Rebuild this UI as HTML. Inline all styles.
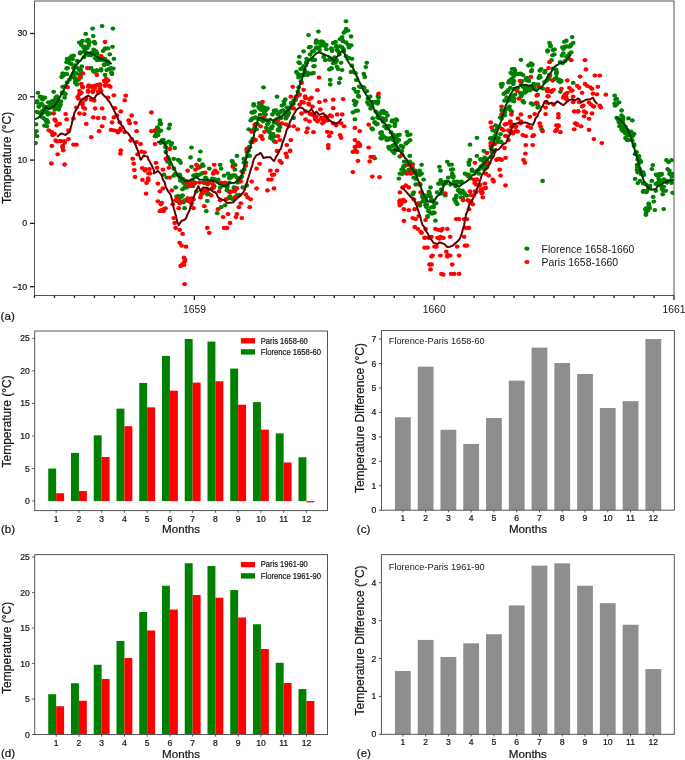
<!DOCTYPE html>
<html><head><meta charset="utf-8"><style>
html,body{margin:0;padding:0;background:#fff;}
svg{display:block;will-change:transform;font-family:"Liberation Sans", sans-serif;}
text{stroke:#161616;stroke-width:0.22px;}
text.ns{stroke:none;}
</style></head><body>
<svg width="685" height="760" viewBox="0 0 685 760">
<rect width="685" height="760" fill="#fff"/>
<defs><clipPath id="cpa"><rect x="34.5" y="1" width="639.5" height="294.5"/></clipPath></defs>
<g clip-path="url(#cpa)"><g fill="#008000">
<ellipse cx="102.1" cy="26.1" rx="2.4" ry="2.15"/>
<ellipse cx="92.6" cy="28.6" rx="2.4" ry="2.15"/>
<ellipse cx="112.9" cy="28.6" rx="2.4" ry="2.15"/>
<ellipse cx="85.7" cy="33.9" rx="2.4" ry="2.15"/>
<ellipse cx="93.2" cy="36.1" rx="2.4" ry="2.15"/>
<ellipse cx="82.4" cy="40.9" rx="2.4" ry="2.15"/>
<ellipse cx="86.9" cy="41.0" rx="2.4" ry="2.15"/>
<ellipse cx="89.3" cy="42.4" rx="2.4" ry="2.15"/>
<ellipse cx="94.2" cy="42.0" rx="2.4" ry="2.15"/>
<ellipse cx="81.4" cy="45.0" rx="2.4" ry="2.15"/>
<ellipse cx="83.7" cy="47.4" rx="2.4" ry="2.15"/>
<ellipse cx="87.3" cy="48.0" rx="2.4" ry="2.15"/>
<ellipse cx="80.4" cy="52.3" rx="2.4" ry="2.15"/>
<ellipse cx="85.3" cy="49.3" rx="2.4" ry="2.15"/>
<ellipse cx="103.1" cy="50.9" rx="2.4" ry="2.15"/>
<ellipse cx="108.0" cy="48.4" rx="2.4" ry="2.15"/>
<ellipse cx="112.5" cy="46.8" rx="2.4" ry="2.15"/>
<ellipse cx="71.5" cy="56.2" rx="2.4" ry="2.15"/>
<ellipse cx="68.5" cy="59.2" rx="2.4" ry="2.15"/>
<ellipse cx="72.5" cy="59.2" rx="2.4" ry="2.15"/>
<ellipse cx="88.3" cy="54.3" rx="2.4" ry="2.15"/>
<ellipse cx="91.2" cy="55.3" rx="2.4" ry="2.15"/>
<ellipse cx="93.2" cy="52.9" rx="2.4" ry="2.15"/>
<ellipse cx="97.2" cy="53.7" rx="2.4" ry="2.15"/>
<ellipse cx="99.1" cy="57.2" rx="2.4" ry="2.15"/>
<ellipse cx="101.1" cy="60.2" rx="2.4" ry="2.15"/>
<ellipse cx="95.2" cy="58.2" rx="2.4" ry="2.15"/>
<ellipse cx="113.9" cy="58.8" rx="2.4" ry="2.15"/>
<ellipse cx="105.0" cy="59.2" rx="2.4" ry="2.15"/>
<ellipse cx="107.0" cy="61.2" rx="2.4" ry="2.15"/>
<ellipse cx="66.6" cy="62.2" rx="2.4" ry="2.15"/>
<ellipse cx="69.5" cy="63.2" rx="2.4" ry="2.15"/>
<ellipse cx="67.6" cy="68.1" rx="2.4" ry="2.15"/>
<ellipse cx="77.4" cy="68.1" rx="2.4" ry="2.15"/>
<ellipse cx="80.4" cy="70.1" rx="2.4" ry="2.15"/>
<ellipse cx="76.4" cy="73.4" rx="2.4" ry="2.15"/>
<ellipse cx="79.4" cy="74.6" rx="2.4" ry="2.15"/>
<ellipse cx="91.2" cy="68.1" rx="2.4" ry="2.15"/>
<ellipse cx="93.2" cy="71.0" rx="2.4" ry="2.15"/>
<ellipse cx="97.2" cy="70.7" rx="2.4" ry="2.15"/>
<ellipse cx="101.1" cy="69.1" rx="2.4" ry="2.15"/>
<ellipse cx="104.1" cy="65.1" rx="2.4" ry="2.15"/>
<ellipse cx="108.0" cy="64.1" rx="2.4" ry="2.15"/>
<ellipse cx="109.0" cy="69.1" rx="2.4" ry="2.15"/>
<ellipse cx="111.0" cy="68.1" rx="2.4" ry="2.15"/>
<ellipse cx="112.0" cy="74.0" rx="2.4" ry="2.15"/>
<ellipse cx="105.0" cy="75.0" rx="2.4" ry="2.15"/>
<ellipse cx="62.6" cy="73.4" rx="2.4" ry="2.15"/>
<ellipse cx="65.6" cy="74.0" rx="2.4" ry="2.15"/>
<ellipse cx="61.6" cy="77.0" rx="2.4" ry="2.15"/>
<ellipse cx="73.5" cy="75.0" rx="2.4" ry="2.15"/>
<ellipse cx="74.5" cy="78.0" rx="2.4" ry="2.15"/>
<ellipse cx="76.4" cy="80.9" rx="2.4" ry="2.15"/>
<ellipse cx="78.4" cy="79.9" rx="2.4" ry="2.15"/>
<ellipse cx="75.4" cy="82.9" rx="2.4" ry="2.15"/>
<ellipse cx="62.6" cy="86.8" rx="2.4" ry="2.15"/>
<ellipse cx="63.6" cy="92.8" rx="2.4" ry="2.15"/>
<ellipse cx="64.6" cy="97.7" rx="2.4" ry="2.15"/>
<ellipse cx="53.7" cy="91.8" rx="2.4" ry="2.15"/>
<ellipse cx="37.9" cy="92.8" rx="2.4" ry="2.15"/>
<ellipse cx="39.9" cy="96.7" rx="2.4" ry="2.15"/>
<ellipse cx="41.9" cy="98.7" rx="2.4" ry="2.15"/>
<ellipse cx="44.9" cy="97.7" rx="2.4" ry="2.15"/>
<ellipse cx="37.0" cy="102.6" rx="2.4" ry="2.15"/>
<ellipse cx="38.9" cy="106.6" rx="2.4" ry="2.15"/>
<ellipse cx="41.9" cy="104.6" rx="2.4" ry="2.15"/>
<ellipse cx="44.9" cy="106.6" rx="2.4" ry="2.15"/>
<ellipse cx="48.8" cy="106.6" rx="2.4" ry="2.15"/>
<ellipse cx="50.8" cy="103.6" rx="2.4" ry="2.15"/>
<ellipse cx="53.7" cy="100.7" rx="2.4" ry="2.15"/>
<ellipse cx="55.7" cy="97.7" rx="2.4" ry="2.15"/>
<ellipse cx="52.7" cy="102.6" rx="2.4" ry="2.15"/>
<ellipse cx="57.7" cy="102.6" rx="2.4" ry="2.15"/>
<ellipse cx="59.7" cy="106.6" rx="2.4" ry="2.15"/>
<ellipse cx="58.7" cy="109.5" rx="2.4" ry="2.15"/>
<ellipse cx="54.7" cy="109.5" rx="2.4" ry="2.15"/>
<ellipse cx="45.8" cy="111.5" rx="2.4" ry="2.15"/>
<ellipse cx="47.8" cy="114.5" rx="2.4" ry="2.15"/>
<ellipse cx="49.8" cy="113.5" rx="2.4" ry="2.15"/>
<ellipse cx="43.9" cy="118.4" rx="2.4" ry="2.15"/>
<ellipse cx="45.8" cy="120.4" rx="2.4" ry="2.15"/>
<ellipse cx="47.8" cy="122.4" rx="2.4" ry="2.15"/>
<ellipse cx="46.8" cy="126.3" rx="2.4" ry="2.15"/>
<ellipse cx="41.9" cy="113.5" rx="2.4" ry="2.15"/>
<ellipse cx="36.0" cy="124.3" rx="2.4" ry="2.15"/>
<ellipse cx="36.4" cy="131.2" rx="2.4" ry="2.15"/>
<ellipse cx="37.0" cy="136.2" rx="2.4" ry="2.15"/>
<ellipse cx="35.6" cy="143.1" rx="2.4" ry="2.15"/>
<ellipse cx="263.5" cy="87.4" rx="2.4" ry="2.15"/>
<ellipse cx="253.7" cy="105.6" rx="2.4" ry="2.15"/>
<ellipse cx="258.6" cy="106.6" rx="2.4" ry="2.15"/>
<ellipse cx="261.6" cy="105.6" rx="2.4" ry="2.15"/>
<ellipse cx="264.5" cy="107.6" rx="2.4" ry="2.15"/>
<ellipse cx="267.5" cy="108.5" rx="2.4" ry="2.15"/>
<ellipse cx="260.6" cy="109.5" rx="2.4" ry="2.15"/>
<ellipse cx="265.5" cy="110.5" rx="2.4" ry="2.15"/>
<ellipse cx="251.7" cy="112.5" rx="2.4" ry="2.15"/>
<ellipse cx="254.7" cy="111.5" rx="2.4" ry="2.15"/>
<ellipse cx="252.7" cy="118.4" rx="2.4" ry="2.15"/>
<ellipse cx="250.7" cy="120.4" rx="2.4" ry="2.15"/>
<ellipse cx="265.5" cy="114.5" rx="2.4" ry="2.15"/>
<ellipse cx="257.6" cy="118.4" rx="2.4" ry="2.15"/>
<ellipse cx="260.6" cy="119.4" rx="2.4" ry="2.15"/>
<ellipse cx="268.5" cy="122.4" rx="2.4" ry="2.15"/>
<ellipse cx="272.4" cy="126.3" rx="2.4" ry="2.15"/>
<ellipse cx="270.4" cy="128.3" rx="2.4" ry="2.15"/>
<ellipse cx="267.5" cy="130.3" rx="2.4" ry="2.15"/>
<ellipse cx="248.7" cy="129.3" rx="2.4" ry="2.15"/>
<ellipse cx="252.7" cy="130.3" rx="2.4" ry="2.15"/>
<ellipse cx="256.6" cy="129.3" rx="2.4" ry="2.15"/>
<ellipse cx="269.5" cy="132.2" rx="2.4" ry="2.15"/>
<ellipse cx="270.4" cy="138.1" rx="2.4" ry="2.15"/>
<ellipse cx="272.4" cy="139.1" rx="2.4" ry="2.15"/>
<ellipse cx="159.9" cy="120.4" rx="2.4" ry="2.15"/>
<ellipse cx="159.9" cy="123.9" rx="2.4" ry="2.15"/>
<ellipse cx="169.8" cy="124.7" rx="2.4" ry="2.15"/>
<ellipse cx="168.8" cy="128.3" rx="2.4" ry="2.15"/>
<ellipse cx="157.9" cy="128.3" rx="2.4" ry="2.15"/>
<ellipse cx="160.9" cy="130.6" rx="2.4" ry="2.15"/>
<ellipse cx="156.0" cy="132.2" rx="2.4" ry="2.15"/>
<ellipse cx="157.9" cy="135.2" rx="2.4" ry="2.15"/>
<ellipse cx="156.0" cy="136.2" rx="2.4" ry="2.15"/>
<ellipse cx="161.9" cy="140.5" rx="2.4" ry="2.15"/>
<ellipse cx="168.8" cy="141.7" rx="2.4" ry="2.15"/>
<ellipse cx="171.8" cy="143.1" rx="2.4" ry="2.15"/>
<ellipse cx="174.7" cy="148.0" rx="2.4" ry="2.15"/>
<ellipse cx="191.5" cy="147.6" rx="2.4" ry="2.15"/>
<ellipse cx="272.4" cy="114.5" rx="2.4" ry="2.15"/>
<ellipse cx="250.7" cy="142.1" rx="2.4" ry="2.15"/>
<ellipse cx="165.8" cy="152.0" rx="2.4" ry="2.15"/>
<ellipse cx="173.7" cy="158.9" rx="2.4" ry="2.15"/>
<ellipse cx="179.7" cy="160.9" rx="2.4" ry="2.15"/>
<ellipse cx="180.6" cy="162.8" rx="2.4" ry="2.15"/>
<ellipse cx="190.5" cy="157.5" rx="2.4" ry="2.15"/>
<ellipse cx="199.4" cy="159.9" rx="2.4" ry="2.15"/>
<ellipse cx="200.4" cy="151.6" rx="2.4" ry="2.15"/>
<ellipse cx="191.5" cy="166.8" rx="2.4" ry="2.15"/>
<ellipse cx="197.4" cy="165.8" rx="2.4" ry="2.15"/>
<ellipse cx="203.3" cy="165.8" rx="2.4" ry="2.15"/>
<ellipse cx="209.3" cy="168.7" rx="2.4" ry="2.15"/>
<ellipse cx="220.1" cy="164.8" rx="2.4" ry="2.15"/>
<ellipse cx="221.1" cy="168.7" rx="2.4" ry="2.15"/>
<ellipse cx="232.0" cy="160.9" rx="2.4" ry="2.15"/>
<ellipse cx="236.9" cy="155.9" rx="2.4" ry="2.15"/>
<ellipse cx="232.9" cy="165.8" rx="2.4" ry="2.15"/>
<ellipse cx="234.9" cy="169.7" rx="2.4" ry="2.15"/>
<ellipse cx="243.8" cy="158.9" rx="2.4" ry="2.15"/>
<ellipse cx="246.8" cy="152.0" rx="2.4" ry="2.15"/>
<ellipse cx="247.7" cy="154.9" rx="2.4" ry="2.15"/>
<ellipse cx="173.7" cy="175.7" rx="2.4" ry="2.15"/>
<ellipse cx="179.7" cy="174.7" rx="2.4" ry="2.15"/>
<ellipse cx="181.6" cy="179.6" rx="2.4" ry="2.15"/>
<ellipse cx="185.6" cy="184.5" rx="2.4" ry="2.15"/>
<ellipse cx="186.6" cy="187.5" rx="2.4" ry="2.15"/>
<ellipse cx="193.5" cy="175.7" rx="2.4" ry="2.15"/>
<ellipse cx="196.4" cy="174.7" rx="2.4" ry="2.15"/>
<ellipse cx="201.4" cy="173.7" rx="2.4" ry="2.15"/>
<ellipse cx="206.3" cy="178.6" rx="2.4" ry="2.15"/>
<ellipse cx="212.2" cy="178.6" rx="2.4" ry="2.15"/>
<ellipse cx="218.1" cy="179.6" rx="2.4" ry="2.15"/>
<ellipse cx="224.1" cy="175.7" rx="2.4" ry="2.15"/>
<ellipse cx="228.0" cy="173.7" rx="2.4" ry="2.15"/>
<ellipse cx="231.0" cy="177.6" rx="2.4" ry="2.15"/>
<ellipse cx="236.9" cy="177.6" rx="2.4" ry="2.15"/>
<ellipse cx="241.8" cy="176.6" rx="2.4" ry="2.15"/>
<ellipse cx="163.9" cy="174.7" rx="2.4" ry="2.15"/>
<ellipse cx="166.8" cy="177.6" rx="2.4" ry="2.15"/>
<ellipse cx="175.7" cy="187.5" rx="2.4" ry="2.15"/>
<ellipse cx="184.6" cy="187.5" rx="2.4" ry="2.15"/>
<ellipse cx="191.5" cy="184.5" rx="2.4" ry="2.15"/>
<ellipse cx="196.4" cy="191.4" rx="2.4" ry="2.15"/>
<ellipse cx="203.3" cy="192.4" rx="2.4" ry="2.15"/>
<ellipse cx="207.3" cy="194.4" rx="2.4" ry="2.15"/>
<ellipse cx="214.2" cy="186.5" rx="2.4" ry="2.15"/>
<ellipse cx="223.1" cy="185.5" rx="2.4" ry="2.15"/>
<ellipse cx="227.0" cy="187.5" rx="2.4" ry="2.15"/>
<ellipse cx="229.0" cy="191.4" rx="2.4" ry="2.15"/>
<ellipse cx="233.9" cy="187.5" rx="2.4" ry="2.15"/>
<ellipse cx="176.7" cy="196.4" rx="2.4" ry="2.15"/>
<ellipse cx="182.6" cy="195.4" rx="2.4" ry="2.15"/>
<ellipse cx="177.7" cy="201.3" rx="2.4" ry="2.15"/>
<ellipse cx="183.6" cy="202.3" rx="2.4" ry="2.15"/>
<ellipse cx="184.6" cy="208.2" rx="2.4" ry="2.15"/>
<ellipse cx="206.3" cy="211.2" rx="2.4" ry="2.15"/>
<ellipse cx="207.3" cy="200.9" rx="2.4" ry="2.15"/>
<ellipse cx="217.2" cy="213.2" rx="2.4" ry="2.15"/>
<ellipse cx="221.1" cy="207.2" rx="2.4" ry="2.15"/>
<ellipse cx="225.0" cy="205.3" rx="2.4" ry="2.15"/>
<ellipse cx="230.0" cy="196.4" rx="2.4" ry="2.15"/>
<ellipse cx="232.9" cy="199.3" rx="2.4" ry="2.15"/>
<ellipse cx="236.9" cy="195.4" rx="2.4" ry="2.15"/>
<ellipse cx="242.8" cy="187.5" rx="2.4" ry="2.15"/>
<ellipse cx="246.8" cy="185.5" rx="2.4" ry="2.15"/>
<ellipse cx="346.0" cy="21.3" rx="2.4" ry="2.15"/>
<ellipse cx="318.4" cy="31.6" rx="2.4" ry="2.15"/>
<ellipse cx="348.0" cy="30.6" rx="2.4" ry="2.15"/>
<ellipse cx="345.0" cy="31.6" rx="2.4" ry="2.15"/>
<ellipse cx="351.0" cy="36.5" rx="2.4" ry="2.15"/>
<ellipse cx="308.5" cy="35.1" rx="2.4" ry="2.15"/>
<ellipse cx="342.1" cy="37.1" rx="2.4" ry="2.15"/>
<ellipse cx="316.4" cy="40.5" rx="2.4" ry="2.15"/>
<ellipse cx="319.4" cy="42.4" rx="2.4" ry="2.15"/>
<ellipse cx="323.3" cy="42.4" rx="2.4" ry="2.15"/>
<ellipse cx="326.3" cy="45.0" rx="2.4" ry="2.15"/>
<ellipse cx="321.4" cy="45.4" rx="2.4" ry="2.15"/>
<ellipse cx="333.2" cy="43.0" rx="2.4" ry="2.15"/>
<ellipse cx="336.2" cy="46.4" rx="2.4" ry="2.15"/>
<ellipse cx="343.1" cy="41.4" rx="2.4" ry="2.15"/>
<ellipse cx="346.0" cy="42.4" rx="2.4" ry="2.15"/>
<ellipse cx="349.0" cy="47.4" rx="2.4" ry="2.15"/>
<ellipse cx="310.5" cy="46.8" rx="2.4" ry="2.15"/>
<ellipse cx="316.4" cy="47.4" rx="2.4" ry="2.15"/>
<ellipse cx="331.2" cy="48.4" rx="2.4" ry="2.15"/>
<ellipse cx="303.6" cy="51.3" rx="2.4" ry="2.15"/>
<ellipse cx="313.5" cy="51.3" rx="2.4" ry="2.15"/>
<ellipse cx="338.1" cy="51.3" rx="2.4" ry="2.15"/>
<ellipse cx="342.1" cy="47.4" rx="2.4" ry="2.15"/>
<ellipse cx="299.3" cy="56.8" rx="2.4" ry="2.15"/>
<ellipse cx="306.6" cy="58.8" rx="2.4" ry="2.15"/>
<ellipse cx="312.5" cy="60.2" rx="2.4" ry="2.15"/>
<ellipse cx="325.3" cy="60.2" rx="2.4" ry="2.15"/>
<ellipse cx="329.3" cy="59.2" rx="2.4" ry="2.15"/>
<ellipse cx="333.2" cy="63.2" rx="2.4" ry="2.15"/>
<ellipse cx="341.1" cy="62.8" rx="2.4" ry="2.15"/>
<ellipse cx="352.0" cy="58.8" rx="2.4" ry="2.15"/>
<ellipse cx="366.8" cy="62.8" rx="2.4" ry="2.15"/>
<ellipse cx="365.8" cy="67.1" rx="2.4" ry="2.15"/>
<ellipse cx="299.7" cy="63.2" rx="2.4" ry="2.15"/>
<ellipse cx="303.6" cy="66.1" rx="2.4" ry="2.15"/>
<ellipse cx="300.6" cy="69.1" rx="2.4" ry="2.15"/>
<ellipse cx="314.5" cy="66.1" rx="2.4" ry="2.15"/>
<ellipse cx="331.2" cy="68.1" rx="2.4" ry="2.15"/>
<ellipse cx="329.3" cy="69.5" rx="2.4" ry="2.15"/>
<ellipse cx="338.1" cy="69.1" rx="2.4" ry="2.15"/>
<ellipse cx="342.1" cy="70.1" rx="2.4" ry="2.15"/>
<ellipse cx="297.7" cy="74.0" rx="2.4" ry="2.15"/>
<ellipse cx="307.6" cy="75.0" rx="2.4" ry="2.15"/>
<ellipse cx="313.5" cy="73.0" rx="2.4" ry="2.15"/>
<ellipse cx="363.8" cy="74.0" rx="2.4" ry="2.15"/>
<ellipse cx="364.8" cy="77.0" rx="2.4" ry="2.15"/>
<ellipse cx="330.2" cy="79.9" rx="2.4" ry="2.15"/>
<ellipse cx="340.1" cy="78.5" rx="2.4" ry="2.15"/>
<ellipse cx="330.2" cy="84.5" rx="2.4" ry="2.15"/>
<ellipse cx="339.1" cy="82.9" rx="2.4" ry="2.15"/>
<ellipse cx="299.7" cy="76.0" rx="2.4" ry="2.15"/>
<ellipse cx="304.6" cy="73.0" rx="2.4" ry="2.15"/>
<ellipse cx="351.0" cy="72.0" rx="2.4" ry="2.15"/>
<ellipse cx="353.9" cy="88.8" rx="2.4" ry="2.15"/>
<ellipse cx="357.9" cy="91.8" rx="2.4" ry="2.15"/>
<ellipse cx="360.8" cy="86.8" rx="2.4" ry="2.15"/>
<ellipse cx="366.8" cy="91.2" rx="2.4" ry="2.15"/>
<ellipse cx="277.0" cy="96.7" rx="2.4" ry="2.15"/>
<ellipse cx="283.9" cy="101.6" rx="2.4" ry="2.15"/>
<ellipse cx="281.9" cy="105.6" rx="2.4" ry="2.15"/>
<ellipse cx="286.8" cy="107.6" rx="2.4" ry="2.15"/>
<ellipse cx="291.8" cy="104.6" rx="2.4" ry="2.15"/>
<ellipse cx="293.7" cy="100.7" rx="2.4" ry="2.15"/>
<ellipse cx="276.0" cy="110.5" rx="2.4" ry="2.15"/>
<ellipse cx="280.9" cy="111.5" rx="2.4" ry="2.15"/>
<ellipse cx="277.9" cy="114.5" rx="2.4" ry="2.15"/>
<ellipse cx="284.9" cy="114.1" rx="2.4" ry="2.15"/>
<ellipse cx="288.8" cy="112.9" rx="2.4" ry="2.15"/>
<ellipse cx="275.0" cy="120.4" rx="2.4" ry="2.15"/>
<ellipse cx="277.9" cy="123.9" rx="2.4" ry="2.15"/>
<ellipse cx="285.8" cy="118.4" rx="2.4" ry="2.15"/>
<ellipse cx="293.7" cy="118.0" rx="2.4" ry="2.15"/>
<ellipse cx="279.9" cy="127.3" rx="2.4" ry="2.15"/>
<ellipse cx="277.9" cy="129.9" rx="2.4" ry="2.15"/>
<ellipse cx="274.0" cy="136.2" rx="2.4" ry="2.15"/>
<ellipse cx="353.9" cy="100.7" rx="2.4" ry="2.15"/>
<ellipse cx="354.9" cy="104.6" rx="2.4" ry="2.15"/>
<ellipse cx="352.9" cy="112.5" rx="2.4" ry="2.15"/>
<ellipse cx="355.9" cy="110.9" rx="2.4" ry="2.15"/>
<ellipse cx="358.9" cy="96.7" rx="2.4" ry="2.15"/>
<ellipse cx="354.9" cy="119.4" rx="2.4" ry="2.15"/>
<ellipse cx="368.7" cy="104.6" rx="2.4" ry="2.15"/>
<ellipse cx="374.7" cy="102.6" rx="2.4" ry="2.15"/>
<ellipse cx="377.6" cy="103.6" rx="2.4" ry="2.15"/>
<ellipse cx="378.6" cy="97.7" rx="2.4" ry="2.15"/>
<ellipse cx="370.7" cy="108.5" rx="2.4" ry="2.15"/>
<ellipse cx="379.6" cy="114.5" rx="2.4" ry="2.15"/>
<ellipse cx="381.6" cy="111.5" rx="2.4" ry="2.15"/>
<ellipse cx="384.5" cy="112.5" rx="2.4" ry="2.15"/>
<ellipse cx="387.5" cy="115.5" rx="2.4" ry="2.15"/>
<ellipse cx="372.7" cy="118.4" rx="2.4" ry="2.15"/>
<ellipse cx="374.7" cy="122.4" rx="2.4" ry="2.15"/>
<ellipse cx="376.6" cy="124.3" rx="2.4" ry="2.15"/>
<ellipse cx="371.7" cy="128.3" rx="2.4" ry="2.15"/>
<ellipse cx="382.5" cy="118.4" rx="2.4" ry="2.15"/>
<ellipse cx="385.5" cy="120.4" rx="2.4" ry="2.15"/>
<ellipse cx="389.5" cy="126.3" rx="2.4" ry="2.15"/>
<ellipse cx="384.5" cy="126.3" rx="2.4" ry="2.15"/>
<ellipse cx="381.6" cy="132.2" rx="2.4" ry="2.15"/>
<ellipse cx="383.5" cy="136.2" rx="2.4" ry="2.15"/>
<ellipse cx="386.5" cy="138.1" rx="2.4" ry="2.15"/>
<ellipse cx="390.4" cy="138.1" rx="2.4" ry="2.15"/>
<ellipse cx="392.4" cy="146.0" rx="2.4" ry="2.15"/>
<ellipse cx="388.5" cy="147.0" rx="2.4" ry="2.15"/>
<ellipse cx="392.4" cy="120.4" rx="2.4" ry="2.15"/>
<ellipse cx="380.6" cy="138.1" rx="2.4" ry="2.15"/>
<ellipse cx="374.7" cy="158.3" rx="2.4" ry="2.15"/>
<ellipse cx="392.4" cy="151.0" rx="2.4" ry="2.15"/>
<ellipse cx="512.0" cy="69.1" rx="2.4" ry="2.15"/>
<ellipse cx="512.4" cy="74.0" rx="2.4" ry="2.15"/>
<ellipse cx="502.5" cy="83.9" rx="2.4" ry="2.15"/>
<ellipse cx="508.5" cy="82.5" rx="2.4" ry="2.15"/>
<ellipse cx="512.4" cy="82.9" rx="2.4" ry="2.15"/>
<ellipse cx="501.6" cy="86.8" rx="2.4" ry="2.15"/>
<ellipse cx="507.5" cy="91.8" rx="2.4" ry="2.15"/>
<ellipse cx="505.5" cy="92.8" rx="2.4" ry="2.15"/>
<ellipse cx="510.4" cy="87.8" rx="2.4" ry="2.15"/>
<ellipse cx="504.5" cy="100.7" rx="2.4" ry="2.15"/>
<ellipse cx="512.4" cy="100.7" rx="2.4" ry="2.15"/>
<ellipse cx="509.5" cy="106.6" rx="2.4" ry="2.15"/>
<ellipse cx="501.6" cy="110.1" rx="2.4" ry="2.15"/>
<ellipse cx="504.5" cy="110.5" rx="2.4" ry="2.15"/>
<ellipse cx="510.4" cy="110.1" rx="2.4" ry="2.15"/>
<ellipse cx="396.0" cy="119.4" rx="2.4" ry="2.15"/>
<ellipse cx="395.0" cy="123.9" rx="2.4" ry="2.15"/>
<ellipse cx="406.8" cy="131.8" rx="2.4" ry="2.15"/>
<ellipse cx="407.8" cy="135.2" rx="2.4" ry="2.15"/>
<ellipse cx="397.9" cy="135.2" rx="2.4" ry="2.15"/>
<ellipse cx="398.9" cy="140.1" rx="2.4" ry="2.15"/>
<ellipse cx="397.0" cy="142.1" rx="2.4" ry="2.15"/>
<ellipse cx="407.8" cy="142.1" rx="2.4" ry="2.15"/>
<ellipse cx="405.8" cy="143.7" rx="2.4" ry="2.15"/>
<ellipse cx="402.9" cy="147.0" rx="2.4" ry="2.15"/>
<ellipse cx="476.9" cy="137.8" rx="2.4" ry="2.15"/>
<ellipse cx="470.0" cy="144.7" rx="2.4" ry="2.15"/>
<ellipse cx="495.6" cy="125.3" rx="2.4" ry="2.15"/>
<ellipse cx="492.7" cy="130.3" rx="2.4" ry="2.15"/>
<ellipse cx="500.6" cy="134.2" rx="2.4" ry="2.15"/>
<ellipse cx="498.6" cy="138.1" rx="2.4" ry="2.15"/>
<ellipse cx="490.7" cy="138.1" rx="2.4" ry="2.15"/>
<ellipse cx="492.7" cy="140.1" rx="2.4" ry="2.15"/>
<ellipse cx="497.6" cy="142.1" rx="2.4" ry="2.15"/>
<ellipse cx="500.6" cy="141.7" rx="2.4" ry="2.15"/>
<ellipse cx="394.0" cy="138.1" rx="2.4" ry="2.15"/>
<ellipse cx="394.0" cy="151.0" rx="2.4" ry="2.15"/>
<ellipse cx="401.9" cy="151.0" rx="2.4" ry="2.15"/>
<ellipse cx="409.8" cy="155.9" rx="2.4" ry="2.15"/>
<ellipse cx="421.6" cy="164.8" rx="2.4" ry="2.15"/>
<ellipse cx="404.9" cy="165.8" rx="2.4" ry="2.15"/>
<ellipse cx="402.9" cy="168.7" rx="2.4" ry="2.15"/>
<ellipse cx="403.9" cy="170.7" rx="2.4" ry="2.15"/>
<ellipse cx="399.9" cy="173.7" rx="2.4" ry="2.15"/>
<ellipse cx="398.9" cy="178.6" rx="2.4" ry="2.15"/>
<ellipse cx="408.8" cy="169.7" rx="2.4" ry="2.15"/>
<ellipse cx="411.8" cy="169.7" rx="2.4" ry="2.15"/>
<ellipse cx="415.7" cy="171.7" rx="2.4" ry="2.15"/>
<ellipse cx="419.7" cy="170.7" rx="2.4" ry="2.15"/>
<ellipse cx="421.6" cy="173.7" rx="2.4" ry="2.15"/>
<ellipse cx="423.6" cy="179.6" rx="2.4" ry="2.15"/>
<ellipse cx="413.7" cy="177.6" rx="2.4" ry="2.15"/>
<ellipse cx="415.7" cy="184.5" rx="2.4" ry="2.15"/>
<ellipse cx="412.7" cy="194.4" rx="2.4" ry="2.15"/>
<ellipse cx="413.7" cy="192.4" rx="2.4" ry="2.15"/>
<ellipse cx="419.7" cy="203.3" rx="2.4" ry="2.15"/>
<ellipse cx="422.6" cy="197.4" rx="2.4" ry="2.15"/>
<ellipse cx="424.6" cy="201.3" rx="2.4" ry="2.15"/>
<ellipse cx="425.6" cy="205.3" rx="2.4" ry="2.15"/>
<ellipse cx="428.5" cy="211.2" rx="2.4" ry="2.15"/>
<ellipse cx="426.6" cy="207.2" rx="2.4" ry="2.15"/>
<ellipse cx="433.5" cy="207.2" rx="2.4" ry="2.15"/>
<ellipse cx="434.5" cy="212.8" rx="2.4" ry="2.15"/>
<ellipse cx="430.5" cy="212.8" rx="2.4" ry="2.15"/>
<ellipse cx="427.6" cy="216.1" rx="2.4" ry="2.15"/>
<ellipse cx="435.4" cy="220.7" rx="2.4" ry="2.15"/>
<ellipse cx="430.5" cy="187.5" rx="2.4" ry="2.15"/>
<ellipse cx="429.5" cy="193.4" rx="2.4" ry="2.15"/>
<ellipse cx="430.5" cy="196.4" rx="2.4" ry="2.15"/>
<ellipse cx="431.5" cy="199.3" rx="2.4" ry="2.15"/>
<ellipse cx="434.5" cy="203.3" rx="2.4" ry="2.15"/>
<ellipse cx="439.4" cy="166.8" rx="2.4" ry="2.15"/>
<ellipse cx="440.4" cy="170.7" rx="2.4" ry="2.15"/>
<ellipse cx="447.3" cy="161.8" rx="2.4" ry="2.15"/>
<ellipse cx="449.3" cy="164.8" rx="2.4" ry="2.15"/>
<ellipse cx="451.2" cy="169.7" rx="2.4" ry="2.15"/>
<ellipse cx="452.2" cy="173.7" rx="2.4" ry="2.15"/>
<ellipse cx="453.2" cy="177.6" rx="2.4" ry="2.15"/>
<ellipse cx="438.4" cy="183.6" rx="2.4" ry="2.15"/>
<ellipse cx="441.4" cy="182.6" rx="2.4" ry="2.15"/>
<ellipse cx="443.3" cy="184.5" rx="2.4" ry="2.15"/>
<ellipse cx="446.3" cy="181.6" rx="2.4" ry="2.15"/>
<ellipse cx="441.4" cy="189.5" rx="2.4" ry="2.15"/>
<ellipse cx="445.3" cy="195.4" rx="2.4" ry="2.15"/>
<ellipse cx="454.2" cy="181.6" rx="2.4" ry="2.15"/>
<ellipse cx="457.2" cy="181.6" rx="2.4" ry="2.15"/>
<ellipse cx="461.1" cy="181.6" rx="2.4" ry="2.15"/>
<ellipse cx="458.1" cy="190.5" rx="2.4" ry="2.15"/>
<ellipse cx="460.1" cy="192.4" rx="2.4" ry="2.15"/>
<ellipse cx="462.1" cy="191.4" rx="2.4" ry="2.15"/>
<ellipse cx="465.0" cy="194.4" rx="2.4" ry="2.15"/>
<ellipse cx="461.1" cy="197.4" rx="2.4" ry="2.15"/>
<ellipse cx="455.2" cy="200.3" rx="2.4" ry="2.15"/>
<ellipse cx="456.2" cy="202.3" rx="2.4" ry="2.15"/>
<ellipse cx="456.2" cy="197.4" rx="2.4" ry="2.15"/>
<ellipse cx="467.0" cy="174.7" rx="2.4" ry="2.15"/>
<ellipse cx="465.0" cy="173.7" rx="2.4" ry="2.15"/>
<ellipse cx="469.0" cy="164.8" rx="2.4" ry="2.15"/>
<ellipse cx="472.0" cy="169.7" rx="2.4" ry="2.15"/>
<ellipse cx="470.0" cy="159.9" rx="2.4" ry="2.15"/>
<ellipse cx="476.9" cy="155.9" rx="2.4" ry="2.15"/>
<ellipse cx="480.8" cy="159.9" rx="2.4" ry="2.15"/>
<ellipse cx="483.8" cy="161.8" rx="2.4" ry="2.15"/>
<ellipse cx="486.8" cy="158.9" rx="2.4" ry="2.15"/>
<ellipse cx="480.8" cy="166.8" rx="2.4" ry="2.15"/>
<ellipse cx="483.8" cy="168.7" rx="2.4" ry="2.15"/>
<ellipse cx="486.8" cy="166.8" rx="2.4" ry="2.15"/>
<ellipse cx="478.9" cy="173.7" rx="2.4" ry="2.15"/>
<ellipse cx="483.8" cy="151.0" rx="2.4" ry="2.15"/>
<ellipse cx="491.7" cy="152.0" rx="2.4" ry="2.15"/>
<ellipse cx="572.2" cy="37.1" rx="2.4" ry="2.15"/>
<ellipse cx="549.5" cy="43.0" rx="2.4" ry="2.15"/>
<ellipse cx="564.3" cy="41.8" rx="2.4" ry="2.15"/>
<ellipse cx="573.2" cy="43.0" rx="2.4" ry="2.15"/>
<ellipse cx="550.5" cy="46.4" rx="2.4" ry="2.15"/>
<ellipse cx="547.6" cy="50.3" rx="2.4" ry="2.15"/>
<ellipse cx="554.5" cy="49.3" rx="2.4" ry="2.15"/>
<ellipse cx="562.4" cy="47.4" rx="2.4" ry="2.15"/>
<ellipse cx="566.3" cy="46.4" rx="2.4" ry="2.15"/>
<ellipse cx="570.2" cy="46.4" rx="2.4" ry="2.15"/>
<ellipse cx="571.2" cy="52.3" rx="2.4" ry="2.15"/>
<ellipse cx="552.5" cy="55.3" rx="2.4" ry="2.15"/>
<ellipse cx="563.3" cy="53.3" rx="2.4" ry="2.15"/>
<ellipse cx="567.3" cy="56.2" rx="2.4" ry="2.15"/>
<ellipse cx="551.5" cy="60.2" rx="2.4" ry="2.15"/>
<ellipse cx="520.9" cy="59.8" rx="2.4" ry="2.15"/>
<ellipse cx="530.8" cy="63.5" rx="2.4" ry="2.15"/>
<ellipse cx="531.8" cy="65.5" rx="2.4" ry="2.15"/>
<ellipse cx="562.4" cy="63.2" rx="2.4" ry="2.15"/>
<ellipse cx="531.8" cy="70.1" rx="2.4" ry="2.15"/>
<ellipse cx="539.7" cy="70.7" rx="2.4" ry="2.15"/>
<ellipse cx="544.6" cy="72.6" rx="2.4" ry="2.15"/>
<ellipse cx="517.9" cy="74.0" rx="2.4" ry="2.15"/>
<ellipse cx="520.9" cy="74.0" rx="2.4" ry="2.15"/>
<ellipse cx="514.0" cy="76.0" rx="2.4" ry="2.15"/>
<ellipse cx="538.7" cy="78.0" rx="2.4" ry="2.15"/>
<ellipse cx="556.4" cy="74.0" rx="2.4" ry="2.15"/>
<ellipse cx="556.4" cy="78.0" rx="2.4" ry="2.15"/>
<ellipse cx="559.4" cy="79.9" rx="2.4" ry="2.15"/>
<ellipse cx="561.4" cy="80.9" rx="2.4" ry="2.15"/>
<ellipse cx="525.8" cy="78.9" rx="2.4" ry="2.15"/>
<ellipse cx="528.8" cy="80.9" rx="2.4" ry="2.15"/>
<ellipse cx="533.7" cy="85.8" rx="2.4" ry="2.15"/>
<ellipse cx="522.9" cy="86.8" rx="2.4" ry="2.15"/>
<ellipse cx="524.9" cy="90.8" rx="2.4" ry="2.15"/>
<ellipse cx="526.8" cy="90.8" rx="2.4" ry="2.15"/>
<ellipse cx="528.8" cy="88.8" rx="2.4" ry="2.15"/>
<ellipse cx="519.9" cy="92.8" rx="2.4" ry="2.15"/>
<ellipse cx="521.9" cy="94.7" rx="2.4" ry="2.15"/>
<ellipse cx="515.0" cy="94.7" rx="2.4" ry="2.15"/>
<ellipse cx="514.0" cy="98.7" rx="2.4" ry="2.15"/>
<ellipse cx="522.9" cy="101.6" rx="2.4" ry="2.15"/>
<ellipse cx="523.9" cy="102.6" rx="2.4" ry="2.15"/>
<ellipse cx="532.7" cy="104.6" rx="2.4" ry="2.15"/>
<ellipse cx="535.7" cy="103.6" rx="2.4" ry="2.15"/>
<ellipse cx="537.7" cy="107.6" rx="2.4" ry="2.15"/>
<ellipse cx="560.4" cy="91.8" rx="2.4" ry="2.15"/>
<ellipse cx="573.2" cy="82.9" rx="2.4" ry="2.15"/>
<ellipse cx="537.7" cy="94.7" rx="2.4" ry="2.15"/>
<ellipse cx="614.7" cy="95.7" rx="2.4" ry="2.15"/>
<ellipse cx="615.6" cy="99.7" rx="2.4" ry="2.15"/>
<ellipse cx="614.7" cy="103.6" rx="2.4" ry="2.15"/>
<ellipse cx="616.6" cy="104.6" rx="2.4" ry="2.15"/>
<ellipse cx="621.6" cy="110.5" rx="2.4" ry="2.15"/>
<ellipse cx="621.6" cy="115.5" rx="2.4" ry="2.15"/>
<ellipse cx="617.6" cy="118.4" rx="2.4" ry="2.15"/>
<ellipse cx="618.6" cy="120.4" rx="2.4" ry="2.15"/>
<ellipse cx="622.5" cy="122.4" rx="2.4" ry="2.15"/>
<ellipse cx="619.6" cy="126.3" rx="2.4" ry="2.15"/>
<ellipse cx="621.6" cy="129.3" rx="2.4" ry="2.15"/>
<ellipse cx="628.5" cy="118.4" rx="2.4" ry="2.15"/>
<ellipse cx="632.4" cy="120.4" rx="2.4" ry="2.15"/>
<ellipse cx="624.5" cy="130.3" rx="2.4" ry="2.15"/>
<ellipse cx="627.5" cy="134.2" rx="2.4" ry="2.15"/>
<ellipse cx="630.4" cy="132.2" rx="2.4" ry="2.15"/>
<ellipse cx="625.5" cy="138.1" rx="2.4" ry="2.15"/>
<ellipse cx="628.5" cy="140.1" rx="2.4" ry="2.15"/>
<ellipse cx="632.4" cy="136.2" rx="2.4" ry="2.15"/>
<ellipse cx="541.6" cy="129.3" rx="2.4" ry="2.15"/>
<ellipse cx="515.0" cy="71.0" rx="2.4" ry="2.15"/>
<ellipse cx="514.0" cy="80.9" rx="2.4" ry="2.15"/>
<ellipse cx="539.7" cy="76.0" rx="2.4" ry="2.15"/>
<ellipse cx="542.6" cy="181.0" rx="2.4" ry="2.15"/>
<ellipse cx="634.1" cy="144.4" rx="2.4" ry="2.15"/>
<ellipse cx="639.0" cy="156.2" rx="2.4" ry="2.15"/>
<ellipse cx="640.0" cy="160.2" rx="2.4" ry="2.15"/>
<ellipse cx="637.0" cy="165.1" rx="2.4" ry="2.15"/>
<ellipse cx="637.0" cy="170.1" rx="2.4" ry="2.15"/>
<ellipse cx="641.0" cy="174.0" rx="2.4" ry="2.15"/>
<ellipse cx="643.9" cy="175.0" rx="2.4" ry="2.15"/>
<ellipse cx="635.1" cy="178.9" rx="2.4" ry="2.15"/>
<ellipse cx="640.0" cy="180.9" rx="2.4" ry="2.15"/>
<ellipse cx="643.0" cy="191.8" rx="2.4" ry="2.15"/>
<ellipse cx="645.9" cy="191.8" rx="2.4" ry="2.15"/>
<ellipse cx="649.9" cy="187.8" rx="2.4" ry="2.15"/>
<ellipse cx="652.8" cy="165.1" rx="2.4" ry="2.15"/>
<ellipse cx="651.8" cy="169.1" rx="2.4" ry="2.15"/>
<ellipse cx="651.8" cy="180.9" rx="2.4" ry="2.15"/>
<ellipse cx="656.8" cy="175.0" rx="2.4" ry="2.15"/>
<ellipse cx="659.7" cy="174.0" rx="2.4" ry="2.15"/>
<ellipse cx="661.7" cy="174.0" rx="2.4" ry="2.15"/>
<ellipse cx="658.7" cy="178.9" rx="2.4" ry="2.15"/>
<ellipse cx="657.8" cy="182.9" rx="2.4" ry="2.15"/>
<ellipse cx="661.7" cy="182.9" rx="2.4" ry="2.15"/>
<ellipse cx="663.7" cy="186.8" rx="2.4" ry="2.15"/>
<ellipse cx="667.6" cy="169.1" rx="2.4" ry="2.15"/>
<ellipse cx="668.6" cy="162.2" rx="2.4" ry="2.15"/>
<ellipse cx="671.6" cy="160.2" rx="2.4" ry="2.15"/>
<ellipse cx="669.6" cy="174.0" rx="2.4" ry="2.15"/>
<ellipse cx="672.6" cy="174.0" rx="2.4" ry="2.15"/>
<ellipse cx="671.6" cy="182.9" rx="2.4" ry="2.15"/>
<ellipse cx="672.6" cy="192.8" rx="2.4" ry="2.15"/>
<ellipse cx="665.7" cy="190.8" rx="2.4" ry="2.15"/>
<ellipse cx="662.7" cy="194.3" rx="2.4" ry="2.15"/>
<ellipse cx="653.8" cy="201.6" rx="2.4" ry="2.15"/>
<ellipse cx="648.9" cy="205.6" rx="2.4" ry="2.15"/>
<ellipse cx="645.9" cy="208.5" rx="2.4" ry="2.15"/>
<ellipse cx="647.9" cy="210.5" rx="2.4" ry="2.15"/>
<ellipse cx="654.8" cy="210.1" rx="2.4" ry="2.15"/>
<ellipse cx="663.7" cy="209.1" rx="2.4" ry="2.15"/>
<ellipse cx="645.9" cy="214.9" rx="2.4" ry="2.15"/>
<ellipse cx="646.9" cy="190.8" rx="2.4" ry="2.15"/>
<ellipse cx="655.8" cy="190.8" rx="2.4" ry="2.15"/>
<ellipse cx="666.6" cy="180.9" rx="2.4" ry="2.15"/>
<ellipse cx="80.5" cy="42.6" rx="2.4" ry="2.15"/>
<ellipse cx="88.2" cy="39.8" rx="2.4" ry="2.15"/>
<ellipse cx="89.2" cy="42.2" rx="2.4" ry="2.15"/>
<ellipse cx="95.0" cy="43.5" rx="2.4" ry="2.15"/>
<ellipse cx="79.3" cy="42.6" rx="2.4" ry="2.15"/>
<ellipse cx="85.4" cy="47.0" rx="2.4" ry="2.15"/>
<ellipse cx="88.6" cy="45.5" rx="2.4" ry="2.15"/>
<ellipse cx="80.1" cy="53.4" rx="2.4" ry="2.15"/>
<ellipse cx="84.0" cy="51.6" rx="2.4" ry="2.15"/>
<ellipse cx="105.1" cy="48.6" rx="2.4" ry="2.15"/>
<ellipse cx="105.6" cy="48.6" rx="2.4" ry="2.15"/>
<ellipse cx="73.7" cy="55.7" rx="2.4" ry="2.15"/>
<ellipse cx="67.1" cy="58.8" rx="2.4" ry="2.15"/>
<ellipse cx="70.1" cy="57.8" rx="2.4" ry="2.15"/>
<ellipse cx="88.0" cy="54.3" rx="2.4" ry="2.15"/>
<ellipse cx="89.9" cy="53.9" rx="2.4" ry="2.15"/>
<ellipse cx="91.8" cy="52.7" rx="2.4" ry="2.15"/>
<ellipse cx="96.1" cy="51.3" rx="2.4" ry="2.15"/>
<ellipse cx="100.8" cy="57.5" rx="2.4" ry="2.15"/>
<ellipse cx="101.8" cy="58.6" rx="2.4" ry="2.15"/>
<ellipse cx="97.6" cy="60.0" rx="2.4" ry="2.15"/>
<ellipse cx="103.2" cy="58.4" rx="2.4" ry="2.15"/>
<ellipse cx="108.1" cy="62.2" rx="2.4" ry="2.15"/>
<ellipse cx="68.7" cy="61.8" rx="2.4" ry="2.15"/>
<ellipse cx="71.2" cy="64.0" rx="2.4" ry="2.15"/>
<ellipse cx="66.6" cy="68.5" rx="2.4" ry="2.15"/>
<ellipse cx="79.3" cy="69.8" rx="2.4" ry="2.15"/>
<ellipse cx="80.4" cy="70.5" rx="2.4" ry="2.15"/>
<ellipse cx="74.1" cy="72.1" rx="2.4" ry="2.15"/>
<ellipse cx="80.9" cy="74.2" rx="2.4" ry="2.15"/>
<ellipse cx="89.6" cy="68.3" rx="2.4" ry="2.15"/>
<ellipse cx="94.2" cy="71.9" rx="2.4" ry="2.15"/>
<ellipse cx="96.5" cy="70.3" rx="2.4" ry="2.15"/>
<ellipse cx="101.1" cy="70.5" rx="2.4" ry="2.15"/>
<ellipse cx="104.2" cy="64.6" rx="2.4" ry="2.15"/>
<ellipse cx="108.0" cy="61.8" rx="2.4" ry="2.15"/>
<ellipse cx="106.7" cy="70.1" rx="2.4" ry="2.15"/>
<ellipse cx="113.4" cy="68.6" rx="2.4" ry="2.15"/>
<ellipse cx="111.4" cy="72.4" rx="2.4" ry="2.15"/>
<ellipse cx="62.6" cy="75.8" rx="2.4" ry="2.15"/>
<ellipse cx="66.9" cy="74.2" rx="2.4" ry="2.15"/>
<ellipse cx="63.4" cy="75.6" rx="2.4" ry="2.15"/>
<ellipse cx="73.5" cy="77.3" rx="2.4" ry="2.15"/>
<ellipse cx="74.8" cy="77.8" rx="2.4" ry="2.15"/>
<ellipse cx="75.3" cy="81.2" rx="2.4" ry="2.15"/>
<ellipse cx="80.7" cy="77.5" rx="2.4" ry="2.15"/>
<ellipse cx="76.9" cy="84.5" rx="2.4" ry="2.15"/>
<ellipse cx="65.5" cy="94.0" rx="2.4" ry="2.15"/>
<ellipse cx="41.5" cy="96.8" rx="2.4" ry="2.15"/>
<ellipse cx="42.2" cy="98.3" rx="2.4" ry="2.15"/>
<ellipse cx="42.6" cy="99.5" rx="2.4" ry="2.15"/>
<ellipse cx="37.3" cy="101.1" rx="2.4" ry="2.15"/>
<ellipse cx="39.0" cy="106.5" rx="2.4" ry="2.15"/>
<ellipse cx="41.2" cy="103.8" rx="2.4" ry="2.15"/>
<ellipse cx="45.0" cy="107.2" rx="2.4" ry="2.15"/>
<ellipse cx="49.4" cy="106.4" rx="2.4" ry="2.15"/>
<ellipse cx="48.4" cy="102.3" rx="2.4" ry="2.15"/>
<ellipse cx="52.1" cy="101.1" rx="2.4" ry="2.15"/>
<ellipse cx="57.5" cy="99.2" rx="2.4" ry="2.15"/>
<ellipse cx="54.2" cy="104.2" rx="2.4" ry="2.15"/>
<ellipse cx="56.5" cy="104.3" rx="2.4" ry="2.15"/>
<ellipse cx="60.5" cy="104.5" rx="2.4" ry="2.15"/>
<ellipse cx="56.3" cy="107.1" rx="2.4" ry="2.15"/>
<ellipse cx="56.0" cy="108.3" rx="2.4" ry="2.15"/>
<ellipse cx="43.9" cy="112.1" rx="2.4" ry="2.15"/>
<ellipse cx="47.0" cy="112.3" rx="2.4" ry="2.15"/>
<ellipse cx="48.1" cy="113.6" rx="2.4" ry="2.15"/>
<ellipse cx="42.2" cy="117.3" rx="2.4" ry="2.15"/>
<ellipse cx="46.9" cy="120.2" rx="2.4" ry="2.15"/>
<ellipse cx="46.9" cy="122.2" rx="2.4" ry="2.15"/>
<ellipse cx="44.4" cy="125.7" rx="2.4" ry="2.15"/>
<ellipse cx="41.5" cy="111.9" rx="2.4" ry="2.15"/>
<ellipse cx="34.4" cy="133.2" rx="2.4" ry="2.15"/>
<ellipse cx="253.7" cy="104.1" rx="2.4" ry="2.15"/>
<ellipse cx="259.1" cy="108.2" rx="2.4" ry="2.15"/>
<ellipse cx="259.2" cy="103.2" rx="2.4" ry="2.15"/>
<ellipse cx="262.8" cy="108.7" rx="2.4" ry="2.15"/>
<ellipse cx="265.8" cy="109.6" rx="2.4" ry="2.15"/>
<ellipse cx="261.5" cy="109.8" rx="2.4" ry="2.15"/>
<ellipse cx="264.1" cy="112.9" rx="2.4" ry="2.15"/>
<ellipse cx="253.2" cy="112.6" rx="2.4" ry="2.15"/>
<ellipse cx="253.3" cy="112.2" rx="2.4" ry="2.15"/>
<ellipse cx="252.2" cy="118.8" rx="2.4" ry="2.15"/>
<ellipse cx="264.6" cy="115.1" rx="2.4" ry="2.15"/>
<ellipse cx="255.4" cy="117.4" rx="2.4" ry="2.15"/>
<ellipse cx="262.9" cy="121.3" rx="2.4" ry="2.15"/>
<ellipse cx="267.5" cy="124.2" rx="2.4" ry="2.15"/>
<ellipse cx="271.5" cy="128.5" rx="2.4" ry="2.15"/>
<ellipse cx="271.7" cy="127.9" rx="2.4" ry="2.15"/>
<ellipse cx="266.2" cy="127.8" rx="2.4" ry="2.15"/>
<ellipse cx="254.6" cy="127.9" rx="2.4" ry="2.15"/>
<ellipse cx="271.1" cy="134.5" rx="2.4" ry="2.15"/>
<ellipse cx="270.8" cy="136.5" rx="2.4" ry="2.15"/>
<ellipse cx="274.3" cy="141.5" rx="2.4" ry="2.15"/>
<ellipse cx="160.9" cy="124.0" rx="2.4" ry="2.15"/>
<ellipse cx="157.3" cy="127.5" rx="2.4" ry="2.15"/>
<ellipse cx="159.4" cy="131.5" rx="2.4" ry="2.15"/>
<ellipse cx="155.6" cy="130.7" rx="2.4" ry="2.15"/>
<ellipse cx="156.0" cy="136.0" rx="2.4" ry="2.15"/>
<ellipse cx="155.0" cy="136.2" rx="2.4" ry="2.15"/>
<ellipse cx="170.9" cy="144.9" rx="2.4" ry="2.15"/>
<ellipse cx="274.4" cy="112.1" rx="2.4" ry="2.15"/>
<ellipse cx="178.2" cy="160.0" rx="2.4" ry="2.15"/>
<ellipse cx="199.9" cy="167.2" rx="2.4" ry="2.15"/>
<ellipse cx="202.5" cy="164.4" rx="2.4" ry="2.15"/>
<ellipse cx="232.8" cy="162.5" rx="2.4" ry="2.15"/>
<ellipse cx="235.1" cy="165.0" rx="2.4" ry="2.15"/>
<ellipse cx="249.7" cy="155.9" rx="2.4" ry="2.15"/>
<ellipse cx="179.6" cy="177.1" rx="2.4" ry="2.15"/>
<ellipse cx="180.3" cy="180.7" rx="2.4" ry="2.15"/>
<ellipse cx="183.5" cy="182.9" rx="2.4" ry="2.15"/>
<ellipse cx="188.6" cy="186.1" rx="2.4" ry="2.15"/>
<ellipse cx="197.7" cy="175.2" rx="2.4" ry="2.15"/>
<ellipse cx="203.1" cy="173.0" rx="2.4" ry="2.15"/>
<ellipse cx="205.5" cy="177.6" rx="2.4" ry="2.15"/>
<ellipse cx="214.1" cy="179.1" rx="2.4" ry="2.15"/>
<ellipse cx="230.3" cy="175.6" rx="2.4" ry="2.15"/>
<ellipse cx="229.1" cy="177.9" rx="2.4" ry="2.15"/>
<ellipse cx="234.9" cy="175.3" rx="2.4" ry="2.15"/>
<ellipse cx="182.5" cy="189.3" rx="2.4" ry="2.15"/>
<ellipse cx="192.9" cy="186.2" rx="2.4" ry="2.15"/>
<ellipse cx="202.5" cy="193.0" rx="2.4" ry="2.15"/>
<ellipse cx="208.7" cy="193.8" rx="2.4" ry="2.15"/>
<ellipse cx="227.4" cy="186.1" rx="2.4" ry="2.15"/>
<ellipse cx="226.9" cy="190.3" rx="2.4" ry="2.15"/>
<ellipse cx="235.9" cy="187.8" rx="2.4" ry="2.15"/>
<ellipse cx="178.8" cy="196.2" rx="2.4" ry="2.15"/>
<ellipse cx="181.5" cy="196.8" rx="2.4" ry="2.15"/>
<ellipse cx="179.3" cy="198.9" rx="2.4" ry="2.15"/>
<ellipse cx="184.5" cy="200.3" rx="2.4" ry="2.15"/>
<ellipse cx="228.1" cy="198.3" rx="2.4" ry="2.15"/>
<ellipse cx="230.6" cy="198.0" rx="2.4" ry="2.15"/>
<ellipse cx="239.3" cy="195.0" rx="2.4" ry="2.15"/>
<ellipse cx="346.1" cy="28.9" rx="2.4" ry="2.15"/>
<ellipse cx="343.8" cy="32.8" rx="2.4" ry="2.15"/>
<ellipse cx="340.1" cy="39.2" rx="2.4" ry="2.15"/>
<ellipse cx="315.8" cy="42.8" rx="2.4" ry="2.15"/>
<ellipse cx="321.4" cy="41.4" rx="2.4" ry="2.15"/>
<ellipse cx="322.1" cy="42.3" rx="2.4" ry="2.15"/>
<ellipse cx="324.3" cy="45.8" rx="2.4" ry="2.15"/>
<ellipse cx="319.1" cy="42.9" rx="2.4" ry="2.15"/>
<ellipse cx="335.6" cy="42.0" rx="2.4" ry="2.15"/>
<ellipse cx="336.6" cy="46.1" rx="2.4" ry="2.15"/>
<ellipse cx="342.1" cy="39.3" rx="2.4" ry="2.15"/>
<ellipse cx="348.1" cy="44.8" rx="2.4" ry="2.15"/>
<ellipse cx="351.3" cy="45.4" rx="2.4" ry="2.15"/>
<ellipse cx="309.1" cy="47.4" rx="2.4" ry="2.15"/>
<ellipse cx="318.8" cy="47.6" rx="2.4" ry="2.15"/>
<ellipse cx="332.2" cy="49.2" rx="2.4" ry="2.15"/>
<ellipse cx="312.3" cy="51.5" rx="2.4" ry="2.15"/>
<ellipse cx="337.2" cy="50.0" rx="2.4" ry="2.15"/>
<ellipse cx="340.0" cy="46.3" rx="2.4" ry="2.15"/>
<ellipse cx="314.9" cy="59.9" rx="2.4" ry="2.15"/>
<ellipse cx="330.0" cy="59.9" rx="2.4" ry="2.15"/>
<ellipse cx="335.4" cy="62.6" rx="2.4" ry="2.15"/>
<ellipse cx="298.7" cy="62.3" rx="2.4" ry="2.15"/>
<ellipse cx="302.7" cy="67.8" rx="2.4" ry="2.15"/>
<ellipse cx="302.6" cy="68.1" rx="2.4" ry="2.15"/>
<ellipse cx="313.6" cy="66.3" rx="2.4" ry="2.15"/>
<ellipse cx="331.6" cy="68.6" rx="2.4" ry="2.15"/>
<ellipse cx="336.9" cy="66.7" rx="2.4" ry="2.15"/>
<ellipse cx="296.4" cy="71.9" rx="2.4" ry="2.15"/>
<ellipse cx="307.8" cy="72.8" rx="2.4" ry="2.15"/>
<ellipse cx="311.3" cy="73.7" rx="2.4" ry="2.15"/>
<ellipse cx="298.6" cy="77.4" rx="2.4" ry="2.15"/>
<ellipse cx="304.6" cy="74.8" rx="2.4" ry="2.15"/>
<ellipse cx="356.1" cy="91.8" rx="2.4" ry="2.15"/>
<ellipse cx="285.3" cy="99.5" rx="2.4" ry="2.15"/>
<ellipse cx="284.1" cy="104.0" rx="2.4" ry="2.15"/>
<ellipse cx="288.2" cy="110.0" rx="2.4" ry="2.15"/>
<ellipse cx="293.4" cy="103.7" rx="2.4" ry="2.15"/>
<ellipse cx="274.0" cy="110.6" rx="2.4" ry="2.15"/>
<ellipse cx="283.0" cy="110.5" rx="2.4" ry="2.15"/>
<ellipse cx="279.9" cy="112.7" rx="2.4" ry="2.15"/>
<ellipse cx="286.9" cy="111.7" rx="2.4" ry="2.15"/>
<ellipse cx="287.9" cy="114.9" rx="2.4" ry="2.15"/>
<ellipse cx="276.5" cy="122.4" rx="2.4" ry="2.15"/>
<ellipse cx="279.7" cy="125.2" rx="2.4" ry="2.15"/>
<ellipse cx="286.8" cy="116.8" rx="2.4" ry="2.15"/>
<ellipse cx="279.6" cy="125.6" rx="2.4" ry="2.15"/>
<ellipse cx="279.0" cy="130.7" rx="2.4" ry="2.15"/>
<ellipse cx="272.8" cy="134.0" rx="2.4" ry="2.15"/>
<ellipse cx="356.2" cy="102.2" rx="2.4" ry="2.15"/>
<ellipse cx="355.2" cy="104.8" rx="2.4" ry="2.15"/>
<ellipse cx="357.7" cy="110.7" rx="2.4" ry="2.15"/>
<ellipse cx="358.3" cy="95.9" rx="2.4" ry="2.15"/>
<ellipse cx="367.5" cy="102.2" rx="2.4" ry="2.15"/>
<ellipse cx="375.4" cy="102.2" rx="2.4" ry="2.15"/>
<ellipse cx="378.0" cy="101.4" rx="2.4" ry="2.15"/>
<ellipse cx="377.9" cy="95.9" rx="2.4" ry="2.15"/>
<ellipse cx="377.7" cy="113.3" rx="2.4" ry="2.15"/>
<ellipse cx="383.2" cy="111.0" rx="2.4" ry="2.15"/>
<ellipse cx="384.0" cy="113.1" rx="2.4" ry="2.15"/>
<ellipse cx="386.1" cy="113.0" rx="2.4" ry="2.15"/>
<ellipse cx="374.8" cy="122.4" rx="2.4" ry="2.15"/>
<ellipse cx="377.4" cy="124.0" rx="2.4" ry="2.15"/>
<ellipse cx="372.6" cy="129.4" rx="2.4" ry="2.15"/>
<ellipse cx="381.2" cy="118.4" rx="2.4" ry="2.15"/>
<ellipse cx="385.4" cy="119.0" rx="2.4" ry="2.15"/>
<ellipse cx="389.0" cy="126.6" rx="2.4" ry="2.15"/>
<ellipse cx="386.6" cy="128.4" rx="2.4" ry="2.15"/>
<ellipse cx="380.4" cy="133.0" rx="2.4" ry="2.15"/>
<ellipse cx="381.3" cy="134.0" rx="2.4" ry="2.15"/>
<ellipse cx="386.6" cy="140.0" rx="2.4" ry="2.15"/>
<ellipse cx="388.7" cy="139.5" rx="2.4" ry="2.15"/>
<ellipse cx="394.3" cy="145.1" rx="2.4" ry="2.15"/>
<ellipse cx="389.4" cy="148.8" rx="2.4" ry="2.15"/>
<ellipse cx="391.8" cy="121.4" rx="2.4" ry="2.15"/>
<ellipse cx="381.8" cy="138.6" rx="2.4" ry="2.15"/>
<ellipse cx="394.2" cy="153.0" rx="2.4" ry="2.15"/>
<ellipse cx="514.3" cy="69.4" rx="2.4" ry="2.15"/>
<ellipse cx="510.8" cy="72.8" rx="2.4" ry="2.15"/>
<ellipse cx="501.1" cy="84.2" rx="2.4" ry="2.15"/>
<ellipse cx="509.8" cy="80.3" rx="2.4" ry="2.15"/>
<ellipse cx="513.3" cy="84.0" rx="2.4" ry="2.15"/>
<ellipse cx="506.7" cy="91.8" rx="2.4" ry="2.15"/>
<ellipse cx="503.8" cy="93.9" rx="2.4" ry="2.15"/>
<ellipse cx="508.1" cy="90.2" rx="2.4" ry="2.15"/>
<ellipse cx="514.0" cy="101.3" rx="2.4" ry="2.15"/>
<ellipse cx="508.3" cy="108.6" rx="2.4" ry="2.15"/>
<ellipse cx="506.8" cy="108.7" rx="2.4" ry="2.15"/>
<ellipse cx="511.8" cy="111.8" rx="2.4" ry="2.15"/>
<ellipse cx="396.8" cy="120.4" rx="2.4" ry="2.15"/>
<ellipse cx="394.7" cy="126.1" rx="2.4" ry="2.15"/>
<ellipse cx="410.2" cy="134.6" rx="2.4" ry="2.15"/>
<ellipse cx="399.5" cy="134.9" rx="2.4" ry="2.15"/>
<ellipse cx="397.3" cy="139.2" rx="2.4" ry="2.15"/>
<ellipse cx="395.1" cy="144.1" rx="2.4" ry="2.15"/>
<ellipse cx="410.1" cy="140.2" rx="2.4" ry="2.15"/>
<ellipse cx="406.3" cy="143.2" rx="2.4" ry="2.15"/>
<ellipse cx="401.0" cy="146.0" rx="2.4" ry="2.15"/>
<ellipse cx="497.3" cy="139.4" rx="2.4" ry="2.15"/>
<ellipse cx="490.2" cy="138.6" rx="2.4" ry="2.15"/>
<ellipse cx="497.3" cy="139.7" rx="2.4" ry="2.15"/>
<ellipse cx="501.2" cy="142.2" rx="2.4" ry="2.15"/>
<ellipse cx="395.7" cy="136.7" rx="2.4" ry="2.15"/>
<ellipse cx="392.9" cy="151.2" rx="2.4" ry="2.15"/>
<ellipse cx="403.7" cy="166.2" rx="2.4" ry="2.15"/>
<ellipse cx="401.6" cy="169.7" rx="2.4" ry="2.15"/>
<ellipse cx="405.3" cy="172.3" rx="2.4" ry="2.15"/>
<ellipse cx="402.3" cy="173.9" rx="2.4" ry="2.15"/>
<ellipse cx="408.8" cy="171.5" rx="2.4" ry="2.15"/>
<ellipse cx="413.1" cy="170.1" rx="2.4" ry="2.15"/>
<ellipse cx="415.1" cy="170.6" rx="2.4" ry="2.15"/>
<ellipse cx="417.7" cy="172.3" rx="2.4" ry="2.15"/>
<ellipse cx="419.7" cy="174.9" rx="2.4" ry="2.15"/>
<ellipse cx="419.9" cy="205.6" rx="2.4" ry="2.15"/>
<ellipse cx="423.9" cy="199.7" rx="2.4" ry="2.15"/>
<ellipse cx="422.8" cy="201.3" rx="2.4" ry="2.15"/>
<ellipse cx="425.9" cy="204.3" rx="2.4" ry="2.15"/>
<ellipse cx="428.6" cy="210.5" rx="2.4" ry="2.15"/>
<ellipse cx="426.7" cy="204.7" rx="2.4" ry="2.15"/>
<ellipse cx="433.2" cy="207.0" rx="2.4" ry="2.15"/>
<ellipse cx="433.5" cy="212.3" rx="2.4" ry="2.15"/>
<ellipse cx="431.9" cy="213.7" rx="2.4" ry="2.15"/>
<ellipse cx="427.5" cy="216.9" rx="2.4" ry="2.15"/>
<ellipse cx="428.9" cy="191.9" rx="2.4" ry="2.15"/>
<ellipse cx="428.0" cy="195.3" rx="2.4" ry="2.15"/>
<ellipse cx="432.0" cy="201.2" rx="2.4" ry="2.15"/>
<ellipse cx="436.1" cy="203.3" rx="2.4" ry="2.15"/>
<ellipse cx="451.7" cy="164.6" rx="2.4" ry="2.15"/>
<ellipse cx="452.9" cy="169.3" rx="2.4" ry="2.15"/>
<ellipse cx="453.4" cy="176.1" rx="2.4" ry="2.15"/>
<ellipse cx="452.2" cy="176.0" rx="2.4" ry="2.15"/>
<ellipse cx="439.0" cy="183.7" rx="2.4" ry="2.15"/>
<ellipse cx="440.7" cy="180.1" rx="2.4" ry="2.15"/>
<ellipse cx="442.8" cy="184.2" rx="2.4" ry="2.15"/>
<ellipse cx="445.8" cy="183.4" rx="2.4" ry="2.15"/>
<ellipse cx="441.8" cy="190.6" rx="2.4" ry="2.15"/>
<ellipse cx="456.2" cy="182.8" rx="2.4" ry="2.15"/>
<ellipse cx="457.1" cy="182.8" rx="2.4" ry="2.15"/>
<ellipse cx="461.8" cy="182.3" rx="2.4" ry="2.15"/>
<ellipse cx="458.8" cy="190.0" rx="2.4" ry="2.15"/>
<ellipse cx="460.8" cy="193.1" rx="2.4" ry="2.15"/>
<ellipse cx="464.3" cy="192.9" rx="2.4" ry="2.15"/>
<ellipse cx="466.8" cy="195.7" rx="2.4" ry="2.15"/>
<ellipse cx="462.7" cy="197.9" rx="2.4" ry="2.15"/>
<ellipse cx="454.4" cy="199.1" rx="2.4" ry="2.15"/>
<ellipse cx="457.2" cy="204.2" rx="2.4" ry="2.15"/>
<ellipse cx="456.4" cy="195.6" rx="2.4" ry="2.15"/>
<ellipse cx="468.7" cy="174.6" rx="2.4" ry="2.15"/>
<ellipse cx="468.8" cy="162.5" rx="2.4" ry="2.15"/>
<ellipse cx="472.0" cy="171.0" rx="2.4" ry="2.15"/>
<ellipse cx="480.4" cy="159.1" rx="2.4" ry="2.15"/>
<ellipse cx="484.6" cy="159.4" rx="2.4" ry="2.15"/>
<ellipse cx="486.8" cy="161.1" rx="2.4" ry="2.15"/>
<ellipse cx="481.8" cy="166.3" rx="2.4" ry="2.15"/>
<ellipse cx="484.7" cy="169.3" rx="2.4" ry="2.15"/>
<ellipse cx="485.3" cy="165.3" rx="2.4" ry="2.15"/>
<ellipse cx="566.3" cy="40.7" rx="2.4" ry="2.15"/>
<ellipse cx="571.1" cy="44.7" rx="2.4" ry="2.15"/>
<ellipse cx="550.6" cy="45.7" rx="2.4" ry="2.15"/>
<ellipse cx="547.6" cy="51.5" rx="2.4" ry="2.15"/>
<ellipse cx="552.8" cy="50.1" rx="2.4" ry="2.15"/>
<ellipse cx="563.4" cy="48.9" rx="2.4" ry="2.15"/>
<ellipse cx="565.1" cy="46.9" rx="2.4" ry="2.15"/>
<ellipse cx="568.9" cy="46.7" rx="2.4" ry="2.15"/>
<ellipse cx="569.6" cy="53.7" rx="2.4" ry="2.15"/>
<ellipse cx="554.3" cy="54.4" rx="2.4" ry="2.15"/>
<ellipse cx="562.0" cy="55.6" rx="2.4" ry="2.15"/>
<ellipse cx="568.3" cy="58.0" rx="2.4" ry="2.15"/>
<ellipse cx="528.4" cy="65.5" rx="2.4" ry="2.15"/>
<ellipse cx="532.4" cy="64.6" rx="2.4" ry="2.15"/>
<ellipse cx="531.4" cy="71.4" rx="2.4" ry="2.15"/>
<ellipse cx="541.1" cy="69.1" rx="2.4" ry="2.15"/>
<ellipse cx="545.2" cy="71.0" rx="2.4" ry="2.15"/>
<ellipse cx="520.3" cy="73.7" rx="2.4" ry="2.15"/>
<ellipse cx="523.0" cy="75.1" rx="2.4" ry="2.15"/>
<ellipse cx="514.5" cy="74.8" rx="2.4" ry="2.15"/>
<ellipse cx="556.6" cy="72.2" rx="2.4" ry="2.15"/>
<ellipse cx="554.6" cy="79.0" rx="2.4" ry="2.15"/>
<ellipse cx="558.7" cy="81.2" rx="2.4" ry="2.15"/>
<ellipse cx="560.1" cy="82.0" rx="2.4" ry="2.15"/>
<ellipse cx="526.9" cy="78.0" rx="2.4" ry="2.15"/>
<ellipse cx="526.8" cy="80.4" rx="2.4" ry="2.15"/>
<ellipse cx="533.7" cy="83.8" rx="2.4" ry="2.15"/>
<ellipse cx="521.3" cy="84.6" rx="2.4" ry="2.15"/>
<ellipse cx="525.3" cy="92.7" rx="2.4" ry="2.15"/>
<ellipse cx="525.4" cy="88.5" rx="2.4" ry="2.15"/>
<ellipse cx="529.8" cy="90.4" rx="2.4" ry="2.15"/>
<ellipse cx="522.2" cy="93.3" rx="2.4" ry="2.15"/>
<ellipse cx="521.1" cy="96.4" rx="2.4" ry="2.15"/>
<ellipse cx="513.1" cy="95.7" rx="2.4" ry="2.15"/>
<ellipse cx="512.0" cy="98.2" rx="2.4" ry="2.15"/>
<ellipse cx="522.9" cy="101.0" rx="2.4" ry="2.15"/>
<ellipse cx="531.1" cy="103.3" rx="2.4" ry="2.15"/>
<ellipse cx="537.3" cy="103.4" rx="2.4" ry="2.15"/>
<ellipse cx="538.1" cy="106.1" rx="2.4" ry="2.15"/>
<ellipse cx="616.7" cy="98.8" rx="2.4" ry="2.15"/>
<ellipse cx="615.1" cy="105.7" rx="2.4" ry="2.15"/>
<ellipse cx="619.1" cy="102.3" rx="2.4" ry="2.15"/>
<ellipse cx="623.0" cy="117.2" rx="2.4" ry="2.15"/>
<ellipse cx="616.7" cy="117.8" rx="2.4" ry="2.15"/>
<ellipse cx="619.0" cy="122.5" rx="2.4" ry="2.15"/>
<ellipse cx="622.0" cy="124.3" rx="2.4" ry="2.15"/>
<ellipse cx="620.9" cy="124.6" rx="2.4" ry="2.15"/>
<ellipse cx="623.6" cy="126.8" rx="2.4" ry="2.15"/>
<ellipse cx="622.7" cy="131.1" rx="2.4" ry="2.15"/>
<ellipse cx="625.3" cy="133.6" rx="2.4" ry="2.15"/>
<ellipse cx="628.6" cy="132.0" rx="2.4" ry="2.15"/>
<ellipse cx="627.2" cy="140.2" rx="2.4" ry="2.15"/>
<ellipse cx="626.1" cy="137.9" rx="2.4" ry="2.15"/>
<ellipse cx="634.1" cy="133.9" rx="2.4" ry="2.15"/>
<ellipse cx="513.9" cy="69.1" rx="2.4" ry="2.15"/>
<ellipse cx="512.0" cy="78.6" rx="2.4" ry="2.15"/>
<ellipse cx="540.3" cy="77.2" rx="2.4" ry="2.15"/>
<ellipse cx="640.9" cy="161.9" rx="2.4" ry="2.15"/>
<ellipse cx="637.8" cy="164.6" rx="2.4" ry="2.15"/>
<ellipse cx="637.7" cy="172.4" rx="2.4" ry="2.15"/>
<ellipse cx="641.7" cy="172.7" rx="2.4" ry="2.15"/>
<ellipse cx="637.8" cy="183.1" rx="2.4" ry="2.15"/>
<ellipse cx="643.4" cy="191.0" rx="2.4" ry="2.15"/>
<ellipse cx="646.4" cy="192.1" rx="2.4" ry="2.15"/>
<ellipse cx="650.0" cy="185.6" rx="2.4" ry="2.15"/>
<ellipse cx="656.0" cy="174.6" rx="2.4" ry="2.15"/>
<ellipse cx="658.2" cy="175.9" rx="2.4" ry="2.15"/>
<ellipse cx="661.3" cy="174.8" rx="2.4" ry="2.15"/>
<ellipse cx="659.8" cy="180.2" rx="2.4" ry="2.15"/>
<ellipse cx="658.9" cy="184.2" rx="2.4" ry="2.15"/>
<ellipse cx="660.5" cy="185.3" rx="2.4" ry="2.15"/>
<ellipse cx="661.9" cy="188.9" rx="2.4" ry="2.15"/>
<ellipse cx="669.4" cy="170.8" rx="2.4" ry="2.15"/>
<ellipse cx="666.4" cy="160.1" rx="2.4" ry="2.15"/>
<ellipse cx="671.2" cy="173.9" rx="2.4" ry="2.15"/>
<ellipse cx="671.9" cy="176.4" rx="2.4" ry="2.15"/>
<ellipse cx="663.4" cy="190.9" rx="2.4" ry="2.15"/>
<ellipse cx="648.6" cy="203.7" rx="2.4" ry="2.15"/>
<ellipse cx="645.4" cy="209.6" rx="2.4" ry="2.15"/>
<ellipse cx="649.8" cy="208.1" rx="2.4" ry="2.15"/>
<ellipse cx="646.0" cy="212.8" rx="2.4" ry="2.15"/>
<ellipse cx="648.4" cy="188.7" rx="2.4" ry="2.15"/>
<ellipse cx="664.3" cy="180.3" rx="2.4" ry="2.15"/>
<ellipse cx="36.9" cy="112.0" rx="2.4" ry="2.15"/>
<ellipse cx="39.9" cy="113.2" rx="2.4" ry="2.15"/>
<ellipse cx="42.5" cy="111.0" rx="2.4" ry="2.15"/>
<ellipse cx="44.7" cy="108.2" rx="2.4" ry="2.15"/>
<ellipse cx="48.7" cy="108.3" rx="2.4" ry="2.15"/>
<ellipse cx="52.4" cy="105.7" rx="2.4" ry="2.15"/>
<ellipse cx="54.6" cy="105.7" rx="2.4" ry="2.15"/>
<ellipse cx="56.8" cy="96.4" rx="2.4" ry="2.15"/>
<ellipse cx="60.8" cy="101.3" rx="2.4" ry="2.15"/>
<ellipse cx="62.2" cy="92.5" rx="2.4" ry="2.15"/>
<ellipse cx="63.4" cy="93.5" rx="2.4" ry="2.15"/>
<ellipse cx="65.0" cy="86.5" rx="2.4" ry="2.15"/>
<ellipse cx="67.1" cy="82.5" rx="2.4" ry="2.15"/>
<ellipse cx="69.5" cy="79.6" rx="2.4" ry="2.15"/>
<ellipse cx="71.3" cy="77.0" rx="2.4" ry="2.15"/>
<ellipse cx="73.5" cy="68.0" rx="2.4" ry="2.15"/>
<ellipse cx="75.0" cy="65.4" rx="2.4" ry="2.15"/>
<ellipse cx="77.3" cy="61.0" rx="2.4" ry="2.15"/>
<ellipse cx="81.8" cy="66.5" rx="2.4" ry="2.15"/>
<ellipse cx="84.0" cy="57.2" rx="2.4" ry="2.15"/>
<ellipse cx="85.7" cy="53.9" rx="2.4" ry="2.15"/>
<ellipse cx="88.4" cy="55.0" rx="2.4" ry="2.15"/>
<ellipse cx="93.7" cy="49.6" rx="2.4" ry="2.15"/>
<ellipse cx="96.9" cy="59.9" rx="2.4" ry="2.15"/>
<ellipse cx="102.0" cy="58.8" rx="2.4" ry="2.15"/>
<ellipse cx="104.5" cy="60.6" rx="2.4" ry="2.15"/>
<ellipse cx="109.8" cy="54.3" rx="2.4" ry="2.15"/>
<ellipse cx="160.7" cy="142.9" rx="2.4" ry="2.15"/>
<ellipse cx="163.3" cy="139.8" rx="2.4" ry="2.15"/>
<ellipse cx="165.9" cy="142.9" rx="2.4" ry="2.15"/>
<ellipse cx="165.4" cy="147.0" rx="2.4" ry="2.15"/>
<ellipse cx="167.5" cy="161.7" rx="2.4" ry="2.15"/>
<ellipse cx="168.5" cy="158.9" rx="2.4" ry="2.15"/>
<ellipse cx="170.4" cy="164.2" rx="2.4" ry="2.15"/>
<ellipse cx="173.8" cy="168.5" rx="2.4" ry="2.15"/>
<ellipse cx="175.1" cy="174.2" rx="2.4" ry="2.15"/>
<ellipse cx="176.6" cy="174.5" rx="2.4" ry="2.15"/>
<ellipse cx="180.3" cy="176.4" rx="2.4" ry="2.15"/>
<ellipse cx="182.8" cy="178.8" rx="2.4" ry="2.15"/>
<ellipse cx="187.1" cy="182.1" rx="2.4" ry="2.15"/>
<ellipse cx="192.4" cy="180.4" rx="2.4" ry="2.15"/>
<ellipse cx="196.2" cy="175.5" rx="2.4" ry="2.15"/>
<ellipse cx="198.8" cy="175.0" rx="2.4" ry="2.15"/>
<ellipse cx="204.9" cy="183.2" rx="2.4" ry="2.15"/>
<ellipse cx="208.5" cy="182.2" rx="2.4" ry="2.15"/>
<ellipse cx="212.7" cy="180.9" rx="2.4" ry="2.15"/>
<ellipse cx="217.7" cy="181.9" rx="2.4" ry="2.15"/>
<ellipse cx="220.2" cy="187.7" rx="2.4" ry="2.15"/>
<ellipse cx="224.2" cy="183.9" rx="2.4" ry="2.15"/>
<ellipse cx="229.2" cy="182.7" rx="2.4" ry="2.15"/>
<ellipse cx="233.3" cy="175.3" rx="2.4" ry="2.15"/>
<ellipse cx="237.8" cy="182.5" rx="2.4" ry="2.15"/>
<ellipse cx="240.8" cy="177.9" rx="2.4" ry="2.15"/>
<ellipse cx="241.7" cy="171.3" rx="2.4" ry="2.15"/>
<ellipse cx="244.3" cy="169.7" rx="2.4" ry="2.15"/>
<ellipse cx="243.9" cy="162.7" rx="2.4" ry="2.15"/>
<ellipse cx="246.0" cy="162.7" rx="2.4" ry="2.15"/>
<ellipse cx="247.5" cy="156.2" rx="2.4" ry="2.15"/>
<ellipse cx="248.5" cy="150.5" rx="2.4" ry="2.15"/>
<ellipse cx="248.9" cy="147.1" rx="2.4" ry="2.15"/>
<ellipse cx="249.9" cy="147.2" rx="2.4" ry="2.15"/>
<ellipse cx="252.4" cy="140.6" rx="2.4" ry="2.15"/>
<ellipse cx="252.8" cy="139.0" rx="2.4" ry="2.15"/>
<ellipse cx="254.0" cy="129.6" rx="2.4" ry="2.15"/>
<ellipse cx="254.7" cy="129.1" rx="2.4" ry="2.15"/>
<ellipse cx="255.8" cy="124.2" rx="2.4" ry="2.15"/>
<ellipse cx="257.5" cy="123.9" rx="2.4" ry="2.15"/>
<ellipse cx="260.1" cy="114.9" rx="2.4" ry="2.15"/>
<ellipse cx="265.4" cy="119.6" rx="2.4" ry="2.15"/>
<ellipse cx="268.5" cy="120.7" rx="2.4" ry="2.15"/>
<ellipse cx="273.9" cy="122.5" rx="2.4" ry="2.15"/>
<ellipse cx="276.7" cy="119.3" rx="2.4" ry="2.15"/>
<ellipse cx="281.1" cy="118.0" rx="2.4" ry="2.15"/>
<ellipse cx="285.6" cy="115.3" rx="2.4" ry="2.15"/>
<ellipse cx="289.2" cy="107.6" rx="2.4" ry="2.15"/>
<ellipse cx="291.1" cy="103.0" rx="2.4" ry="2.15"/>
<ellipse cx="292.5" cy="104.0" rx="2.4" ry="2.15"/>
<ellipse cx="295.7" cy="99.8" rx="2.4" ry="2.15"/>
<ellipse cx="296.7" cy="96.3" rx="2.4" ry="2.15"/>
<ellipse cx="297.9" cy="91.6" rx="2.4" ry="2.15"/>
<ellipse cx="298.7" cy="87.5" rx="2.4" ry="2.15"/>
<ellipse cx="301.0" cy="81.3" rx="2.4" ry="2.15"/>
<ellipse cx="300.7" cy="75.2" rx="2.4" ry="2.15"/>
<ellipse cx="303.7" cy="74.6" rx="2.4" ry="2.15"/>
<ellipse cx="304.6" cy="70.5" rx="2.4" ry="2.15"/>
<ellipse cx="306.1" cy="63.0" rx="2.4" ry="2.15"/>
<ellipse cx="306.8" cy="61.6" rx="2.4" ry="2.15"/>
<ellipse cx="310.1" cy="54.5" rx="2.4" ry="2.15"/>
<ellipse cx="312.3" cy="58.7" rx="2.4" ry="2.15"/>
<ellipse cx="315.8" cy="48.6" rx="2.4" ry="2.15"/>
<ellipse cx="319.6" cy="50.0" rx="2.4" ry="2.15"/>
<ellipse cx="323.6" cy="56.9" rx="2.4" ry="2.15"/>
<ellipse cx="326.4" cy="49.2" rx="2.4" ry="2.15"/>
<ellipse cx="332.0" cy="50.9" rx="2.4" ry="2.15"/>
<ellipse cx="334.6" cy="57.4" rx="2.4" ry="2.15"/>
<ellipse cx="336.7" cy="60.4" rx="2.4" ry="2.15"/>
<ellipse cx="339.3" cy="54.4" rx="2.4" ry="2.15"/>
<ellipse cx="343.6" cy="49.3" rx="2.4" ry="2.15"/>
<ellipse cx="343.8" cy="51.5" rx="2.4" ry="2.15"/>
<ellipse cx="346.0" cy="56.2" rx="2.4" ry="2.15"/>
<ellipse cx="348.9" cy="58.0" rx="2.4" ry="2.15"/>
<ellipse cx="351.8" cy="65.7" rx="2.4" ry="2.15"/>
<ellipse cx="352.9" cy="71.6" rx="2.4" ry="2.15"/>
<ellipse cx="355.5" cy="73.2" rx="2.4" ry="2.15"/>
<ellipse cx="356.3" cy="80.1" rx="2.4" ry="2.15"/>
<ellipse cx="359.2" cy="86.6" rx="2.4" ry="2.15"/>
<ellipse cx="360.7" cy="86.9" rx="2.4" ry="2.15"/>
<ellipse cx="363.1" cy="87.1" rx="2.4" ry="2.15"/>
<ellipse cx="364.2" cy="87.8" rx="2.4" ry="2.15"/>
<ellipse cx="367.9" cy="98.4" rx="2.4" ry="2.15"/>
<ellipse cx="370.2" cy="96.7" rx="2.4" ry="2.15"/>
<ellipse cx="371.7" cy="106.2" rx="2.4" ry="2.15"/>
<ellipse cx="372.8" cy="101.8" rx="2.4" ry="2.15"/>
<ellipse cx="375.8" cy="111.6" rx="2.4" ry="2.15"/>
<ellipse cx="377.5" cy="117.7" rx="2.4" ry="2.15"/>
<ellipse cx="379.3" cy="118.1" rx="2.4" ry="2.15"/>
<ellipse cx="383.0" cy="121.6" rx="2.4" ry="2.15"/>
<ellipse cx="385.9" cy="127.2" rx="2.4" ry="2.15"/>
<ellipse cx="388.6" cy="126.0" rx="2.4" ry="2.15"/>
<ellipse cx="391.1" cy="132.3" rx="2.4" ry="2.15"/>
<ellipse cx="393.4" cy="135.0" rx="2.4" ry="2.15"/>
<ellipse cx="393.1" cy="140.0" rx="2.4" ry="2.15"/>
<ellipse cx="396.5" cy="148.6" rx="2.4" ry="2.15"/>
<ellipse cx="398.1" cy="149.2" rx="2.4" ry="2.15"/>
<ellipse cx="396.1" cy="150.1" rx="2.4" ry="2.15"/>
<ellipse cx="395.2" cy="149.8" rx="2.4" ry="2.15"/>
<ellipse cx="399.8" cy="156.6" rx="2.4" ry="2.15"/>
<ellipse cx="402.0" cy="155.1" rx="2.4" ry="2.15"/>
<ellipse cx="404.3" cy="161.7" rx="2.4" ry="2.15"/>
<ellipse cx="407.1" cy="162.2" rx="2.4" ry="2.15"/>
<ellipse cx="409.8" cy="161.7" rx="2.4" ry="2.15"/>
<ellipse cx="412.7" cy="164.2" rx="2.4" ry="2.15"/>
<ellipse cx="414.8" cy="173.1" rx="2.4" ry="2.15"/>
<ellipse cx="415.8" cy="178.9" rx="2.4" ry="2.15"/>
<ellipse cx="417.0" cy="174.9" rx="2.4" ry="2.15"/>
<ellipse cx="418.8" cy="184.4" rx="2.4" ry="2.15"/>
<ellipse cx="420.4" cy="184.9" rx="2.4" ry="2.15"/>
<ellipse cx="422.5" cy="195.3" rx="2.4" ry="2.15"/>
<ellipse cx="424.4" cy="195.5" rx="2.4" ry="2.15"/>
<ellipse cx="427.4" cy="196.3" rx="2.4" ry="2.15"/>
<ellipse cx="431.3" cy="207.3" rx="2.4" ry="2.15"/>
<ellipse cx="434.9" cy="203.7" rx="2.4" ry="2.15"/>
<ellipse cx="437.2" cy="192.4" rx="2.4" ry="2.15"/>
<ellipse cx="441.4" cy="193.6" rx="2.4" ry="2.15"/>
<ellipse cx="442.5" cy="182.9" rx="2.4" ry="2.15"/>
<ellipse cx="445.1" cy="182.0" rx="2.4" ry="2.15"/>
<ellipse cx="448.2" cy="177.7" rx="2.4" ry="2.15"/>
<ellipse cx="450.6" cy="184.5" rx="2.4" ry="2.15"/>
<ellipse cx="455.6" cy="186.3" rx="2.4" ry="2.15"/>
<ellipse cx="459.6" cy="182.6" rx="2.4" ry="2.15"/>
<ellipse cx="462.5" cy="190.7" rx="2.4" ry="2.15"/>
<ellipse cx="468.0" cy="176.1" rx="2.4" ry="2.15"/>
<ellipse cx="470.5" cy="178.3" rx="2.4" ry="2.15"/>
<ellipse cx="474.7" cy="171.8" rx="2.4" ry="2.15"/>
<ellipse cx="477.6" cy="170.5" rx="2.4" ry="2.15"/>
<ellipse cx="479.5" cy="169.0" rx="2.4" ry="2.15"/>
<ellipse cx="482.7" cy="165.2" rx="2.4" ry="2.15"/>
<ellipse cx="484.6" cy="157.7" rx="2.4" ry="2.15"/>
<ellipse cx="489.1" cy="163.1" rx="2.4" ry="2.15"/>
<ellipse cx="490.8" cy="157.0" rx="2.4" ry="2.15"/>
<ellipse cx="494.3" cy="151.4" rx="2.4" ry="2.15"/>
<ellipse cx="491.2" cy="148.4" rx="2.4" ry="2.15"/>
<ellipse cx="491.8" cy="146.1" rx="2.4" ry="2.15"/>
<ellipse cx="493.7" cy="137.4" rx="2.4" ry="2.15"/>
<ellipse cx="495.7" cy="131.8" rx="2.4" ry="2.15"/>
<ellipse cx="495.4" cy="135.5" rx="2.4" ry="2.15"/>
<ellipse cx="497.0" cy="128.8" rx="2.4" ry="2.15"/>
<ellipse cx="499.2" cy="126.9" rx="2.4" ry="2.15"/>
<ellipse cx="500.2" cy="117.6" rx="2.4" ry="2.15"/>
<ellipse cx="501.6" cy="118.6" rx="2.4" ry="2.15"/>
<ellipse cx="502.5" cy="111.2" rx="2.4" ry="2.15"/>
<ellipse cx="504.8" cy="115.4" rx="2.4" ry="2.15"/>
<ellipse cx="504.6" cy="112.2" rx="2.4" ry="2.15"/>
<ellipse cx="506.7" cy="97.3" rx="2.4" ry="2.15"/>
<ellipse cx="508.2" cy="100.8" rx="2.4" ry="2.15"/>
<ellipse cx="510.0" cy="99.3" rx="2.4" ry="2.15"/>
<ellipse cx="512.3" cy="99.6" rx="2.4" ry="2.15"/>
<ellipse cx="514.0" cy="89.2" rx="2.4" ry="2.15"/>
<ellipse cx="517.7" cy="88.1" rx="2.4" ry="2.15"/>
<ellipse cx="521.9" cy="81.2" rx="2.4" ry="2.15"/>
<ellipse cx="526.2" cy="87.3" rx="2.4" ry="2.15"/>
<ellipse cx="529.6" cy="87.0" rx="2.4" ry="2.15"/>
<ellipse cx="533.5" cy="88.9" rx="2.4" ry="2.15"/>
<ellipse cx="534.7" cy="89.0" rx="2.4" ry="2.15"/>
<ellipse cx="537.9" cy="84.3" rx="2.4" ry="2.15"/>
<ellipse cx="542.9" cy="88.6" rx="2.4" ry="2.15"/>
<ellipse cx="544.5" cy="82.1" rx="2.4" ry="2.15"/>
<ellipse cx="546.6" cy="80.7" rx="2.4" ry="2.15"/>
<ellipse cx="549.1" cy="78.8" rx="2.4" ry="2.15"/>
<ellipse cx="550.1" cy="75.8" rx="2.4" ry="2.15"/>
<ellipse cx="552.9" cy="68.7" rx="2.4" ry="2.15"/>
<ellipse cx="556.1" cy="69.7" rx="2.4" ry="2.15"/>
<ellipse cx="560.1" cy="62.1" rx="2.4" ry="2.15"/>
<ellipse cx="564.8" cy="61.2" rx="2.4" ry="2.15"/>
<ellipse cx="566.5" cy="56.9" rx="2.4" ry="2.15"/>
<ellipse cx="619.2" cy="119.6" rx="2.4" ry="2.15"/>
<ellipse cx="623.0" cy="119.8" rx="2.4" ry="2.15"/>
<ellipse cx="625.3" cy="126.9" rx="2.4" ry="2.15"/>
<ellipse cx="627.7" cy="130.7" rx="2.4" ry="2.15"/>
<ellipse cx="629.7" cy="135.3" rx="2.4" ry="2.15"/>
<ellipse cx="631.1" cy="131.7" rx="2.4" ry="2.15"/>
<ellipse cx="632.3" cy="140.4" rx="2.4" ry="2.15"/>
<ellipse cx="634.0" cy="145.9" rx="2.4" ry="2.15"/>
<ellipse cx="635.1" cy="154.2" rx="2.4" ry="2.15"/>
<ellipse cx="636.5" cy="152.2" rx="2.4" ry="2.15"/>
<ellipse cx="637.7" cy="159.6" rx="2.4" ry="2.15"/>
<ellipse cx="637.5" cy="167.5" rx="2.4" ry="2.15"/>
<ellipse cx="638.3" cy="165.1" rx="2.4" ry="2.15"/>
<ellipse cx="639.5" cy="168.7" rx="2.4" ry="2.15"/>
<ellipse cx="640.2" cy="170.7" rx="2.4" ry="2.15"/>
<ellipse cx="643.1" cy="172.3" rx="2.4" ry="2.15"/>
<ellipse cx="643.2" cy="183.4" rx="2.4" ry="2.15"/>
<ellipse cx="646.0" cy="184.6" rx="2.4" ry="2.15"/>
<ellipse cx="648.3" cy="188.0" rx="2.4" ry="2.15"/>
<ellipse cx="653.2" cy="197.0" rx="2.4" ry="2.15"/>
<ellipse cx="655.8" cy="183.9" rx="2.4" ry="2.15"/>
<ellipse cx="659.7" cy="185.0" rx="2.4" ry="2.15"/>
<ellipse cx="664.0" cy="179.3" rx="2.4" ry="2.15"/>
<ellipse cx="667.0" cy="182.6" rx="2.4" ry="2.15"/>
<ellipse cx="670.6" cy="180.5" rx="2.4" ry="2.15"/>
</g><g fill="#ff0000">
<ellipse cx="105.0" cy="42.0" rx="2.4" ry="2.15"/>
<ellipse cx="101.1" cy="56.2" rx="2.4" ry="2.15"/>
<ellipse cx="87.3" cy="68.1" rx="2.4" ry="2.15"/>
<ellipse cx="96.8" cy="75.0" rx="2.4" ry="2.15"/>
<ellipse cx="82.9" cy="73.4" rx="2.4" ry="2.15"/>
<ellipse cx="79.8" cy="77.4" rx="2.4" ry="2.15"/>
<ellipse cx="104.1" cy="80.9" rx="2.4" ry="2.15"/>
<ellipse cx="108.0" cy="80.5" rx="2.4" ry="2.15"/>
<ellipse cx="109.0" cy="85.8" rx="2.4" ry="2.15"/>
<ellipse cx="105.0" cy="85.8" rx="2.4" ry="2.15"/>
<ellipse cx="81.4" cy="83.9" rx="2.4" ry="2.15"/>
<ellipse cx="82.4" cy="86.8" rx="2.4" ry="2.15"/>
<ellipse cx="88.3" cy="86.8" rx="2.4" ry="2.15"/>
<ellipse cx="91.2" cy="86.8" rx="2.4" ry="2.15"/>
<ellipse cx="94.2" cy="85.8" rx="2.4" ry="2.15"/>
<ellipse cx="97.2" cy="84.9" rx="2.4" ry="2.15"/>
<ellipse cx="100.1" cy="85.3" rx="2.4" ry="2.15"/>
<ellipse cx="67.6" cy="87.2" rx="2.4" ry="2.15"/>
<ellipse cx="79.4" cy="94.3" rx="2.4" ry="2.15"/>
<ellipse cx="81.4" cy="92.8" rx="2.4" ry="2.15"/>
<ellipse cx="88.3" cy="91.8" rx="2.4" ry="2.15"/>
<ellipse cx="93.2" cy="90.4" rx="2.4" ry="2.15"/>
<ellipse cx="98.1" cy="91.8" rx="2.4" ry="2.15"/>
<ellipse cx="101.1" cy="90.8" rx="2.4" ry="2.15"/>
<ellipse cx="113.9" cy="95.3" rx="2.4" ry="2.15"/>
<ellipse cx="125.8" cy="95.7" rx="2.4" ry="2.15"/>
<ellipse cx="124.8" cy="100.3" rx="2.4" ry="2.15"/>
<ellipse cx="78.4" cy="98.7" rx="2.4" ry="2.15"/>
<ellipse cx="82.4" cy="102.6" rx="2.4" ry="2.15"/>
<ellipse cx="85.3" cy="99.7" rx="2.4" ry="2.15"/>
<ellipse cx="91.2" cy="99.7" rx="2.4" ry="2.15"/>
<ellipse cx="94.2" cy="100.7" rx="2.4" ry="2.15"/>
<ellipse cx="108.0" cy="97.7" rx="2.4" ry="2.15"/>
<ellipse cx="76.4" cy="107.6" rx="2.4" ry="2.15"/>
<ellipse cx="83.3" cy="107.6" rx="2.4" ry="2.15"/>
<ellipse cx="95.2" cy="108.5" rx="2.4" ry="2.15"/>
<ellipse cx="102.1" cy="108.5" rx="2.4" ry="2.15"/>
<ellipse cx="114.9" cy="108.2" rx="2.4" ry="2.15"/>
<ellipse cx="65.6" cy="114.1" rx="2.4" ry="2.15"/>
<ellipse cx="53.7" cy="113.5" rx="2.4" ry="2.15"/>
<ellipse cx="79.4" cy="113.5" rx="2.4" ry="2.15"/>
<ellipse cx="84.3" cy="114.1" rx="2.4" ry="2.15"/>
<ellipse cx="93.2" cy="117.4" rx="2.4" ry="2.15"/>
<ellipse cx="98.1" cy="118.0" rx="2.4" ry="2.15"/>
<ellipse cx="104.1" cy="118.0" rx="2.4" ry="2.15"/>
<ellipse cx="113.9" cy="117.4" rx="2.4" ry="2.15"/>
<ellipse cx="116.9" cy="115.5" rx="2.4" ry="2.15"/>
<ellipse cx="120.8" cy="111.5" rx="2.4" ry="2.15"/>
<ellipse cx="131.7" cy="115.5" rx="2.4" ry="2.15"/>
<ellipse cx="151.4" cy="112.5" rx="2.4" ry="2.15"/>
<ellipse cx="54.7" cy="119.4" rx="2.4" ry="2.15"/>
<ellipse cx="66.6" cy="119.4" rx="2.4" ry="2.15"/>
<ellipse cx="73.5" cy="118.4" rx="2.4" ry="2.15"/>
<ellipse cx="112.0" cy="122.4" rx="2.4" ry="2.15"/>
<ellipse cx="119.8" cy="122.4" rx="2.4" ry="2.15"/>
<ellipse cx="128.7" cy="120.4" rx="2.4" ry="2.15"/>
<ellipse cx="129.7" cy="123.3" rx="2.4" ry="2.15"/>
<ellipse cx="135.6" cy="122.8" rx="2.4" ry="2.15"/>
<ellipse cx="56.7" cy="125.3" rx="2.4" ry="2.15"/>
<ellipse cx="59.7" cy="123.9" rx="2.4" ry="2.15"/>
<ellipse cx="86.3" cy="123.9" rx="2.4" ry="2.15"/>
<ellipse cx="102.1" cy="126.3" rx="2.4" ry="2.15"/>
<ellipse cx="48.8" cy="130.3" rx="2.4" ry="2.15"/>
<ellipse cx="51.8" cy="132.2" rx="2.4" ry="2.15"/>
<ellipse cx="68.5" cy="130.3" rx="2.4" ry="2.15"/>
<ellipse cx="99.1" cy="131.2" rx="2.4" ry="2.15"/>
<ellipse cx="111.0" cy="129.9" rx="2.4" ry="2.15"/>
<ellipse cx="113.9" cy="130.3" rx="2.4" ry="2.15"/>
<ellipse cx="116.9" cy="131.2" rx="2.4" ry="2.15"/>
<ellipse cx="120.8" cy="128.3" rx="2.4" ry="2.15"/>
<ellipse cx="124.8" cy="132.2" rx="2.4" ry="2.15"/>
<ellipse cx="136.6" cy="131.2" rx="2.4" ry="2.15"/>
<ellipse cx="151.4" cy="131.2" rx="2.4" ry="2.15"/>
<ellipse cx="91.2" cy="137.2" rx="2.4" ry="2.15"/>
<ellipse cx="52.7" cy="135.2" rx="2.4" ry="2.15"/>
<ellipse cx="55.7" cy="140.5" rx="2.4" ry="2.15"/>
<ellipse cx="60.6" cy="141.1" rx="2.4" ry="2.15"/>
<ellipse cx="64.6" cy="141.1" rx="2.4" ry="2.15"/>
<ellipse cx="68.5" cy="139.1" rx="2.4" ry="2.15"/>
<ellipse cx="130.7" cy="140.5" rx="2.4" ry="2.15"/>
<ellipse cx="136.6" cy="142.1" rx="2.4" ry="2.15"/>
<ellipse cx="140.6" cy="144.1" rx="2.4" ry="2.15"/>
<ellipse cx="73.5" cy="144.7" rx="2.4" ry="2.15"/>
<ellipse cx="76.4" cy="144.7" rx="2.4" ry="2.15"/>
<ellipse cx="51.8" cy="146.0" rx="2.4" ry="2.15"/>
<ellipse cx="62.6" cy="146.0" rx="2.4" ry="2.15"/>
<ellipse cx="51.4" cy="163.5" rx="2.4" ry="2.15"/>
<ellipse cx="64.6" cy="164.5" rx="2.4" ry="2.15"/>
<ellipse cx="57.7" cy="154.3" rx="2.4" ry="2.15"/>
<ellipse cx="63.2" cy="150.3" rx="2.4" ry="2.15"/>
<ellipse cx="141.6" cy="151.7" rx="2.4" ry="2.15"/>
<ellipse cx="120.8" cy="150.3" rx="2.4" ry="2.15"/>
<ellipse cx="120.4" cy="153.7" rx="2.4" ry="2.15"/>
<ellipse cx="132.7" cy="158.8" rx="2.4" ry="2.15"/>
<ellipse cx="133.7" cy="163.7" rx="2.4" ry="2.15"/>
<ellipse cx="134.3" cy="170.1" rx="2.4" ry="2.15"/>
<ellipse cx="135.0" cy="177.0" rx="2.4" ry="2.15"/>
<ellipse cx="142.2" cy="168.1" rx="2.4" ry="2.15"/>
<ellipse cx="145.5" cy="169.1" rx="2.4" ry="2.15"/>
<ellipse cx="149.5" cy="169.1" rx="2.4" ry="2.15"/>
<ellipse cx="148.5" cy="173.4" rx="2.4" ry="2.15"/>
<ellipse cx="148.1" cy="178.5" rx="2.4" ry="2.15"/>
<ellipse cx="142.5" cy="179.9" rx="2.4" ry="2.15"/>
<ellipse cx="146.5" cy="182.9" rx="2.4" ry="2.15"/>
<ellipse cx="146.1" cy="193.7" rx="2.4" ry="2.15"/>
<ellipse cx="137.6" cy="154.3" rx="2.4" ry="2.15"/>
<ellipse cx="144.5" cy="152.3" rx="2.4" ry="2.15"/>
<ellipse cx="262.5" cy="102.0" rx="2.4" ry="2.15"/>
<ellipse cx="263.9" cy="117.8" rx="2.4" ry="2.15"/>
<ellipse cx="254.7" cy="124.7" rx="2.4" ry="2.15"/>
<ellipse cx="260.6" cy="126.3" rx="2.4" ry="2.15"/>
<ellipse cx="251.7" cy="131.8" rx="2.4" ry="2.15"/>
<ellipse cx="264.5" cy="131.8" rx="2.4" ry="2.15"/>
<ellipse cx="260.6" cy="136.2" rx="2.4" ry="2.15"/>
<ellipse cx="262.5" cy="139.1" rx="2.4" ry="2.15"/>
<ellipse cx="253.7" cy="140.5" rx="2.4" ry="2.15"/>
<ellipse cx="255.6" cy="140.1" rx="2.4" ry="2.15"/>
<ellipse cx="252.7" cy="142.1" rx="2.4" ry="2.15"/>
<ellipse cx="246.8" cy="149.0" rx="2.4" ry="2.15"/>
<ellipse cx="155.0" cy="130.3" rx="2.4" ry="2.15"/>
<ellipse cx="155.0" cy="144.1" rx="2.4" ry="2.15"/>
<ellipse cx="169.8" cy="149.0" rx="2.4" ry="2.15"/>
<ellipse cx="156.0" cy="162.8" rx="2.4" ry="2.15"/>
<ellipse cx="157.0" cy="167.8" rx="2.4" ry="2.15"/>
<ellipse cx="165.8" cy="158.9" rx="2.4" ry="2.15"/>
<ellipse cx="167.8" cy="157.5" rx="2.4" ry="2.15"/>
<ellipse cx="168.8" cy="167.8" rx="2.4" ry="2.15"/>
<ellipse cx="162.9" cy="169.7" rx="2.4" ry="2.15"/>
<ellipse cx="157.9" cy="183.6" rx="2.4" ry="2.15"/>
<ellipse cx="159.9" cy="191.4" rx="2.4" ry="2.15"/>
<ellipse cx="162.9" cy="188.5" rx="2.4" ry="2.15"/>
<ellipse cx="169.8" cy="177.6" rx="2.4" ry="2.15"/>
<ellipse cx="171.8" cy="190.5" rx="2.4" ry="2.15"/>
<ellipse cx="157.9" cy="201.3" rx="2.4" ry="2.15"/>
<ellipse cx="160.9" cy="204.3" rx="2.4" ry="2.15"/>
<ellipse cx="163.9" cy="209.2" rx="2.4" ry="2.15"/>
<ellipse cx="159.9" cy="211.2" rx="2.4" ry="2.15"/>
<ellipse cx="161.9" cy="210.2" rx="2.4" ry="2.15"/>
<ellipse cx="172.7" cy="204.3" rx="2.4" ry="2.15"/>
<ellipse cx="175.7" cy="200.3" rx="2.4" ry="2.15"/>
<ellipse cx="178.7" cy="208.2" rx="2.4" ry="2.15"/>
<ellipse cx="177.7" cy="198.4" rx="2.4" ry="2.15"/>
<ellipse cx="187.6" cy="198.4" rx="2.4" ry="2.15"/>
<ellipse cx="188.5" cy="201.3" rx="2.4" ry="2.15"/>
<ellipse cx="193.5" cy="208.2" rx="2.4" ry="2.15"/>
<ellipse cx="191.5" cy="202.3" rx="2.4" ry="2.15"/>
<ellipse cx="173.7" cy="218.1" rx="2.4" ry="2.15"/>
<ellipse cx="174.7" cy="223.0" rx="2.4" ry="2.15"/>
<ellipse cx="175.7" cy="228.0" rx="2.4" ry="2.15"/>
<ellipse cx="179.7" cy="229.9" rx="2.4" ry="2.15"/>
<ellipse cx="182.6" cy="233.9" rx="2.4" ry="2.15"/>
<ellipse cx="179.7" cy="242.8" rx="2.4" ry="2.15"/>
<ellipse cx="181.6" cy="245.7" rx="2.4" ry="2.15"/>
<ellipse cx="186.0" cy="246.7" rx="2.4" ry="2.15"/>
<ellipse cx="184.0" cy="257.6" rx="2.4" ry="2.15"/>
<ellipse cx="184.6" cy="261.5" rx="2.4" ry="2.15"/>
<ellipse cx="182.6" cy="264.1" rx="2.4" ry="2.15"/>
<ellipse cx="180.6" cy="266.0" rx="2.4" ry="2.15"/>
<ellipse cx="184.6" cy="284.2" rx="2.4" ry="2.15"/>
<ellipse cx="187.6" cy="170.7" rx="2.4" ry="2.15"/>
<ellipse cx="189.5" cy="183.6" rx="2.4" ry="2.15"/>
<ellipse cx="192.5" cy="184.5" rx="2.4" ry="2.15"/>
<ellipse cx="194.5" cy="183.6" rx="2.4" ry="2.15"/>
<ellipse cx="195.4" cy="169.7" rx="2.4" ry="2.15"/>
<ellipse cx="196.4" cy="164.8" rx="2.4" ry="2.15"/>
<ellipse cx="198.4" cy="167.8" rx="2.4" ry="2.15"/>
<ellipse cx="201.4" cy="194.4" rx="2.4" ry="2.15"/>
<ellipse cx="203.3" cy="191.4" rx="2.4" ry="2.15"/>
<ellipse cx="207.3" cy="190.5" rx="2.4" ry="2.15"/>
<ellipse cx="211.2" cy="195.4" rx="2.4" ry="2.15"/>
<ellipse cx="212.2" cy="188.5" rx="2.4" ry="2.15"/>
<ellipse cx="214.2" cy="164.8" rx="2.4" ry="2.15"/>
<ellipse cx="215.2" cy="170.7" rx="2.4" ry="2.15"/>
<ellipse cx="213.2" cy="173.7" rx="2.4" ry="2.15"/>
<ellipse cx="217.2" cy="172.7" rx="2.4" ry="2.15"/>
<ellipse cx="219.1" cy="191.4" rx="2.4" ry="2.15"/>
<ellipse cx="220.1" cy="200.3" rx="2.4" ry="2.15"/>
<ellipse cx="218.1" cy="209.2" rx="2.4" ry="2.15"/>
<ellipse cx="223.1" cy="217.1" rx="2.4" ry="2.15"/>
<ellipse cx="226.0" cy="199.3" rx="2.4" ry="2.15"/>
<ellipse cx="228.0" cy="214.1" rx="2.4" ry="2.15"/>
<ellipse cx="230.0" cy="223.0" rx="2.4" ry="2.15"/>
<ellipse cx="224.1" cy="228.0" rx="2.4" ry="2.15"/>
<ellipse cx="227.0" cy="228.0" rx="2.4" ry="2.15"/>
<ellipse cx="207.3" cy="228.0" rx="2.4" ry="2.15"/>
<ellipse cx="209.3" cy="232.9" rx="2.4" ry="2.15"/>
<ellipse cx="204.3" cy="206.2" rx="2.4" ry="2.15"/>
<ellipse cx="232.9" cy="166.8" rx="2.4" ry="2.15"/>
<ellipse cx="234.9" cy="190.5" rx="2.4" ry="2.15"/>
<ellipse cx="236.9" cy="188.5" rx="2.4" ry="2.15"/>
<ellipse cx="234.9" cy="197.4" rx="2.4" ry="2.15"/>
<ellipse cx="238.9" cy="207.2" rx="2.4" ry="2.15"/>
<ellipse cx="236.9" cy="214.1" rx="2.4" ry="2.15"/>
<ellipse cx="235.9" cy="217.1" rx="2.4" ry="2.15"/>
<ellipse cx="241.8" cy="218.1" rx="2.4" ry="2.15"/>
<ellipse cx="240.8" cy="203.3" rx="2.4" ry="2.15"/>
<ellipse cx="245.8" cy="194.4" rx="2.4" ry="2.15"/>
<ellipse cx="247.7" cy="197.4" rx="2.4" ry="2.15"/>
<ellipse cx="249.7" cy="207.2" rx="2.4" ry="2.15"/>
<ellipse cx="250.7" cy="199.3" rx="2.4" ry="2.15"/>
<ellipse cx="251.7" cy="181.6" rx="2.4" ry="2.15"/>
<ellipse cx="245.8" cy="165.8" rx="2.4" ry="2.15"/>
<ellipse cx="246.8" cy="150.0" rx="2.4" ry="2.15"/>
<ellipse cx="242.8" cy="172.7" rx="2.4" ry="2.15"/>
<ellipse cx="238.9" cy="179.6" rx="2.4" ry="2.15"/>
<ellipse cx="240.8" cy="181.6" rx="2.4" ry="2.15"/>
<ellipse cx="256.6" cy="188.5" rx="2.4" ry="2.15"/>
<ellipse cx="256.6" cy="168.7" rx="2.4" ry="2.15"/>
<ellipse cx="259.6" cy="163.8" rx="2.4" ry="2.15"/>
<ellipse cx="267.5" cy="190.5" rx="2.4" ry="2.15"/>
<ellipse cx="268.5" cy="179.6" rx="2.4" ry="2.15"/>
<ellipse cx="271.4" cy="179.6" rx="2.4" ry="2.15"/>
<ellipse cx="270.4" cy="170.7" rx="2.4" ry="2.15"/>
<ellipse cx="187.6" cy="181.6" rx="2.4" ry="2.15"/>
<ellipse cx="190.5" cy="185.5" rx="2.4" ry="2.15"/>
<ellipse cx="199.4" cy="182.6" rx="2.4" ry="2.15"/>
<ellipse cx="203.3" cy="182.6" rx="2.4" ry="2.15"/>
<ellipse cx="205.3" cy="172.7" rx="2.4" ry="2.15"/>
<ellipse cx="209.3" cy="182.6" rx="2.4" ry="2.15"/>
<ellipse cx="213.2" cy="184.5" rx="2.4" ry="2.15"/>
<ellipse cx="221.1" cy="182.6" rx="2.4" ry="2.15"/>
<ellipse cx="225.0" cy="182.6" rx="2.4" ry="2.15"/>
<ellipse cx="232.0" cy="191.4" rx="2.4" ry="2.15"/>
<ellipse cx="200.4" cy="197.4" rx="2.4" ry="2.15"/>
<ellipse cx="193.5" cy="199.3" rx="2.4" ry="2.15"/>
<ellipse cx="179.7" cy="203.3" rx="2.4" ry="2.15"/>
<ellipse cx="319.0" cy="77.6" rx="2.4" ry="2.15"/>
<ellipse cx="301.6" cy="82.9" rx="2.4" ry="2.15"/>
<ellipse cx="292.7" cy="86.8" rx="2.4" ry="2.15"/>
<ellipse cx="303.6" cy="89.8" rx="2.4" ry="2.15"/>
<ellipse cx="317.4" cy="90.2" rx="2.4" ry="2.15"/>
<ellipse cx="290.8" cy="96.7" rx="2.4" ry="2.15"/>
<ellipse cx="295.7" cy="97.7" rx="2.4" ry="2.15"/>
<ellipse cx="299.7" cy="94.7" rx="2.4" ry="2.15"/>
<ellipse cx="305.6" cy="98.3" rx="2.4" ry="2.15"/>
<ellipse cx="309.5" cy="99.1" rx="2.4" ry="2.15"/>
<ellipse cx="319.4" cy="102.2" rx="2.4" ry="2.15"/>
<ellipse cx="325.3" cy="100.7" rx="2.4" ry="2.15"/>
<ellipse cx="333.2" cy="99.7" rx="2.4" ry="2.15"/>
<ellipse cx="343.1" cy="99.1" rx="2.4" ry="2.15"/>
<ellipse cx="303.6" cy="102.6" rx="2.4" ry="2.15"/>
<ellipse cx="308.5" cy="103.6" rx="2.4" ry="2.15"/>
<ellipse cx="312.5" cy="106.6" rx="2.4" ry="2.15"/>
<ellipse cx="291.8" cy="108.2" rx="2.4" ry="2.15"/>
<ellipse cx="293.7" cy="108.5" rx="2.4" ry="2.15"/>
<ellipse cx="299.7" cy="104.6" rx="2.4" ry="2.15"/>
<ellipse cx="333.2" cy="108.2" rx="2.4" ry="2.15"/>
<ellipse cx="320.4" cy="109.5" rx="2.4" ry="2.15"/>
<ellipse cx="305.6" cy="111.5" rx="2.4" ry="2.15"/>
<ellipse cx="301.6" cy="113.5" rx="2.4" ry="2.15"/>
<ellipse cx="311.5" cy="114.5" rx="2.4" ry="2.15"/>
<ellipse cx="316.4" cy="116.4" rx="2.4" ry="2.15"/>
<ellipse cx="321.4" cy="118.0" rx="2.4" ry="2.15"/>
<ellipse cx="325.3" cy="116.4" rx="2.4" ry="2.15"/>
<ellipse cx="330.2" cy="115.5" rx="2.4" ry="2.15"/>
<ellipse cx="337.2" cy="114.5" rx="2.4" ry="2.15"/>
<ellipse cx="342.1" cy="114.5" rx="2.4" ry="2.15"/>
<ellipse cx="305.6" cy="119.4" rx="2.4" ry="2.15"/>
<ellipse cx="309.5" cy="121.4" rx="2.4" ry="2.15"/>
<ellipse cx="315.4" cy="119.4" rx="2.4" ry="2.15"/>
<ellipse cx="317.4" cy="121.4" rx="2.4" ry="2.15"/>
<ellipse cx="327.3" cy="120.4" rx="2.4" ry="2.15"/>
<ellipse cx="322.4" cy="123.3" rx="2.4" ry="2.15"/>
<ellipse cx="333.2" cy="123.3" rx="2.4" ry="2.15"/>
<ellipse cx="336.2" cy="125.3" rx="2.4" ry="2.15"/>
<ellipse cx="341.1" cy="123.3" rx="2.4" ry="2.15"/>
<ellipse cx="344.1" cy="126.3" rx="2.4" ry="2.15"/>
<ellipse cx="297.7" cy="129.3" rx="2.4" ry="2.15"/>
<ellipse cx="285.8" cy="124.3" rx="2.4" ry="2.15"/>
<ellipse cx="281.9" cy="123.3" rx="2.4" ry="2.15"/>
<ellipse cx="277.9" cy="120.4" rx="2.4" ry="2.15"/>
<ellipse cx="293.7" cy="126.3" rx="2.4" ry="2.15"/>
<ellipse cx="307.6" cy="128.3" rx="2.4" ry="2.15"/>
<ellipse cx="313.5" cy="132.2" rx="2.4" ry="2.15"/>
<ellipse cx="306.6" cy="132.2" rx="2.4" ry="2.15"/>
<ellipse cx="327.3" cy="131.8" rx="2.4" ry="2.15"/>
<ellipse cx="331.2" cy="132.6" rx="2.4" ry="2.15"/>
<ellipse cx="329.3" cy="136.2" rx="2.4" ry="2.15"/>
<ellipse cx="340.1" cy="135.2" rx="2.4" ry="2.15"/>
<ellipse cx="341.1" cy="137.8" rx="2.4" ry="2.15"/>
<ellipse cx="354.9" cy="127.9" rx="2.4" ry="2.15"/>
<ellipse cx="359.8" cy="131.2" rx="2.4" ry="2.15"/>
<ellipse cx="368.7" cy="124.7" rx="2.4" ry="2.15"/>
<ellipse cx="378.6" cy="93.7" rx="2.4" ry="2.15"/>
<ellipse cx="277.9" cy="136.2" rx="2.4" ry="2.15"/>
<ellipse cx="279.9" cy="140.1" rx="2.4" ry="2.15"/>
<ellipse cx="276.0" cy="142.1" rx="2.4" ry="2.15"/>
<ellipse cx="288.8" cy="126.3" rx="2.4" ry="2.15"/>
<ellipse cx="290.8" cy="140.1" rx="2.4" ry="2.15"/>
<ellipse cx="286.8" cy="145.1" rx="2.4" ry="2.15"/>
<ellipse cx="354.9" cy="140.1" rx="2.4" ry="2.15"/>
<ellipse cx="357.9" cy="143.1" rx="2.4" ry="2.15"/>
<ellipse cx="359.8" cy="146.0" rx="2.4" ry="2.15"/>
<ellipse cx="354.9" cy="147.0" rx="2.4" ry="2.15"/>
<ellipse cx="368.7" cy="147.6" rx="2.4" ry="2.15"/>
<ellipse cx="328.3" cy="145.1" rx="2.4" ry="2.15"/>
<ellipse cx="328.3" cy="148.0" rx="2.4" ry="2.15"/>
<ellipse cx="277.0" cy="151.0" rx="2.4" ry="2.15"/>
<ellipse cx="285.8" cy="153.6" rx="2.4" ry="2.15"/>
<ellipse cx="286.8" cy="156.9" rx="2.4" ry="2.15"/>
<ellipse cx="289.8" cy="151.0" rx="2.4" ry="2.15"/>
<ellipse cx="279.9" cy="160.9" rx="2.4" ry="2.15"/>
<ellipse cx="281.5" cy="162.8" rx="2.4" ry="2.15"/>
<ellipse cx="277.0" cy="170.7" rx="2.4" ry="2.15"/>
<ellipse cx="274.0" cy="174.7" rx="2.4" ry="2.15"/>
<ellipse cx="274.0" cy="188.5" rx="2.4" ry="2.15"/>
<ellipse cx="352.9" cy="152.0" rx="2.4" ry="2.15"/>
<ellipse cx="356.9" cy="152.0" rx="2.4" ry="2.15"/>
<ellipse cx="357.9" cy="160.9" rx="2.4" ry="2.15"/>
<ellipse cx="352.9" cy="172.1" rx="2.4" ry="2.15"/>
<ellipse cx="370.7" cy="156.9" rx="2.4" ry="2.15"/>
<ellipse cx="373.7" cy="156.9" rx="2.4" ry="2.15"/>
<ellipse cx="369.7" cy="161.4" rx="2.4" ry="2.15"/>
<ellipse cx="372.3" cy="176.6" rx="2.4" ry="2.15"/>
<ellipse cx="379.6" cy="177.2" rx="2.4" ry="2.15"/>
<ellipse cx="501.6" cy="106.6" rx="2.4" ry="2.15"/>
<ellipse cx="501.6" cy="114.5" rx="2.4" ry="2.15"/>
<ellipse cx="511.4" cy="114.5" rx="2.4" ry="2.15"/>
<ellipse cx="490.7" cy="122.4" rx="2.4" ry="2.15"/>
<ellipse cx="491.7" cy="127.3" rx="2.4" ry="2.15"/>
<ellipse cx="503.5" cy="130.3" rx="2.4" ry="2.15"/>
<ellipse cx="506.5" cy="123.9" rx="2.4" ry="2.15"/>
<ellipse cx="510.4" cy="121.4" rx="2.4" ry="2.15"/>
<ellipse cx="508.5" cy="130.3" rx="2.4" ry="2.15"/>
<ellipse cx="506.5" cy="136.2" rx="2.4" ry="2.15"/>
<ellipse cx="508.5" cy="140.1" rx="2.4" ry="2.15"/>
<ellipse cx="490.7" cy="143.1" rx="2.4" ry="2.15"/>
<ellipse cx="494.7" cy="144.1" rx="2.4" ry="2.15"/>
<ellipse cx="490.7" cy="146.0" rx="2.4" ry="2.15"/>
<ellipse cx="504.5" cy="148.0" rx="2.4" ry="2.15"/>
<ellipse cx="512.4" cy="126.3" rx="2.4" ry="2.15"/>
<ellipse cx="512.4" cy="132.2" rx="2.4" ry="2.15"/>
<ellipse cx="401.9" cy="154.9" rx="2.4" ry="2.15"/>
<ellipse cx="407.8" cy="164.8" rx="2.4" ry="2.15"/>
<ellipse cx="410.8" cy="164.8" rx="2.4" ry="2.15"/>
<ellipse cx="411.8" cy="168.7" rx="2.4" ry="2.15"/>
<ellipse cx="406.8" cy="173.7" rx="2.4" ry="2.15"/>
<ellipse cx="410.8" cy="173.7" rx="2.4" ry="2.15"/>
<ellipse cx="405.8" cy="185.5" rx="2.4" ry="2.15"/>
<ellipse cx="408.8" cy="187.5" rx="2.4" ry="2.15"/>
<ellipse cx="402.9" cy="187.5" rx="2.4" ry="2.15"/>
<ellipse cx="399.9" cy="192.4" rx="2.4" ry="2.15"/>
<ellipse cx="419.7" cy="183.6" rx="2.4" ry="2.15"/>
<ellipse cx="420.6" cy="192.4" rx="2.4" ry="2.15"/>
<ellipse cx="401.9" cy="202.3" rx="2.4" ry="2.15"/>
<ellipse cx="399.9" cy="203.3" rx="2.4" ry="2.15"/>
<ellipse cx="399.9" cy="205.3" rx="2.4" ry="2.15"/>
<ellipse cx="404.9" cy="201.3" rx="2.4" ry="2.15"/>
<ellipse cx="413.7" cy="199.3" rx="2.4" ry="2.15"/>
<ellipse cx="414.7" cy="209.2" rx="2.4" ry="2.15"/>
<ellipse cx="417.7" cy="203.3" rx="2.4" ry="2.15"/>
<ellipse cx="403.9" cy="209.2" rx="2.4" ry="2.15"/>
<ellipse cx="408.8" cy="210.2" rx="2.4" ry="2.15"/>
<ellipse cx="403.9" cy="221.0" rx="2.4" ry="2.15"/>
<ellipse cx="412.7" cy="218.1" rx="2.4" ry="2.15"/>
<ellipse cx="415.7" cy="219.1" rx="2.4" ry="2.15"/>
<ellipse cx="425.6" cy="220.1" rx="2.4" ry="2.15"/>
<ellipse cx="414.7" cy="227.0" rx="2.4" ry="2.15"/>
<ellipse cx="417.7" cy="228.9" rx="2.4" ry="2.15"/>
<ellipse cx="425.6" cy="228.9" rx="2.4" ry="2.15"/>
<ellipse cx="421.6" cy="232.9" rx="2.4" ry="2.15"/>
<ellipse cx="424.6" cy="237.8" rx="2.4" ry="2.15"/>
<ellipse cx="428.5" cy="237.8" rx="2.4" ry="2.15"/>
<ellipse cx="431.5" cy="236.8" rx="2.4" ry="2.15"/>
<ellipse cx="435.4" cy="228.9" rx="2.4" ry="2.15"/>
<ellipse cx="438.4" cy="229.9" rx="2.4" ry="2.15"/>
<ellipse cx="442.4" cy="228.9" rx="2.4" ry="2.15"/>
<ellipse cx="447.3" cy="228.9" rx="2.4" ry="2.15"/>
<ellipse cx="440.4" cy="236.8" rx="2.4" ry="2.15"/>
<ellipse cx="437.4" cy="237.8" rx="2.4" ry="2.15"/>
<ellipse cx="443.3" cy="237.8" rx="2.4" ry="2.15"/>
<ellipse cx="450.2" cy="236.8" rx="2.4" ry="2.15"/>
<ellipse cx="424.6" cy="247.7" rx="2.4" ry="2.15"/>
<ellipse cx="427.6" cy="247.7" rx="2.4" ry="2.15"/>
<ellipse cx="434.5" cy="246.7" rx="2.4" ry="2.15"/>
<ellipse cx="436.4" cy="246.7" rx="2.4" ry="2.15"/>
<ellipse cx="432.5" cy="255.6" rx="2.4" ry="2.15"/>
<ellipse cx="431.5" cy="256.6" rx="2.4" ry="2.15"/>
<ellipse cx="440.4" cy="255.6" rx="2.4" ry="2.15"/>
<ellipse cx="446.3" cy="251.6" rx="2.4" ry="2.15"/>
<ellipse cx="447.3" cy="256.6" rx="2.4" ry="2.15"/>
<ellipse cx="450.2" cy="255.6" rx="2.4" ry="2.15"/>
<ellipse cx="457.2" cy="246.7" rx="2.4" ry="2.15"/>
<ellipse cx="459.1" cy="255.6" rx="2.4" ry="2.15"/>
<ellipse cx="429.5" cy="264.5" rx="2.4" ry="2.15"/>
<ellipse cx="431.5" cy="264.5" rx="2.4" ry="2.15"/>
<ellipse cx="430.5" cy="269.4" rx="2.4" ry="2.15"/>
<ellipse cx="452.2" cy="264.5" rx="2.4" ry="2.15"/>
<ellipse cx="441.4" cy="273.9" rx="2.4" ry="2.15"/>
<ellipse cx="443.3" cy="274.7" rx="2.4" ry="2.15"/>
<ellipse cx="451.2" cy="273.9" rx="2.4" ry="2.15"/>
<ellipse cx="454.2" cy="273.9" rx="2.4" ry="2.15"/>
<ellipse cx="459.1" cy="273.9" rx="2.4" ry="2.15"/>
<ellipse cx="445.3" cy="193.4" rx="2.4" ry="2.15"/>
<ellipse cx="474.9" cy="162.8" rx="2.4" ry="2.15"/>
<ellipse cx="473.9" cy="179.6" rx="2.4" ry="2.15"/>
<ellipse cx="476.9" cy="179.6" rx="2.4" ry="2.15"/>
<ellipse cx="475.9" cy="184.5" rx="2.4" ry="2.15"/>
<ellipse cx="478.9" cy="185.5" rx="2.4" ry="2.15"/>
<ellipse cx="480.8" cy="189.5" rx="2.4" ry="2.15"/>
<ellipse cx="481.8" cy="193.4" rx="2.4" ry="2.15"/>
<ellipse cx="483.8" cy="188.5" rx="2.4" ry="2.15"/>
<ellipse cx="484.8" cy="183.6" rx="2.4" ry="2.15"/>
<ellipse cx="482.8" cy="197.4" rx="2.4" ry="2.15"/>
<ellipse cx="485.8" cy="173.7" rx="2.4" ry="2.15"/>
<ellipse cx="488.7" cy="175.7" rx="2.4" ry="2.15"/>
<ellipse cx="492.7" cy="179.6" rx="2.4" ry="2.15"/>
<ellipse cx="493.7" cy="181.6" rx="2.4" ry="2.15"/>
<ellipse cx="499.6" cy="169.7" rx="2.4" ry="2.15"/>
<ellipse cx="500.6" cy="175.7" rx="2.4" ry="2.15"/>
<ellipse cx="505.5" cy="185.5" rx="2.4" ry="2.15"/>
<ellipse cx="496.6" cy="159.9" rx="2.4" ry="2.15"/>
<ellipse cx="498.6" cy="158.9" rx="2.4" ry="2.15"/>
<ellipse cx="501.6" cy="159.9" rx="2.4" ry="2.15"/>
<ellipse cx="505.5" cy="157.9" rx="2.4" ry="2.15"/>
<ellipse cx="486.8" cy="153.0" rx="2.4" ry="2.15"/>
<ellipse cx="486.8" cy="163.8" rx="2.4" ry="2.15"/>
<ellipse cx="474.9" cy="191.4" rx="2.4" ry="2.15"/>
<ellipse cx="472.9" cy="195.4" rx="2.4" ry="2.15"/>
<ellipse cx="470.0" cy="191.4" rx="2.4" ry="2.15"/>
<ellipse cx="463.1" cy="200.3" rx="2.4" ry="2.15"/>
<ellipse cx="468.0" cy="200.3" rx="2.4" ry="2.15"/>
<ellipse cx="471.0" cy="201.3" rx="2.4" ry="2.15"/>
<ellipse cx="469.0" cy="209.2" rx="2.4" ry="2.15"/>
<ellipse cx="467.0" cy="219.1" rx="2.4" ry="2.15"/>
<ellipse cx="464.1" cy="219.1" rx="2.4" ry="2.15"/>
<ellipse cx="459.1" cy="219.1" rx="2.4" ry="2.15"/>
<ellipse cx="456.2" cy="219.1" rx="2.4" ry="2.15"/>
<ellipse cx="466.0" cy="228.0" rx="2.4" ry="2.15"/>
<ellipse cx="469.0" cy="228.0" rx="2.4" ry="2.15"/>
<ellipse cx="464.1" cy="236.8" rx="2.4" ry="2.15"/>
<ellipse cx="465.0" cy="245.7" rx="2.4" ry="2.15"/>
<ellipse cx="467.0" cy="245.7" rx="2.4" ry="2.15"/>
<ellipse cx="418.7" cy="216.1" rx="2.4" ry="2.15"/>
<ellipse cx="472.9" cy="204.3" rx="2.4" ry="2.15"/>
<ellipse cx="549.5" cy="62.2" rx="2.4" ry="2.15"/>
<ellipse cx="571.2" cy="60.2" rx="2.4" ry="2.15"/>
<ellipse cx="585.0" cy="60.2" rx="2.4" ry="2.15"/>
<ellipse cx="548.5" cy="68.1" rx="2.4" ry="2.15"/>
<ellipse cx="586.0" cy="69.5" rx="2.4" ry="2.15"/>
<ellipse cx="549.5" cy="74.6" rx="2.4" ry="2.15"/>
<ellipse cx="594.9" cy="75.6" rx="2.4" ry="2.15"/>
<ellipse cx="599.8" cy="75.6" rx="2.4" ry="2.15"/>
<ellipse cx="580.1" cy="76.6" rx="2.4" ry="2.15"/>
<ellipse cx="519.9" cy="80.9" rx="2.4" ry="2.15"/>
<ellipse cx="530.8" cy="77.0" rx="2.4" ry="2.15"/>
<ellipse cx="552.5" cy="80.5" rx="2.4" ry="2.15"/>
<ellipse cx="567.3" cy="80.5" rx="2.4" ry="2.15"/>
<ellipse cx="517.0" cy="90.8" rx="2.4" ry="2.15"/>
<ellipse cx="538.7" cy="86.8" rx="2.4" ry="2.15"/>
<ellipse cx="547.6" cy="88.8" rx="2.4" ry="2.15"/>
<ellipse cx="553.5" cy="89.8" rx="2.4" ry="2.15"/>
<ellipse cx="548.5" cy="90.8" rx="2.4" ry="2.15"/>
<ellipse cx="551.5" cy="91.8" rx="2.4" ry="2.15"/>
<ellipse cx="561.4" cy="88.8" rx="2.4" ry="2.15"/>
<ellipse cx="569.3" cy="87.8" rx="2.4" ry="2.15"/>
<ellipse cx="571.2" cy="90.8" rx="2.4" ry="2.15"/>
<ellipse cx="577.2" cy="85.8" rx="2.4" ry="2.15"/>
<ellipse cx="579.1" cy="87.8" rx="2.4" ry="2.15"/>
<ellipse cx="585.0" cy="83.9" rx="2.4" ry="2.15"/>
<ellipse cx="587.0" cy="85.8" rx="2.4" ry="2.15"/>
<ellipse cx="597.9" cy="86.8" rx="2.4" ry="2.15"/>
<ellipse cx="592.0" cy="88.8" rx="2.4" ry="2.15"/>
<ellipse cx="582.1" cy="92.8" rx="2.4" ry="2.15"/>
<ellipse cx="592.9" cy="93.7" rx="2.4" ry="2.15"/>
<ellipse cx="596.9" cy="94.3" rx="2.4" ry="2.15"/>
<ellipse cx="605.8" cy="94.7" rx="2.4" ry="2.15"/>
<ellipse cx="567.3" cy="92.8" rx="2.4" ry="2.15"/>
<ellipse cx="565.3" cy="94.7" rx="2.4" ry="2.15"/>
<ellipse cx="563.3" cy="97.7" rx="2.4" ry="2.15"/>
<ellipse cx="566.3" cy="98.7" rx="2.4" ry="2.15"/>
<ellipse cx="573.2" cy="96.7" rx="2.4" ry="2.15"/>
<ellipse cx="536.7" cy="95.7" rx="2.4" ry="2.15"/>
<ellipse cx="547.6" cy="96.3" rx="2.4" ry="2.15"/>
<ellipse cx="518.9" cy="98.7" rx="2.4" ry="2.15"/>
<ellipse cx="536.7" cy="102.6" rx="2.4" ry="2.15"/>
<ellipse cx="546.6" cy="102.6" rx="2.4" ry="2.15"/>
<ellipse cx="553.5" cy="104.6" rx="2.4" ry="2.15"/>
<ellipse cx="573.2" cy="102.2" rx="2.4" ry="2.15"/>
<ellipse cx="579.1" cy="102.2" rx="2.4" ry="2.15"/>
<ellipse cx="589.0" cy="102.6" rx="2.4" ry="2.15"/>
<ellipse cx="591.0" cy="104.6" rx="2.4" ry="2.15"/>
<ellipse cx="593.9" cy="106.6" rx="2.4" ry="2.15"/>
<ellipse cx="599.8" cy="105.6" rx="2.4" ry="2.15"/>
<ellipse cx="600.8" cy="107.6" rx="2.4" ry="2.15"/>
<ellipse cx="582.1" cy="106.6" rx="2.4" ry="2.15"/>
<ellipse cx="545.6" cy="107.6" rx="2.4" ry="2.15"/>
<ellipse cx="534.7" cy="114.1" rx="2.4" ry="2.15"/>
<ellipse cx="520.9" cy="114.5" rx="2.4" ry="2.15"/>
<ellipse cx="529.8" cy="116.8" rx="2.4" ry="2.15"/>
<ellipse cx="517.9" cy="118.4" rx="2.4" ry="2.15"/>
<ellipse cx="545.6" cy="114.1" rx="2.4" ry="2.15"/>
<ellipse cx="558.4" cy="114.1" rx="2.4" ry="2.15"/>
<ellipse cx="558.4" cy="117.4" rx="2.4" ry="2.15"/>
<ellipse cx="574.2" cy="111.5" rx="2.4" ry="2.15"/>
<ellipse cx="578.1" cy="111.5" rx="2.4" ry="2.15"/>
<ellipse cx="584.1" cy="111.5" rx="2.4" ry="2.15"/>
<ellipse cx="592.0" cy="113.5" rx="2.4" ry="2.15"/>
<ellipse cx="584.1" cy="116.4" rx="2.4" ry="2.15"/>
<ellipse cx="589.0" cy="118.8" rx="2.4" ry="2.15"/>
<ellipse cx="575.2" cy="123.3" rx="2.4" ry="2.15"/>
<ellipse cx="577.2" cy="124.7" rx="2.4" ry="2.15"/>
<ellipse cx="581.1" cy="126.3" rx="2.4" ry="2.15"/>
<ellipse cx="556.4" cy="125.3" rx="2.4" ry="2.15"/>
<ellipse cx="558.4" cy="126.3" rx="2.4" ry="2.15"/>
<ellipse cx="539.7" cy="123.3" rx="2.4" ry="2.15"/>
<ellipse cx="540.6" cy="126.3" rx="2.4" ry="2.15"/>
<ellipse cx="527.8" cy="126.3" rx="2.4" ry="2.15"/>
<ellipse cx="530.8" cy="127.9" rx="2.4" ry="2.15"/>
<ellipse cx="516.0" cy="126.3" rx="2.4" ry="2.15"/>
<ellipse cx="516.0" cy="131.2" rx="2.4" ry="2.15"/>
<ellipse cx="522.9" cy="135.2" rx="2.4" ry="2.15"/>
<ellipse cx="525.8" cy="136.2" rx="2.4" ry="2.15"/>
<ellipse cx="532.7" cy="136.2" rx="2.4" ry="2.15"/>
<ellipse cx="533.7" cy="135.2" rx="2.4" ry="2.15"/>
<ellipse cx="542.6" cy="131.2" rx="2.4" ry="2.15"/>
<ellipse cx="555.4" cy="131.2" rx="2.4" ry="2.15"/>
<ellipse cx="560.4" cy="132.2" rx="2.4" ry="2.15"/>
<ellipse cx="574.2" cy="129.3" rx="2.4" ry="2.15"/>
<ellipse cx="589.0" cy="129.9" rx="2.4" ry="2.15"/>
<ellipse cx="593.9" cy="139.1" rx="2.4" ry="2.15"/>
<ellipse cx="601.8" cy="143.1" rx="2.4" ry="2.15"/>
<ellipse cx="525.8" cy="145.1" rx="2.4" ry="2.15"/>
<ellipse cx="532.7" cy="145.1" rx="2.4" ry="2.15"/>
<ellipse cx="520.9" cy="121.4" rx="2.4" ry="2.15"/>
<ellipse cx="525.4" cy="153.6" rx="2.4" ry="2.15"/>
<ellipse cx="523.5" cy="159.9" rx="2.4" ry="2.15"/>
<ellipse cx="524.9" cy="162.8" rx="2.4" ry="2.15"/>
<ellipse cx="105.9" cy="82.7" rx="2.4" ry="2.15"/>
<ellipse cx="106.2" cy="78.9" rx="2.4" ry="2.15"/>
<ellipse cx="110.3" cy="86.8" rx="2.4" ry="2.15"/>
<ellipse cx="105.7" cy="85.1" rx="2.4" ry="2.15"/>
<ellipse cx="82.8" cy="87.3" rx="2.4" ry="2.15"/>
<ellipse cx="88.6" cy="85.5" rx="2.4" ry="2.15"/>
<ellipse cx="91.0" cy="86.4" rx="2.4" ry="2.15"/>
<ellipse cx="95.1" cy="87.8" rx="2.4" ry="2.15"/>
<ellipse cx="99.0" cy="85.0" rx="2.4" ry="2.15"/>
<ellipse cx="99.9" cy="84.3" rx="2.4" ry="2.15"/>
<ellipse cx="79.5" cy="90.9" rx="2.4" ry="2.15"/>
<ellipse cx="88.1" cy="91.0" rx="2.4" ry="2.15"/>
<ellipse cx="92.7" cy="92.0" rx="2.4" ry="2.15"/>
<ellipse cx="98.2" cy="92.0" rx="2.4" ry="2.15"/>
<ellipse cx="100.0" cy="88.9" rx="2.4" ry="2.15"/>
<ellipse cx="77.7" cy="97.2" rx="2.4" ry="2.15"/>
<ellipse cx="82.4" cy="104.6" rx="2.4" ry="2.15"/>
<ellipse cx="86.0" cy="98.4" rx="2.4" ry="2.15"/>
<ellipse cx="84.9" cy="108.7" rx="2.4" ry="2.15"/>
<ellipse cx="55.7" cy="121.0" rx="2.4" ry="2.15"/>
<ellipse cx="117.9" cy="132.4" rx="2.4" ry="2.15"/>
<ellipse cx="120.3" cy="130.2" rx="2.4" ry="2.15"/>
<ellipse cx="54.6" cy="133.8" rx="2.4" ry="2.15"/>
<ellipse cx="56.7" cy="141.4" rx="2.4" ry="2.15"/>
<ellipse cx="60.5" cy="141.2" rx="2.4" ry="2.15"/>
<ellipse cx="64.6" cy="142.8" rx="2.4" ry="2.15"/>
<ellipse cx="62.6" cy="147.4" rx="2.4" ry="2.15"/>
<ellipse cx="144.9" cy="170.6" rx="2.4" ry="2.15"/>
<ellipse cx="150.1" cy="173.3" rx="2.4" ry="2.15"/>
<ellipse cx="148.3" cy="180.2" rx="2.4" ry="2.15"/>
<ellipse cx="261.5" cy="136.1" rx="2.4" ry="2.15"/>
<ellipse cx="254.5" cy="139.4" rx="2.4" ry="2.15"/>
<ellipse cx="161.7" cy="202.9" rx="2.4" ry="2.15"/>
<ellipse cx="165.5" cy="208.3" rx="2.4" ry="2.15"/>
<ellipse cx="161.6" cy="210.4" rx="2.4" ry="2.15"/>
<ellipse cx="163.7" cy="211.0" rx="2.4" ry="2.15"/>
<ellipse cx="175.7" cy="200.4" rx="2.4" ry="2.15"/>
<ellipse cx="188.2" cy="198.7" rx="2.4" ry="2.15"/>
<ellipse cx="187.8" cy="200.1" rx="2.4" ry="2.15"/>
<ellipse cx="191.5" cy="204.0" rx="2.4" ry="2.15"/>
<ellipse cx="185.1" cy="259.8" rx="2.4" ry="2.15"/>
<ellipse cx="183.9" cy="265.0" rx="2.4" ry="2.15"/>
<ellipse cx="191.2" cy="182.3" rx="2.4" ry="2.15"/>
<ellipse cx="193.5" cy="182.8" rx="2.4" ry="2.15"/>
<ellipse cx="195.1" cy="182.6" rx="2.4" ry="2.15"/>
<ellipse cx="202.2" cy="192.9" rx="2.4" ry="2.15"/>
<ellipse cx="205.7" cy="190.5" rx="2.4" ry="2.15"/>
<ellipse cx="213.6" cy="187.5" rx="2.4" ry="2.15"/>
<ellipse cx="214.0" cy="172.2" rx="2.4" ry="2.15"/>
<ellipse cx="234.6" cy="191.3" rx="2.4" ry="2.15"/>
<ellipse cx="185.7" cy="181.0" rx="2.4" ry="2.15"/>
<ellipse cx="189.2" cy="186.2" rx="2.4" ry="2.15"/>
<ellipse cx="207.6" cy="184.4" rx="2.4" ry="2.15"/>
<ellipse cx="230.1" cy="192.4" rx="2.4" ry="2.15"/>
<ellipse cx="191.6" cy="198.4" rx="2.4" ry="2.15"/>
<ellipse cx="180.9" cy="201.9" rx="2.4" ry="2.15"/>
<ellipse cx="298.4" cy="95.5" rx="2.4" ry="2.15"/>
<ellipse cx="305.1" cy="96.5" rx="2.4" ry="2.15"/>
<ellipse cx="311.5" cy="97.7" rx="2.4" ry="2.15"/>
<ellipse cx="301.7" cy="102.0" rx="2.4" ry="2.15"/>
<ellipse cx="309.0" cy="104.6" rx="2.4" ry="2.15"/>
<ellipse cx="309.9" cy="113.8" rx="2.4" ry="2.15"/>
<ellipse cx="314.6" cy="116.2" rx="2.4" ry="2.15"/>
<ellipse cx="322.4" cy="119.0" rx="2.4" ry="2.15"/>
<ellipse cx="326.9" cy="117.5" rx="2.4" ry="2.15"/>
<ellipse cx="331.7" cy="116.3" rx="2.4" ry="2.15"/>
<ellipse cx="315.3" cy="118.3" rx="2.4" ry="2.15"/>
<ellipse cx="318.1" cy="120.6" rx="2.4" ry="2.15"/>
<ellipse cx="325.7" cy="120.2" rx="2.4" ry="2.15"/>
<ellipse cx="323.9" cy="121.9" rx="2.4" ry="2.15"/>
<ellipse cx="358.2" cy="142.7" rx="2.4" ry="2.15"/>
<ellipse cx="359.9" cy="144.6" rx="2.4" ry="2.15"/>
<ellipse cx="356.8" cy="146.1" rx="2.4" ry="2.15"/>
<ellipse cx="290.2" cy="150.7" rx="2.4" ry="2.15"/>
<ellipse cx="272.1" cy="174.9" rx="2.4" ry="2.15"/>
<ellipse cx="355.5" cy="150.2" rx="2.4" ry="2.15"/>
<ellipse cx="501.7" cy="128.9" rx="2.4" ry="2.15"/>
<ellipse cx="504.9" cy="124.5" rx="2.4" ry="2.15"/>
<ellipse cx="510.5" cy="123.3" rx="2.4" ry="2.15"/>
<ellipse cx="510.2" cy="132.2" rx="2.4" ry="2.15"/>
<ellipse cx="505.4" cy="136.0" rx="2.4" ry="2.15"/>
<ellipse cx="511.4" cy="126.7" rx="2.4" ry="2.15"/>
<ellipse cx="512.9" cy="133.4" rx="2.4" ry="2.15"/>
<ellipse cx="412.6" cy="167.8" rx="2.4" ry="2.15"/>
<ellipse cx="402.6" cy="187.6" rx="2.4" ry="2.15"/>
<ellipse cx="399.9" cy="200.4" rx="2.4" ry="2.15"/>
<ellipse cx="399.6" cy="201.7" rx="2.4" ry="2.15"/>
<ellipse cx="400.8" cy="204.2" rx="2.4" ry="2.15"/>
<ellipse cx="403.3" cy="200.0" rx="2.4" ry="2.15"/>
<ellipse cx="420.6" cy="231.8" rx="2.4" ry="2.15"/>
<ellipse cx="424.7" cy="237.7" rx="2.4" ry="2.15"/>
<ellipse cx="430.7" cy="237.4" rx="2.4" ry="2.15"/>
<ellipse cx="441.2" cy="230.6" rx="2.4" ry="2.15"/>
<ellipse cx="439.3" cy="238.7" rx="2.4" ry="2.15"/>
<ellipse cx="443.1" cy="237.9" rx="2.4" ry="2.15"/>
<ellipse cx="447.6" cy="254.8" rx="2.4" ry="2.15"/>
<ellipse cx="476.6" cy="179.7" rx="2.4" ry="2.15"/>
<ellipse cx="474.6" cy="182.9" rx="2.4" ry="2.15"/>
<ellipse cx="480.1" cy="185.0" rx="2.4" ry="2.15"/>
<ellipse cx="480.9" cy="191.2" rx="2.4" ry="2.15"/>
<ellipse cx="482.3" cy="192.6" rx="2.4" ry="2.15"/>
<ellipse cx="485.7" cy="188.0" rx="2.4" ry="2.15"/>
<ellipse cx="496.7" cy="159.6" rx="2.4" ry="2.15"/>
<ellipse cx="500.0" cy="159.1" rx="2.4" ry="2.15"/>
<ellipse cx="476.3" cy="192.1" rx="2.4" ry="2.15"/>
<ellipse cx="471.0" cy="195.2" rx="2.4" ry="2.15"/>
<ellipse cx="467.7" cy="200.3" rx="2.4" ry="2.15"/>
<ellipse cx="469.8" cy="201.7" rx="2.4" ry="2.15"/>
<ellipse cx="471.2" cy="203.4" rx="2.4" ry="2.15"/>
<ellipse cx="547.0" cy="90.6" rx="2.4" ry="2.15"/>
<ellipse cx="551.8" cy="90.8" rx="2.4" ry="2.15"/>
<ellipse cx="547.3" cy="91.1" rx="2.4" ry="2.15"/>
<ellipse cx="551.1" cy="91.6" rx="2.4" ry="2.15"/>
<ellipse cx="572.2" cy="90.4" rx="2.4" ry="2.15"/>
<ellipse cx="590.4" cy="87.3" rx="2.4" ry="2.15"/>
<ellipse cx="565.6" cy="94.2" rx="2.4" ry="2.15"/>
<ellipse cx="565.9" cy="96.6" rx="2.4" ry="2.15"/>
<ellipse cx="564.1" cy="95.8" rx="2.4" ry="2.15"/>
<ellipse cx="566.9" cy="99.8" rx="2.4" ry="2.15"/>
<ellipse cx="548.4" cy="96.3" rx="2.4" ry="2.15"/>
<ellipse cx="593.4" cy="106.4" rx="2.4" ry="2.15"/>
<ellipse cx="583.3" cy="105.6" rx="2.4" ry="2.15"/>
<ellipse cx="578.2" cy="111.4" rx="2.4" ry="2.15"/>
<ellipse cx="585.9" cy="112.7" rx="2.4" ry="2.15"/>
<ellipse cx="576.9" cy="124.7" rx="2.4" ry="2.15"/>
<ellipse cx="576.3" cy="123.7" rx="2.4" ry="2.15"/>
<ellipse cx="558.4" cy="125.3" rx="2.4" ry="2.15"/>
<ellipse cx="515.7" cy="127.0" rx="2.4" ry="2.15"/>
<ellipse cx="517.6" cy="131.6" rx="2.4" ry="2.15"/>
<ellipse cx="556.7" cy="129.6" rx="2.4" ry="2.15"/>
<ellipse cx="520.3" cy="123.4" rx="2.4" ry="2.15"/>
</g>
<g fill="none" stroke-linejoin="round" stroke-linecap="round" stroke-width="2.0">
<path d="M34.0,119.4 L37.9,118.1 L39.9,116.3 L41.9,113.1 L43.2,112.0 L44.5,109.4 L45.8,107.4 L49.8,109.0 L53.7,106.6 L55.1,104.6 L56.4,103.0 L57.7,101.2 L58.9,98.7 L60.1,97.0 L61.2,94.3 L62.4,92.6 L63.6,90.6 L64.6,88.2 L65.6,86.2 L66.6,84.1 L67.6,82.8 L68.5,80.8 L69.5,78.8 L70.5,77.0 L71.5,74.2 L72.5,72.6 L73.5,70.6 L74.5,68.6 L75.4,65.7 L77.2,64.2 L78.9,61.8 L80.6,60.7 L82.4,58.2 L83.6,56.7 L84.8,56.0 L86.1,52.6 L87.3,52.1 L90.2,53.1 L93.2,54.1 L95.5,55.8 L97.8,57.1 L100.1,58.7 L102.1,59.1 L104.1,59.9 L106.0,60.9 L108.5,61.9 L111.0,63.5" stroke="#003a00"/>
<path d="M157.9,142.1 L161.9,141.2 L164.9,144.6 L166.8,147.2 L166.3,150.7 L165.8,152.8 L167.3,155.3 L168.8,158.7 L169.8,159.9 L170.8,161.8 L171.8,164.1 L172.7,166.3 L173.7,167.7 L174.7,170.0 L175.7,171.3 L176.7,173.5 L177.7,175.5 L179.7,177.0 L181.6,178.9 L183.6,179.9 L185.6,181.5 L189.5,180.5 L191.5,179.5 L193.5,178.6 L196.4,177.0 L199.4,179.6 L203.3,179.7 L207.3,179.9 L211.2,180.2 L215.2,181.4 L217.2,182.2 L219.1,184.3 L221.1,184.5 L223.1,185.9 L227.0,185.6 L229.0,182.9 L231.0,182.9 L234.9,182.7 L236.9,180.9 L238.9,179.8 L240.3,177.4 L241.8,175.1 L242.5,172.3 L243.1,169.8 L243.8,167.5 L244.5,164.7 L245.1,162.5 L245.8,159.5 L246.4,158.0 L247.1,154.4 L247.7,152.5 L248.7,149.6 L249.7,148.1 L250.4,147.6 L251.0,143.3 L251.7,142.0 L252.7,138.9 L253.7,136.9 L254.3,132.7 L255.0,131.4 L255.6,128.0 L256.3,125.6 L257.0,122.7 L257.6,120.7 L259.6,117.9 L261.6,118.0 L264.5,119.6 L267.5,121.2 L270.4,118.9 L274.0,121.5 L274.0,120.8 L276.0,119.0 L277.9,118.2 L279.9,116.5 L281.9,116.2 L283.9,114.1 L285.8,112.4 L287.8,110.4 L289.8,108.5 L291.1,106.5 L292.4,104.2 L293.7,103.6 L294.7,99.1 L295.7,95.7 L296.7,94.7 L297.4,92.2 L298.2,90.0 L298.9,87.2 L299.7,84.8 L300.6,82.4 L301.6,80.0 L302.6,76.8 L303.4,74.3 L304.1,72.9 L304.8,69.8 L305.6,66.7 L306.6,66.2 L307.6,63.5 L308.5,60.9 L310.5,58.7 L312.5,57.4 L314.5,55.1 L316.4,53.2 L319.4,52.3 L323.3,54.0 L327.3,55.8 L329.3,56.5 L331.2,57.6 L334.2,61.5 L335.7,58.7 L337.2,56.6 L338.6,55.1 L340.1,52.8 L343.1,50.3 L344.1,52.6 L345.0,54.4 L346.0,57.5 L347.0,59.8 L348.0,61.3 L349.0,63.0 L351.0,65.5 L352.9,67.7 L353.9,69.9 L354.9,72.3 L355.9,74.4 L356.9,76.8 L357.9,78.2 L358.9,81.1 L359.8,82.9 L360.8,84.3 L361.8,85.8 L362.8,88.8 L363.8,91.3 L364.8,92.4 L366.1,94.5 L367.4,96.4 L368.7,99.0 L370.2,100.2 L371.7,103.1 L372.7,105.1 L373.7,108.3 L374.7,110.5 L375.6,112.4 L376.6,113.8 L377.6,116.1 L379.6,118.3 L381.6,120.7 L383.5,122.5 L385.5,124.0 L386.8,126.5 L388.1,128.7 L389.5,130.2 L390.4,132.0 L391.4,134.0 L392.4,136.5 L394.0,138.4 L394.0,140.7 L395.5,143.7 L397.0,145.8 L397.9,147.7 L398.9,150.5 L396.5,150.4 L394.0,149.7 L397.0,150.5 L399.9,151.2 L401.9,153.2 L403.9,155.9 L405.2,158.2 L406.5,159.1 L407.8,162.0 L409.1,164.5 L410.4,166.7 L411.8,168.1 L413.7,171.4 L415.7,173.3 L416.7,176.6 L417.7,179.2 L418.7,181.7 L419.7,183.9 L420.6,186.6 L421.6,189.9 L422.6,191.4 L423.6,194.3 L424.6,196.6 L426.1,198.2 L427.6,201.4 L430.5,201.3 L433.5,201.9 L436.4,197.4 L437.9,195.4 L439.4,194.8 L440.9,192.2 L442.4,189.3 L443.3,187.1 L444.3,184.0 L445.3,182.3 L448.3,181.1 L451.2,183.5 L455.2,184.9 L457.2,185.5 L459.1,186.7 L462.1,184.2 L465.0,182.4 L467.0,181.1 L469.0,179.5 L470.5,178.2 L472.0,175.3 L474.9,174.5 L476.9,170.8 L478.9,169.2 L481.8,165.4 L483.3,164.6 L484.8,161.9 L487.7,159.1 L490.7,156.3 L492.2,153.7 L493.7,151.5 L495.6,149.1 L493.2,150.5 L490.7,149.7 L491.7,147.1 L492.7,144.7 L493.7,143.0 L494.7,138.7 L495.6,136.9 L496.6,134.0 L497.4,132.0 L498.1,128.5 L498.8,126.6 L499.6,124.7 L500.6,122.4 L501.6,119.8 L502.5,116.1 L503.3,114.0 L504.0,111.5 L504.8,108.4 L505.5,105.9 L506.5,104.3 L507.5,101.4 L508.5,98.6 L509.5,97.3 L510.4,94.3 L511.4,93.0 L512.7,90.8 L514.0,88.8 L514.0,88.0 L517.9,86.9 L519.9,86.0 L521.9,85.0 L525.8,84.7 L528.8,85.7 L531.8,85.3 L532.7,87.6 L533.7,89.6 L536.7,91.1 L538.7,88.9 L540.6,88.3 L543.6,84.5 L544.6,82.7 L545.6,81.1 L546.6,78.8 L547.6,76.4 L550.5,73.4 L552.0,70.5 L553.5,67.7 L556.4,65.4 L558.4,64.3 L560.4,62.7 L564.3,62.6 L567.3,59.3 L568.8,56.8 L570.2,55.3" stroke="#003a00"/>
<path d="M617.3,117.8 L619.8,119.8 L622.2,122.3 L624.2,123.8 L626.2,127.1 L627.2,128.5 L628.2,130.5 L629.1,133.4 L629.9,134.9 L630.6,137.0 L631.4,139.6 L632.1,142.0 L632.8,143.9 L633.6,146.6 L634.3,148.4 L635.1,151.1 L635.8,153.6 L636.5,155.6 L637.3,158.0 L638.0,160.4 L638.6,163.4 L639.2,165.8 L639.8,168.1 L640.4,170.7 L641.0,172.4 L642.0,175.6 L643.0,178.4 L643.9,181.3 L645.3,182.8 L646.6,185.3 L647.9,186.9 L649.9,189.1 L651.8,189.8 L653.8,189.2 L655.8,189.3 L657.8,185.8 L659.7,185.2 L661.7,184.0 L663.7,182.7 L667.6,181.5 L671.6,180.2 L673.2,179.9" stroke="#003a00"/>
<path d="M57.7,136.2 L59.7,134.5 L61.6,133.5 L63.6,134.1 L65.6,135.0 L67.6,133.2 L69.5,132.1 L70.2,130.3 L70.8,127.2 L71.5,125.0 L72.2,121.9 L72.8,119.3 L73.5,116.6 L74.5,112.5 L75.4,111.0 L76.9,108.4 L78.4,105.9 L79.9,102.1 L81.4,99.6 L84.3,98.1 L86.3,96.7 L88.3,95.5 L91.2,97.7 L94.2,99.0 L95.7,96.1 L97.2,94.5 L99.1,93.6 L101.1,92.0 L104.1,95.8 L106.0,97.5 L108.0,100.4 L109.3,101.6 L110.6,103.8 L112.0,106.4 L113.4,109.1 L114.9,112.2 L115.9,114.5 L116.9,116.5 L117.9,118.7 L118.9,121.4 L121.8,125.4 L123.1,126.5 L124.5,129.4 L125.8,131.8 L127.7,132.7 L129.7,135.6 L131.2,138.3 L132.7,138.3 L133.7,141.3 L134.7,143.4 L135.6,144.9 L136.6,147.7 L137.4,149.7 L138.2,151.2 L139.0,155.0 L139.8,157.2 L140.6,159.8 L142.1,158.1 L143.5,155.5 L145.5,156.3 L147.5,156.5 L148.5,159.6 L149.5,160.8 L150.4,162.9 L151.6,165.0 L152.8,167.8 L154.0,170.7 L154.0,173.5 L157.9,170.9 L159.9,173.0 L161.9,175.8 L162.6,178.7 L163.4,180.4 L164.1,181.2 L164.9,183.0 L165.8,187.1 L166.8,188.7 L167.8,190.8 L170.8,195.0 L171.4,197.6 L172.0,199.6 L172.6,202.2 L173.1,204.9 L173.7,208.2 L174.3,210.0 L174.9,212.3 L175.5,214.7 L176.1,215.8 L176.7,219.8 L177.7,222.6 L178.7,225.3 L181.6,220.9 L184.6,219.7 L186.1,218.1 L187.6,214.0 L188.5,212.4 L189.5,210.5 L190.5,206.4 L191.3,205.7 L192.0,202.6 L192.7,199.7 L193.5,197.6 L194.5,195.1 L195.4,192.2 L196.4,190.2 L198.4,186.1 L199.4,188.2 L200.4,191.1 L203.3,187.5 L207.3,188.0 L211.2,190.0 L213.2,191.8 L215.2,192.2 L216.7,194.1 L218.1,197.3 L221.1,199.2 L224.1,200.1 L227.0,203.1 L230.0,202.7 L232.9,202.5 L235.9,199.6 L238.9,196.9 L240.3,195.8 L241.8,194.1 L243.3,192.0 L244.8,189.7 L245.5,187.1 L246.3,184.6 L247.0,182.4 L247.7,179.5 L248.5,177.3 L249.2,175.0 L250.0,172.2 L250.7,170.2 L251.4,167.6 L252.2,166.0 L252.9,162.5 L253.7,159.6 L255.1,157.2 L256.6,154.9 L258.6,154.5 L260.6,152.8 L262.1,155.2 L263.5,158.0 L266.5,157.3 L270.4,157.2 L272.2,159.5 L274.0,161.1 L275.2,158.8 L276.4,156.3 L277.5,154.7 L278.7,152.3 L279.9,149.7 L280.9,148.8 L281.9,144.9 L282.9,141.8 L283.9,139.1 L284.9,136.0 L285.8,133.5 L286.8,129.3 L287.8,128.0 L288.8,126.3 L289.8,122.3 L290.8,120.3 L291.8,118.7 L292.7,116.3 L293.7,114.4 L296.7,109.5 L299.7,107.3 L302.6,108.3 L305.6,110.9 L308.5,112.2 L311.5,108.9 L314.5,114.1 L316.4,111.6 L319.4,114.9 L323.3,113.2 L326.3,116.5 L329.3,120.1 L332.2,122.3 L335.2,123.5 L338.1,122.8 L341.1,119.4" stroke="#600000"/>
<path d="M401.9,187.5 L404.9,190.3 L407.8,193.7 L409.3,195.3 L410.8,197.2 L413.7,198.8 L414.7,201.2 L415.7,204.0 L416.7,205.5 L417.4,208.3 L418.2,210.3 L418.9,212.9 L419.7,215.2 L420.4,216.6 L421.1,220.6 L421.9,222.8 L422.6,225.3 L423.6,226.0 L424.6,227.9 L425.6,230.4 L427.1,232.6 L428.5,235.0 L429.5,236.8 L430.5,239.1 L432.0,240.4 L433.5,242.9 L437.4,244.0 L439.4,242.4 L441.4,242.8 L444.3,244.1 L447.3,247.0 L450.2,246.7 L453.2,245.3 L456.2,242.6 L459.1,239.7 L460.1,237.9 L461.1,235.3 L462.1,232.6 L462.7,229.7 L463.4,227.3 L464.1,225.7 L464.6,222.0 L465.0,220.2 L465.5,217.9 L466.0,214.2 L467.0,212.2 L468.0,210.0 L469.0,205.0 L470.0,203.1 L472.0,200.3 L473.9,196.9 L474.9,195.2 L475.9,192.4 L476.9,188.6 L477.9,187.0 L478.9,184.0 L479.8,181.2 L480.8,178.5 L481.8,174.9 L483.3,172.8 L484.8,169.9 L487.7,168.1 L488.7,165.4 L489.7,163.5 L490.7,161.1 L491.7,159.3 L492.7,157.6 L493.7,156.7 L494.7,152.7 L496.2,149.1 L496.6,150.1 L498.6,149.4 L500.6,147.4 L502.5,144.9 L504.5,143.5 L506.0,142.8 L507.5,139.7 L508.5,136.8 L509.5,135.4 L510.4,132.9 L511.4,129.4 L512.4,126.5 L514.0,123.6 L514.0,124.3 L517.9,123.1 L520.4,122.9 L522.9,122.7 L525.8,122.4 L529.8,124.1 L532.7,124.9 L534.2,122.2 L535.7,118.2 L536.7,117.0 L537.7,116.0 L538.7,112.4 L539.7,111.4 L540.6,110.1 L541.6,106.8 L542.6,106.6 L543.6,103.9 L544.6,101.5 L546.6,100.8 L548.5,104.0 L551.5,102.7 L554.5,104.3 L557.4,101.2 L560.4,103.4 L563.3,105.2 L566.3,102.6 L569.3,100.1 L572.2,99.2 L575.2,100.5 L578.1,98.4 L579.6,99.8 L581.1,102.5 L584.1,100.6 L587.0,99.5 L590.0,99.5 L592.9,97.7 L594.9,101.4 L596.9,103.6" stroke="#600000"/>
</g></g>
<rect x="34.50" y="1.00" width="639.50" height="294.50" fill="none" stroke="#555" stroke-width="1"/>
<line x1="30.00" y1="33.50" x2="34.50" y2="33.50" stroke="#1a1a1a" stroke-width="1.3"/>
<text x="27.20" y="36.40" font-size="8.8" text-anchor="end" fill="#161616" >30</text>
<line x1="30.00" y1="96.80" x2="34.50" y2="96.80" stroke="#1a1a1a" stroke-width="1.3"/>
<text x="27.20" y="99.70" font-size="8.8" text-anchor="end" fill="#161616" >20</text>
<line x1="30.00" y1="160.10" x2="34.50" y2="160.10" stroke="#1a1a1a" stroke-width="1.3"/>
<text x="27.20" y="163.00" font-size="8.8" text-anchor="end" fill="#161616" >10</text>
<line x1="30.00" y1="223.40" x2="34.50" y2="223.40" stroke="#1a1a1a" stroke-width="1.3"/>
<text x="27.20" y="226.30" font-size="8.8" text-anchor="end" fill="#161616" >0</text>
<line x1="30.00" y1="286.70" x2="34.50" y2="286.70" stroke="#1a1a1a" stroke-width="1.3"/>
<text x="27.20" y="289.60" font-size="8.8" text-anchor="end" fill="#161616" >−10</text>
<line x1="34.50" y1="295.50" x2="34.50" y2="297.90" stroke="#1a1a1a" stroke-width="1.3"/>
<line x1="54.48" y1="295.50" x2="54.48" y2="297.90" stroke="#1a1a1a" stroke-width="1.3"/>
<line x1="74.47" y1="295.50" x2="74.47" y2="297.90" stroke="#1a1a1a" stroke-width="1.3"/>
<line x1="94.45" y1="295.50" x2="94.45" y2="297.90" stroke="#1a1a1a" stroke-width="1.3"/>
<line x1="114.44" y1="295.50" x2="114.44" y2="297.90" stroke="#1a1a1a" stroke-width="1.3"/>
<line x1="134.42" y1="295.50" x2="134.42" y2="297.90" stroke="#1a1a1a" stroke-width="1.3"/>
<line x1="154.40" y1="295.50" x2="154.40" y2="297.90" stroke="#1a1a1a" stroke-width="1.3"/>
<line x1="174.39" y1="295.50" x2="174.39" y2="297.90" stroke="#1a1a1a" stroke-width="1.3"/>
<line x1="194.37" y1="295.50" x2="194.37" y2="300.00" stroke="#1a1a1a" stroke-width="1.3"/>
<line x1="214.36" y1="295.50" x2="214.36" y2="297.90" stroke="#1a1a1a" stroke-width="1.3"/>
<line x1="234.34" y1="295.50" x2="234.34" y2="297.90" stroke="#1a1a1a" stroke-width="1.3"/>
<line x1="254.32" y1="295.50" x2="254.32" y2="297.90" stroke="#1a1a1a" stroke-width="1.3"/>
<line x1="274.31" y1="295.50" x2="274.31" y2="297.90" stroke="#1a1a1a" stroke-width="1.3"/>
<line x1="294.29" y1="295.50" x2="294.29" y2="297.90" stroke="#1a1a1a" stroke-width="1.3"/>
<line x1="314.28" y1="295.50" x2="314.28" y2="297.90" stroke="#1a1a1a" stroke-width="1.3"/>
<line x1="334.26" y1="295.50" x2="334.26" y2="297.90" stroke="#1a1a1a" stroke-width="1.3"/>
<line x1="354.24" y1="295.50" x2="354.24" y2="297.90" stroke="#1a1a1a" stroke-width="1.3"/>
<line x1="374.23" y1="295.50" x2="374.23" y2="297.90" stroke="#1a1a1a" stroke-width="1.3"/>
<line x1="394.21" y1="295.50" x2="394.21" y2="297.90" stroke="#1a1a1a" stroke-width="1.3"/>
<line x1="414.20" y1="295.50" x2="414.20" y2="297.90" stroke="#1a1a1a" stroke-width="1.3"/>
<line x1="434.18" y1="295.50" x2="434.18" y2="300.00" stroke="#1a1a1a" stroke-width="1.3"/>
<line x1="454.16" y1="295.50" x2="454.16" y2="297.90" stroke="#1a1a1a" stroke-width="1.3"/>
<line x1="474.15" y1="295.50" x2="474.15" y2="297.90" stroke="#1a1a1a" stroke-width="1.3"/>
<line x1="494.13" y1="295.50" x2="494.13" y2="297.90" stroke="#1a1a1a" stroke-width="1.3"/>
<line x1="514.12" y1="295.50" x2="514.12" y2="297.90" stroke="#1a1a1a" stroke-width="1.3"/>
<line x1="534.10" y1="295.50" x2="534.10" y2="297.90" stroke="#1a1a1a" stroke-width="1.3"/>
<line x1="554.08" y1="295.50" x2="554.08" y2="297.90" stroke="#1a1a1a" stroke-width="1.3"/>
<line x1="574.07" y1="295.50" x2="574.07" y2="297.90" stroke="#1a1a1a" stroke-width="1.3"/>
<line x1="594.05" y1="295.50" x2="594.05" y2="297.90" stroke="#1a1a1a" stroke-width="1.3"/>
<line x1="614.04" y1="295.50" x2="614.04" y2="297.90" stroke="#1a1a1a" stroke-width="1.3"/>
<line x1="634.02" y1="295.50" x2="634.02" y2="297.90" stroke="#1a1a1a" stroke-width="1.3"/>
<line x1="654.00" y1="295.50" x2="654.00" y2="297.90" stroke="#1a1a1a" stroke-width="1.3"/>
<line x1="673.99" y1="295.50" x2="673.99" y2="300.00" stroke="#1a1a1a" stroke-width="1.3"/>
<text x="194.50" y="312.60" font-size="10.3" text-anchor="middle" fill="#161616" class="ns">1659</text>
<text x="434.30" y="312.60" font-size="10.3" text-anchor="middle" fill="#161616" class="ns">1660</text>
<text x="674.00" y="312.60" font-size="10.3" text-anchor="middle" fill="#161616" class="ns">1661</text>
<text transform="translate(10.6,157.9) rotate(-90)" font-size="12" text-anchor="middle" fill="#161616">Temperature (°C)</text>
<text x="0.60" y="320.20" font-size="11.6" text-anchor="start" fill="#161616" >(a)</text>
<ellipse cx="526.9" cy="248.7" rx="2.6" ry="2.1" fill="#008000"/>
<ellipse cx="526.9" cy="262.0" rx="2.6" ry="2.1" fill="#ff0000"/>
<text x="541.60" y="252.70" font-size="10.5" text-anchor="start" fill="#161616" class="ns" textLength="92.7" lengthAdjust="spacingAndGlyphs">Florence 1658-1660</text>
<text x="541.60" y="265.90" font-size="10.5" text-anchor="start" fill="#161616" class="ns" textLength="76.5" lengthAdjust="spacingAndGlyphs">Paris 1658-1660</text>
<rect x="48.23" y="468.54" width="7.93" height="32.56" fill="#008000"/>
<rect x="56.16" y="493.22" width="7.93" height="7.88" fill="#ff0000"/>
<rect x="70.98" y="452.91" width="7.93" height="48.19" fill="#008000"/>
<rect x="78.91" y="491.07" width="7.93" height="10.03" fill="#ff0000"/>
<rect x="93.73" y="435.33" width="7.93" height="65.77" fill="#008000"/>
<rect x="101.66" y="457.01" width="7.93" height="44.09" fill="#ff0000"/>
<rect x="116.48" y="408.63" width="7.93" height="92.47" fill="#008000"/>
<rect x="124.41" y="426.21" width="7.93" height="74.89" fill="#ff0000"/>
<rect x="139.23" y="382.91" width="7.93" height="118.19" fill="#008000"/>
<rect x="147.16" y="407.33" width="7.93" height="93.77" fill="#ff0000"/>
<rect x="161.98" y="355.88" width="7.93" height="145.22" fill="#008000"/>
<rect x="169.91" y="390.72" width="7.93" height="110.38" fill="#ff0000"/>
<rect x="184.73" y="338.95" width="7.93" height="162.15" fill="#008000"/>
<rect x="192.66" y="382.58" width="7.93" height="118.52" fill="#ff0000"/>
<rect x="207.48" y="341.56" width="7.93" height="159.54" fill="#008000"/>
<rect x="215.41" y="381.28" width="7.93" height="119.82" fill="#ff0000"/>
<rect x="230.23" y="368.58" width="7.93" height="132.52" fill="#008000"/>
<rect x="238.16" y="404.72" width="7.93" height="96.38" fill="#ff0000"/>
<rect x="252.98" y="402.12" width="7.93" height="98.98" fill="#008000"/>
<rect x="260.91" y="429.66" width="7.93" height="71.44" fill="#ff0000"/>
<rect x="275.73" y="433.38" width="7.93" height="67.72" fill="#008000"/>
<rect x="283.66" y="462.48" width="7.93" height="38.62" fill="#ff0000"/>
<rect x="298.48" y="457.27" width="7.93" height="43.83" fill="#008000"/>
<rect x="306.41" y="501.10" width="7.93" height="1.30" fill="#ff0000"/>
<rect x="34.70" y="331.00" width="292.80" height="179.60" fill="none" stroke="#555" stroke-width="1"/>
<line x1="32.20" y1="501.10" x2="34.70" y2="501.10" stroke="#555" stroke-width="1"/>
<text x="29.70" y="504.10" font-size="8.6" text-anchor="end" fill="#161616" >0</text>
<line x1="32.20" y1="468.54" x2="34.70" y2="468.54" stroke="#555" stroke-width="1"/>
<text x="29.70" y="471.54" font-size="8.6" text-anchor="end" fill="#161616" >5</text>
<line x1="32.20" y1="435.98" x2="34.70" y2="435.98" stroke="#555" stroke-width="1"/>
<text x="29.70" y="438.98" font-size="8.6" text-anchor="end" fill="#161616" >10</text>
<line x1="32.20" y1="403.42" x2="34.70" y2="403.42" stroke="#555" stroke-width="1"/>
<text x="29.70" y="406.42" font-size="8.6" text-anchor="end" fill="#161616" >15</text>
<line x1="32.20" y1="370.86" x2="34.70" y2="370.86" stroke="#555" stroke-width="1"/>
<text x="29.70" y="373.86" font-size="8.6" text-anchor="end" fill="#161616" >20</text>
<line x1="32.20" y1="338.30" x2="34.70" y2="338.30" stroke="#555" stroke-width="1"/>
<text x="29.70" y="341.30" font-size="8.6" text-anchor="end" fill="#161616" >25</text>
<line x1="56.16" y1="510.60" x2="56.16" y2="512.80" stroke="#555" stroke-width="1"/>
<text x="56.16" y="521.70" font-size="8.6" text-anchor="middle" fill="#161616" >1</text>
<line x1="78.91" y1="510.60" x2="78.91" y2="512.80" stroke="#555" stroke-width="1"/>
<text x="78.91" y="521.70" font-size="8.6" text-anchor="middle" fill="#161616" >2</text>
<line x1="101.66" y1="510.60" x2="101.66" y2="512.80" stroke="#555" stroke-width="1"/>
<text x="101.66" y="521.70" font-size="8.6" text-anchor="middle" fill="#161616" >3</text>
<line x1="124.41" y1="510.60" x2="124.41" y2="512.80" stroke="#555" stroke-width="1"/>
<text x="124.41" y="521.70" font-size="8.6" text-anchor="middle" fill="#161616" >4</text>
<line x1="147.16" y1="510.60" x2="147.16" y2="512.80" stroke="#555" stroke-width="1"/>
<text x="147.16" y="521.70" font-size="8.6" text-anchor="middle" fill="#161616" >5</text>
<line x1="169.91" y1="510.60" x2="169.91" y2="512.80" stroke="#555" stroke-width="1"/>
<text x="169.91" y="521.70" font-size="8.6" text-anchor="middle" fill="#161616" >6</text>
<line x1="192.66" y1="510.60" x2="192.66" y2="512.80" stroke="#555" stroke-width="1"/>
<text x="192.66" y="521.70" font-size="8.6" text-anchor="middle" fill="#161616" >7</text>
<line x1="215.41" y1="510.60" x2="215.41" y2="512.80" stroke="#555" stroke-width="1"/>
<text x="215.41" y="521.70" font-size="8.6" text-anchor="middle" fill="#161616" >8</text>
<line x1="238.16" y1="510.60" x2="238.16" y2="512.80" stroke="#555" stroke-width="1"/>
<text x="238.16" y="521.70" font-size="8.6" text-anchor="middle" fill="#161616" >9</text>
<line x1="260.91" y1="510.60" x2="260.91" y2="512.80" stroke="#555" stroke-width="1"/>
<text x="260.91" y="521.70" font-size="8.6" text-anchor="middle" fill="#161616" >10</text>
<line x1="283.66" y1="510.60" x2="283.66" y2="512.80" stroke="#555" stroke-width="1"/>
<text x="283.66" y="521.70" font-size="8.6" text-anchor="middle" fill="#161616" >11</text>
<line x1="306.41" y1="510.60" x2="306.41" y2="512.80" stroke="#555" stroke-width="1"/>
<text x="306.41" y="521.70" font-size="8.6" text-anchor="middle" fill="#161616" >12</text>
<text x="181.10" y="533.40" font-size="11.6" text-anchor="middle" fill="#161616" >Months</text>
<text x="1.00" y="533.40" font-size="11.6" text-anchor="start" fill="#161616" >(b)</text>
<rect x="240.90" y="338.10" width="14.10" height="5.40" fill="#ff0000"/>
<rect x="240.90" y="349.20" width="14.10" height="5.40" fill="#008000"/>
<text x="260.80" y="343.60" font-size="8.7" text-anchor="start" fill="#161616" textLength="47.0" lengthAdjust="spacingAndGlyphs">Paris 1658-60</text>
<text x="260.80" y="354.70" font-size="8.7" text-anchor="start" fill="#161616" textLength="60.2" lengthAdjust="spacingAndGlyphs">Florence 1658-60</text>
<text transform="translate(10.6,421.4) rotate(-90)" font-size="12" text-anchor="middle" fill="#161616">Temperature (°C)</text>
<rect x="48.23" y="694.24" width="7.93" height="40.26" fill="#008000"/>
<rect x="56.16" y="706.24" width="7.93" height="28.26" fill="#ff0000"/>
<rect x="70.98" y="683.24" width="7.93" height="51.26" fill="#008000"/>
<rect x="78.91" y="700.77" width="7.93" height="33.73" fill="#ff0000"/>
<rect x="93.73" y="664.78" width="7.93" height="69.72" fill="#008000"/>
<rect x="101.66" y="678.98" width="7.93" height="55.52" fill="#ff0000"/>
<rect x="116.48" y="640.99" width="7.93" height="93.51" fill="#008000"/>
<rect x="124.41" y="658.03" width="7.93" height="76.47" fill="#ff0000"/>
<rect x="139.23" y="612.02" width="7.93" height="122.47" fill="#008000"/>
<rect x="147.16" y="630.49" width="7.93" height="104.02" fill="#ff0000"/>
<rect x="161.98" y="585.75" width="7.93" height="148.74" fill="#008000"/>
<rect x="169.91" y="609.54" width="7.93" height="124.96" fill="#ff0000"/>
<rect x="184.73" y="563.25" width="7.93" height="171.25" fill="#008000"/>
<rect x="192.66" y="594.99" width="7.93" height="139.51" fill="#ff0000"/>
<rect x="207.48" y="566.02" width="7.93" height="168.48" fill="#008000"/>
<rect x="215.41" y="597.75" width="7.93" height="136.75" fill="#ff0000"/>
<rect x="230.23" y="590.01" width="7.93" height="144.49" fill="#008000"/>
<rect x="238.16" y="617.49" width="7.93" height="117.01" fill="#ff0000"/>
<rect x="252.98" y="624.24" width="7.93" height="110.26" fill="#008000"/>
<rect x="260.91" y="649.02" width="7.93" height="85.48" fill="#ff0000"/>
<rect x="275.73" y="662.79" width="7.93" height="71.71" fill="#008000"/>
<rect x="283.66" y="683.02" width="7.93" height="51.47" fill="#ff0000"/>
<rect x="298.48" y="689.06" width="7.93" height="45.44" fill="#008000"/>
<rect x="306.41" y="700.99" width="7.93" height="33.51" fill="#ff0000"/>
<rect x="34.70" y="554.60" width="292.80" height="179.90" fill="none" stroke="#555" stroke-width="1"/>
<line x1="32.20" y1="734.50" x2="34.70" y2="734.50" stroke="#555" stroke-width="1"/>
<text x="29.70" y="737.50" font-size="8.6" text-anchor="end" fill="#161616" >0</text>
<line x1="32.20" y1="699.00" x2="34.70" y2="699.00" stroke="#555" stroke-width="1"/>
<text x="29.70" y="702.00" font-size="8.6" text-anchor="end" fill="#161616" >5</text>
<line x1="32.20" y1="663.50" x2="34.70" y2="663.50" stroke="#555" stroke-width="1"/>
<text x="29.70" y="666.50" font-size="8.6" text-anchor="end" fill="#161616" >10</text>
<line x1="32.20" y1="628.00" x2="34.70" y2="628.00" stroke="#555" stroke-width="1"/>
<text x="29.70" y="631.00" font-size="8.6" text-anchor="end" fill="#161616" >15</text>
<line x1="32.20" y1="592.50" x2="34.70" y2="592.50" stroke="#555" stroke-width="1"/>
<text x="29.70" y="595.50" font-size="8.6" text-anchor="end" fill="#161616" >20</text>
<line x1="32.20" y1="557.00" x2="34.70" y2="557.00" stroke="#555" stroke-width="1"/>
<text x="29.70" y="560.00" font-size="8.6" text-anchor="end" fill="#161616" >25</text>
<line x1="56.16" y1="734.50" x2="56.16" y2="736.70" stroke="#555" stroke-width="1"/>
<text x="56.16" y="745.60" font-size="8.6" text-anchor="middle" fill="#161616" >1</text>
<line x1="78.91" y1="734.50" x2="78.91" y2="736.70" stroke="#555" stroke-width="1"/>
<text x="78.91" y="745.60" font-size="8.6" text-anchor="middle" fill="#161616" >2</text>
<line x1="101.66" y1="734.50" x2="101.66" y2="736.70" stroke="#555" stroke-width="1"/>
<text x="101.66" y="745.60" font-size="8.6" text-anchor="middle" fill="#161616" >3</text>
<line x1="124.41" y1="734.50" x2="124.41" y2="736.70" stroke="#555" stroke-width="1"/>
<text x="124.41" y="745.60" font-size="8.6" text-anchor="middle" fill="#161616" >4</text>
<line x1="147.16" y1="734.50" x2="147.16" y2="736.70" stroke="#555" stroke-width="1"/>
<text x="147.16" y="745.60" font-size="8.6" text-anchor="middle" fill="#161616" >5</text>
<line x1="169.91" y1="734.50" x2="169.91" y2="736.70" stroke="#555" stroke-width="1"/>
<text x="169.91" y="745.60" font-size="8.6" text-anchor="middle" fill="#161616" >6</text>
<line x1="192.66" y1="734.50" x2="192.66" y2="736.70" stroke="#555" stroke-width="1"/>
<text x="192.66" y="745.60" font-size="8.6" text-anchor="middle" fill="#161616" >7</text>
<line x1="215.41" y1="734.50" x2="215.41" y2="736.70" stroke="#555" stroke-width="1"/>
<text x="215.41" y="745.60" font-size="8.6" text-anchor="middle" fill="#161616" >8</text>
<line x1="238.16" y1="734.50" x2="238.16" y2="736.70" stroke="#555" stroke-width="1"/>
<text x="238.16" y="745.60" font-size="8.6" text-anchor="middle" fill="#161616" >9</text>
<line x1="260.91" y1="734.50" x2="260.91" y2="736.70" stroke="#555" stroke-width="1"/>
<text x="260.91" y="745.60" font-size="8.6" text-anchor="middle" fill="#161616" >10</text>
<line x1="283.66" y1="734.50" x2="283.66" y2="736.70" stroke="#555" stroke-width="1"/>
<text x="283.66" y="745.60" font-size="8.6" text-anchor="middle" fill="#161616" >11</text>
<line x1="306.41" y1="734.50" x2="306.41" y2="736.70" stroke="#555" stroke-width="1"/>
<text x="306.41" y="745.60" font-size="8.6" text-anchor="middle" fill="#161616" >12</text>
<text x="181.10" y="758.20" font-size="11.6" text-anchor="middle" fill="#161616" >Months</text>
<text x="1.00" y="757.00" font-size="11.6" text-anchor="start" fill="#161616" >(d)</text>
<rect x="240.90" y="561.90" width="14.10" height="5.40" fill="#ff0000"/>
<rect x="240.90" y="573.20" width="14.10" height="5.40" fill="#008000"/>
<text x="260.80" y="567.40" font-size="8.7" text-anchor="start" fill="#161616" textLength="47.0" lengthAdjust="spacingAndGlyphs">Paris 1961-90</text>
<text x="260.80" y="578.70" font-size="8.7" text-anchor="start" fill="#161616" textLength="60.2" lengthAdjust="spacingAndGlyphs">Florence 1961-90</text>
<text transform="translate(10.6,647.8) rotate(-90)" font-size="12" text-anchor="middle" fill="#161616">Temperature (°C)</text>
<rect x="394.95" y="417.29" width="15.80" height="92.91" fill="#8e8e8e"/>
<rect x="417.72" y="366.68" width="15.80" height="143.52" fill="#8e8e8e"/>
<rect x="440.49" y="429.76" width="15.80" height="80.44" fill="#8e8e8e"/>
<rect x="463.26" y="443.94" width="15.80" height="66.26" fill="#8e8e8e"/>
<rect x="486.03" y="418.02" width="15.80" height="92.18" fill="#8e8e8e"/>
<rect x="508.80" y="380.62" width="15.80" height="129.58" fill="#8e8e8e"/>
<rect x="531.57" y="347.61" width="15.80" height="162.59" fill="#8e8e8e"/>
<rect x="554.34" y="363.01" width="15.80" height="147.19" fill="#8e8e8e"/>
<rect x="577.11" y="374.01" width="15.80" height="136.19" fill="#8e8e8e"/>
<rect x="599.88" y="408.00" width="15.80" height="102.20" fill="#8e8e8e"/>
<rect x="622.65" y="401.15" width="15.80" height="109.05" fill="#8e8e8e"/>
<rect x="645.42" y="339.05" width="15.80" height="171.15" fill="#8e8e8e"/>
<rect x="381.50" y="330.50" width="292.90" height="179.70" fill="none" stroke="#555" stroke-width="1"/>
<line x1="379.00" y1="510.20" x2="381.50" y2="510.20" stroke="#555" stroke-width="1"/>
<text x="376.20" y="513.20" font-size="8.6" text-anchor="end" fill="#161616" >0</text>
<line x1="379.00" y1="485.75" x2="381.50" y2="485.75" stroke="#555" stroke-width="1"/>
<text x="376.20" y="488.75" font-size="8.6" text-anchor="end" fill="#161616" >1</text>
<line x1="379.00" y1="461.30" x2="381.50" y2="461.30" stroke="#555" stroke-width="1"/>
<text x="376.20" y="464.30" font-size="8.6" text-anchor="end" fill="#161616" >2</text>
<line x1="379.00" y1="436.85" x2="381.50" y2="436.85" stroke="#555" stroke-width="1"/>
<text x="376.20" y="439.85" font-size="8.6" text-anchor="end" fill="#161616" >3</text>
<line x1="379.00" y1="412.40" x2="381.50" y2="412.40" stroke="#555" stroke-width="1"/>
<text x="376.20" y="415.40" font-size="8.6" text-anchor="end" fill="#161616" >4</text>
<line x1="379.00" y1="387.95" x2="381.50" y2="387.95" stroke="#555" stroke-width="1"/>
<text x="376.20" y="390.95" font-size="8.6" text-anchor="end" fill="#161616" >5</text>
<line x1="379.00" y1="363.50" x2="381.50" y2="363.50" stroke="#555" stroke-width="1"/>
<text x="376.20" y="366.50" font-size="8.6" text-anchor="end" fill="#161616" >6</text>
<line x1="379.00" y1="339.05" x2="381.50" y2="339.05" stroke="#555" stroke-width="1"/>
<text x="376.20" y="342.05" font-size="8.6" text-anchor="end" fill="#161616" >7</text>
<line x1="402.85" y1="510.20" x2="402.85" y2="512.40" stroke="#555" stroke-width="1"/>
<text x="402.85" y="521.30" font-size="8.6" text-anchor="middle" fill="#161616" >1</text>
<line x1="425.62" y1="510.20" x2="425.62" y2="512.40" stroke="#555" stroke-width="1"/>
<text x="425.62" y="521.30" font-size="8.6" text-anchor="middle" fill="#161616" >2</text>
<line x1="448.39" y1="510.20" x2="448.39" y2="512.40" stroke="#555" stroke-width="1"/>
<text x="448.39" y="521.30" font-size="8.6" text-anchor="middle" fill="#161616" >3</text>
<line x1="471.16" y1="510.20" x2="471.16" y2="512.40" stroke="#555" stroke-width="1"/>
<text x="471.16" y="521.30" font-size="8.6" text-anchor="middle" fill="#161616" >4</text>
<line x1="493.93" y1="510.20" x2="493.93" y2="512.40" stroke="#555" stroke-width="1"/>
<text x="493.93" y="521.30" font-size="8.6" text-anchor="middle" fill="#161616" >5</text>
<line x1="516.70" y1="510.20" x2="516.70" y2="512.40" stroke="#555" stroke-width="1"/>
<text x="516.70" y="521.30" font-size="8.6" text-anchor="middle" fill="#161616" >6</text>
<line x1="539.47" y1="510.20" x2="539.47" y2="512.40" stroke="#555" stroke-width="1"/>
<text x="539.47" y="521.30" font-size="8.6" text-anchor="middle" fill="#161616" >7</text>
<line x1="562.24" y1="510.20" x2="562.24" y2="512.40" stroke="#555" stroke-width="1"/>
<text x="562.24" y="521.30" font-size="8.6" text-anchor="middle" fill="#161616" >8</text>
<line x1="585.01" y1="510.20" x2="585.01" y2="512.40" stroke="#555" stroke-width="1"/>
<text x="585.01" y="521.30" font-size="8.6" text-anchor="middle" fill="#161616" >9</text>
<line x1="607.78" y1="510.20" x2="607.78" y2="512.40" stroke="#555" stroke-width="1"/>
<text x="607.78" y="521.30" font-size="8.6" text-anchor="middle" fill="#161616" >10</text>
<line x1="630.55" y1="510.20" x2="630.55" y2="512.40" stroke="#555" stroke-width="1"/>
<text x="630.55" y="521.30" font-size="8.6" text-anchor="middle" fill="#161616" >11</text>
<line x1="653.32" y1="510.20" x2="653.32" y2="512.40" stroke="#555" stroke-width="1"/>
<text x="653.32" y="521.30" font-size="8.6" text-anchor="middle" fill="#161616" >12</text>
<text x="527.95" y="533.30" font-size="11.6" text-anchor="middle" fill="#161616" >Months</text>
<text x="356.80" y="533.40" font-size="11.6" text-anchor="start" fill="#161616" >(c)</text>
<text x="388.80" y="343.90" font-size="9.5" text-anchor="start" fill="#161616" class="ns" textLength="95.8" lengthAdjust="spacingAndGlyphs">Florence-Paris 1658-60</text>
<text transform="translate(364.0,418.1) rotate(-90)" font-size="12" text-anchor="middle" fill="#161616">Temperature Difference (°C)</text>
<rect x="394.95" y="671.01" width="15.80" height="63.29" fill="#8e8e8e"/>
<rect x="417.72" y="639.93" width="15.80" height="94.37" fill="#8e8e8e"/>
<rect x="440.49" y="656.98" width="15.80" height="77.32" fill="#8e8e8e"/>
<rect x="463.26" y="643.34" width="15.80" height="90.96" fill="#8e8e8e"/>
<rect x="486.03" y="634.24" width="15.80" height="100.06" fill="#8e8e8e"/>
<rect x="508.80" y="605.44" width="15.80" height="128.86" fill="#8e8e8e"/>
<rect x="531.57" y="565.64" width="15.80" height="168.66" fill="#8e8e8e"/>
<rect x="554.34" y="563.37" width="15.80" height="170.93" fill="#8e8e8e"/>
<rect x="577.11" y="585.73" width="15.80" height="148.57" fill="#8e8e8e"/>
<rect x="599.88" y="603.17" width="15.80" height="131.13" fill="#8e8e8e"/>
<rect x="622.65" y="624.77" width="15.80" height="109.53" fill="#8e8e8e"/>
<rect x="645.42" y="669.11" width="15.80" height="65.19" fill="#8e8e8e"/>
<rect x="381.40" y="554.60" width="292.90" height="179.70" fill="none" stroke="#555" stroke-width="1"/>
<line x1="378.90" y1="734.30" x2="381.40" y2="734.30" stroke="#555" stroke-width="1"/>
<text x="376.20" y="737.30" font-size="8.6" text-anchor="end" fill="#161616" >0</text>
<line x1="378.90" y1="696.40" x2="381.40" y2="696.40" stroke="#555" stroke-width="1"/>
<text x="376.20" y="699.40" font-size="8.6" text-anchor="end" fill="#161616" >1</text>
<line x1="378.90" y1="658.50" x2="381.40" y2="658.50" stroke="#555" stroke-width="1"/>
<text x="376.20" y="661.50" font-size="8.6" text-anchor="end" fill="#161616" >2</text>
<line x1="378.90" y1="620.60" x2="381.40" y2="620.60" stroke="#555" stroke-width="1"/>
<text x="376.20" y="623.60" font-size="8.6" text-anchor="end" fill="#161616" >3</text>
<line x1="378.90" y1="582.70" x2="381.40" y2="582.70" stroke="#555" stroke-width="1"/>
<text x="376.20" y="585.70" font-size="8.6" text-anchor="end" fill="#161616" >4</text>
<line x1="402.85" y1="734.30" x2="402.85" y2="736.50" stroke="#555" stroke-width="1"/>
<text x="402.85" y="745.40" font-size="8.6" text-anchor="middle" fill="#161616" >1</text>
<line x1="425.62" y1="734.30" x2="425.62" y2="736.50" stroke="#555" stroke-width="1"/>
<text x="425.62" y="745.40" font-size="8.6" text-anchor="middle" fill="#161616" >2</text>
<line x1="448.39" y1="734.30" x2="448.39" y2="736.50" stroke="#555" stroke-width="1"/>
<text x="448.39" y="745.40" font-size="8.6" text-anchor="middle" fill="#161616" >3</text>
<line x1="471.16" y1="734.30" x2="471.16" y2="736.50" stroke="#555" stroke-width="1"/>
<text x="471.16" y="745.40" font-size="8.6" text-anchor="middle" fill="#161616" >4</text>
<line x1="493.93" y1="734.30" x2="493.93" y2="736.50" stroke="#555" stroke-width="1"/>
<text x="493.93" y="745.40" font-size="8.6" text-anchor="middle" fill="#161616" >5</text>
<line x1="516.70" y1="734.30" x2="516.70" y2="736.50" stroke="#555" stroke-width="1"/>
<text x="516.70" y="745.40" font-size="8.6" text-anchor="middle" fill="#161616" >6</text>
<line x1="539.47" y1="734.30" x2="539.47" y2="736.50" stroke="#555" stroke-width="1"/>
<text x="539.47" y="745.40" font-size="8.6" text-anchor="middle" fill="#161616" >7</text>
<line x1="562.24" y1="734.30" x2="562.24" y2="736.50" stroke="#555" stroke-width="1"/>
<text x="562.24" y="745.40" font-size="8.6" text-anchor="middle" fill="#161616" >8</text>
<line x1="585.01" y1="734.30" x2="585.01" y2="736.50" stroke="#555" stroke-width="1"/>
<text x="585.01" y="745.40" font-size="8.6" text-anchor="middle" fill="#161616" >9</text>
<line x1="607.78" y1="734.30" x2="607.78" y2="736.50" stroke="#555" stroke-width="1"/>
<text x="607.78" y="745.40" font-size="8.6" text-anchor="middle" fill="#161616" >10</text>
<line x1="630.55" y1="734.30" x2="630.55" y2="736.50" stroke="#555" stroke-width="1"/>
<text x="630.55" y="745.40" font-size="8.6" text-anchor="middle" fill="#161616" >11</text>
<line x1="653.32" y1="734.30" x2="653.32" y2="736.50" stroke="#555" stroke-width="1"/>
<text x="653.32" y="745.40" font-size="8.6" text-anchor="middle" fill="#161616" >12</text>
<text x="527.85" y="758.20" font-size="11.6" text-anchor="middle" fill="#161616" >Months</text>
<text x="356.80" y="757.00" font-size="11.6" text-anchor="start" fill="#161616" >(e)</text>
<text x="388.80" y="570.00" font-size="9.5" text-anchor="start" fill="#161616" class="ns" textLength="95.8" lengthAdjust="spacingAndGlyphs">Florence-Paris 1961-90</text>
<text transform="translate(364.0,640.4) rotate(-90)" font-size="12" text-anchor="middle" fill="#161616">Temperature Difference (°C)</text>
</svg></body></html>
